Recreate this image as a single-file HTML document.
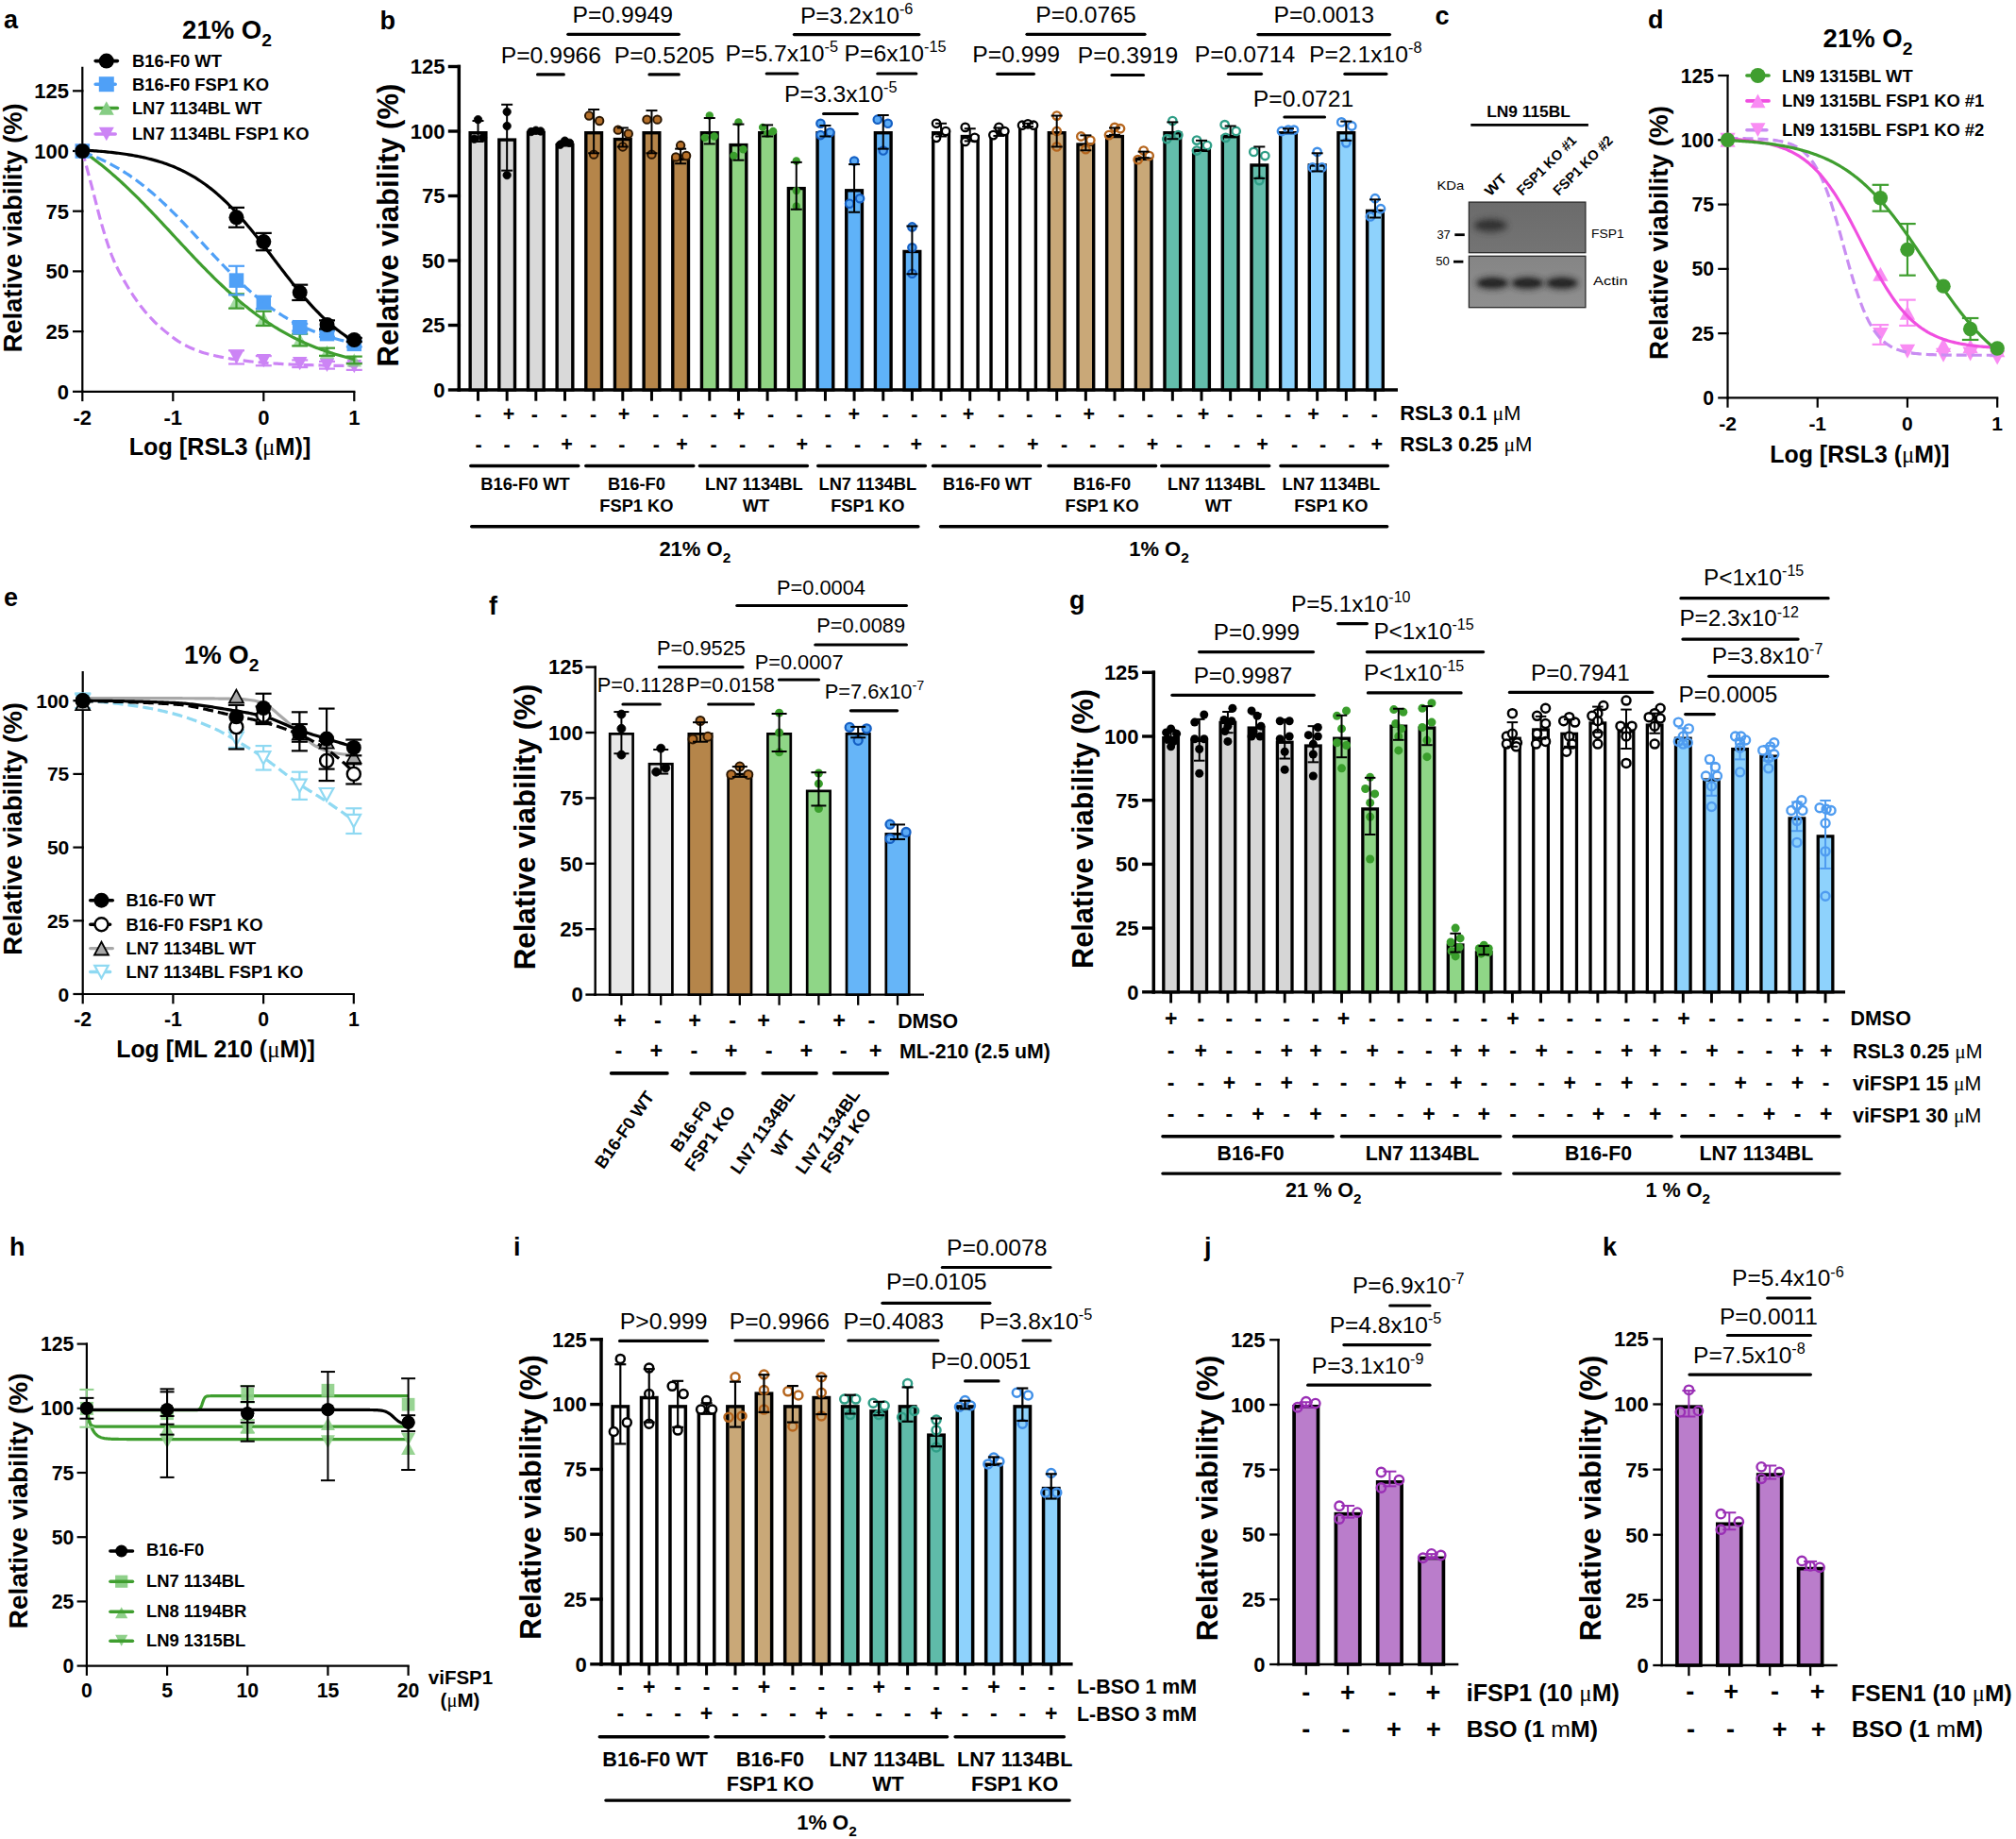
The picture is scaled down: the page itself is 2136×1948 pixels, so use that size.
<!DOCTYPE html>
<html lang="en"><head><meta charset="utf-8"><title>Figure</title>
<style>
html,body{margin:0;padding:0;background:#fff;}
body{width:2136px;height:1948px;overflow:hidden;}
svg{display:block;font-family:'Liberation Sans', Arial, Helvetica, sans-serif;}
</style></head><body>
<svg xmlns="http://www.w3.org/2000/svg" width="2136" height="1948" viewBox="0 0 2136 1948">
<defs>
<filter id="blur3" x="-30%" y="-60%" width="160%" height="220%"><feGaussianBlur stdDeviation="3.0"/></filter>
<filter id="blur2" x="-30%" y="-60%" width="160%" height="220%"><feGaussianBlur stdDeviation="1.8"/></filter>
</defs>
<rect x="0" y="0" width="2136" height="1948" fill="#ffffff"/>
<g id="panel_a">
<text x="4" y="30.3" font-size="27" font-weight="bold" text-anchor="start" fill="#000">a</text>
<text x="240.5" y="40.8" font-size="27.5" font-weight="bold" text-anchor="middle" fill="#000">21% O<tspan font-size="19.25" dy="8.53">2</tspan><tspan dy="-8.53"></tspan></text>
<line x1="87.3" y1="70.82" x2="87.3" y2="415.9" stroke="#000" stroke-width="2.2" stroke-linecap="butt"/>
<line x1="77" y1="414.8" x2="88.4" y2="414.8" stroke="#000" stroke-width="2.2" stroke-linecap="butt"/>
<text x="72.9" y="422.68" font-size="22" font-weight="bold" text-anchor="end" fill="#000">0</text>
<line x1="77" y1="351.1" x2="88.4" y2="351.1" stroke="#000" stroke-width="2.2" stroke-linecap="butt"/>
<text x="72.9" y="358.98" font-size="22" font-weight="bold" text-anchor="end" fill="#000">25</text>
<line x1="77" y1="287.4" x2="88.4" y2="287.4" stroke="#000" stroke-width="2.2" stroke-linecap="butt"/>
<text x="72.9" y="295.28" font-size="22" font-weight="bold" text-anchor="end" fill="#000">50</text>
<line x1="77" y1="223.7" x2="88.4" y2="223.7" stroke="#000" stroke-width="2.2" stroke-linecap="butt"/>
<text x="72.9" y="231.58" font-size="22" font-weight="bold" text-anchor="end" fill="#000">75</text>
<line x1="77" y1="160" x2="88.4" y2="160" stroke="#000" stroke-width="2.2" stroke-linecap="butt"/>
<text x="72.9" y="167.88" font-size="22" font-weight="bold" text-anchor="end" fill="#000">100</text>
<line x1="77" y1="96.3" x2="88.4" y2="96.3" stroke="#000" stroke-width="2.2" stroke-linecap="butt"/>
<text x="72.9" y="104.18" font-size="22" font-weight="bold" text-anchor="end" fill="#000">125</text>
<text x="23.1" y="241.3" font-size="27.3" font-weight="bold" text-anchor="middle" fill="#000" transform="rotate(-90 23.1 241.3)">Relative viability (%)</text>
<line x1="86.2" y1="414.8" x2="376.4" y2="414.8" stroke="#000" stroke-width="2.2" stroke-linecap="butt"/>
<line x1="87.3" y1="414.8" x2="87.3" y2="425.1" stroke="#000" stroke-width="2.2" stroke-linecap="butt"/>
<text x="87.3" y="449.5" font-size="22" font-weight="bold" text-anchor="middle" fill="#000">-2</text>
<line x1="183.3" y1="414.8" x2="183.3" y2="425.1" stroke="#000" stroke-width="2.2" stroke-linecap="butt"/>
<text x="183.3" y="449.5" font-size="22" font-weight="bold" text-anchor="middle" fill="#000">-1</text>
<line x1="279.3" y1="414.8" x2="279.3" y2="425.1" stroke="#000" stroke-width="2.2" stroke-linecap="butt"/>
<text x="279.3" y="449.5" font-size="22" font-weight="bold" text-anchor="middle" fill="#000">0</text>
<line x1="375.3" y1="414.8" x2="375.3" y2="425.1" stroke="#000" stroke-width="2.2" stroke-linecap="butt"/>
<text x="375.3" y="449.5" font-size="22" font-weight="bold" text-anchor="middle" fill="#000">1</text>
<text x="233" y="482" font-size="25.2" font-weight="bold" text-anchor="middle" fill="#000">Log [RSL3 (<tspan font-family='"Liberation Serif", serif' font-weight="normal">μ</tspan>M)]</text>
<polygon points="87.3,167.13 95.05,152.87 79.55,152.87" fill="#cc84f5" stroke="none" stroke-width="0" stroke-linejoin="miter"/>
<line x1="250.5" y1="371.23" x2="250.5" y2="385.5" stroke="#cc84f5" stroke-width="2.2" stroke-linecap="butt"/>
<line x1="242" y1="371.23" x2="259" y2="371.23" stroke="#cc84f5" stroke-width="2.2" stroke-linecap="butt"/>
<line x1="242" y1="385.5" x2="259" y2="385.5" stroke="#cc84f5" stroke-width="2.2" stroke-linecap="butt"/>
<polygon points="250.5,385.49 258.25,371.23 242.75,371.23" fill="#cc84f5" stroke="none" stroke-width="0" stroke-linejoin="miter"/>
<line x1="279.3" y1="377.09" x2="279.3" y2="387.28" stroke="#cc84f5" stroke-width="2.2" stroke-linecap="butt"/>
<line x1="270.8" y1="377.09" x2="287.8" y2="377.09" stroke="#cc84f5" stroke-width="2.2" stroke-linecap="butt"/>
<line x1="270.8" y1="387.28" x2="287.8" y2="387.28" stroke="#cc84f5" stroke-width="2.2" stroke-linecap="butt"/>
<polygon points="279.3,389.32 287.05,375.06 271.55,375.06" fill="#cc84f5" stroke="none" stroke-width="0" stroke-linejoin="miter"/>
<line x1="317.7" y1="381.42" x2="317.7" y2="389.07" stroke="#cc84f5" stroke-width="2.2" stroke-linecap="butt"/>
<line x1="309.2" y1="381.42" x2="326.2" y2="381.42" stroke="#cc84f5" stroke-width="2.2" stroke-linecap="butt"/>
<line x1="309.2" y1="389.07" x2="326.2" y2="389.07" stroke="#cc84f5" stroke-width="2.2" stroke-linecap="butt"/>
<polygon points="317.7,392.37 325.45,378.11 309.95,378.11" fill="#cc84f5" stroke="none" stroke-width="0" stroke-linejoin="miter"/>
<line x1="346.5" y1="382.95" x2="346.5" y2="390.59" stroke="#cc84f5" stroke-width="2.2" stroke-linecap="butt"/>
<line x1="338" y1="382.95" x2="355" y2="382.95" stroke="#cc84f5" stroke-width="2.2" stroke-linecap="butt"/>
<line x1="338" y1="390.59" x2="355" y2="390.59" stroke="#cc84f5" stroke-width="2.2" stroke-linecap="butt"/>
<polygon points="346.5,393.9 354.25,379.64 338.75,379.64" fill="#cc84f5" stroke="none" stroke-width="0" stroke-linejoin="miter"/>
<line x1="375.3" y1="384.22" x2="375.3" y2="391.87" stroke="#cc84f5" stroke-width="2.2" stroke-linecap="butt"/>
<line x1="366.8" y1="384.22" x2="383.8" y2="384.22" stroke="#cc84f5" stroke-width="2.2" stroke-linecap="butt"/>
<line x1="366.8" y1="391.87" x2="383.8" y2="391.87" stroke="#cc84f5" stroke-width="2.2" stroke-linecap="butt"/>
<polygon points="375.3,395.18 383.05,380.92 367.55,380.92" fill="#cc84f5" stroke="none" stroke-width="0" stroke-linejoin="miter"/>
<path d="M87.3 160 L89.11 166.82 L90.92 173.65 L92.73 180.48 L94.55 187.32 L96.36 194.17 L98.17 201.03 L99.98 208.05 L101.79 215.19 L103.6 222.3 L105.41 229.25 L107.22 235.9 L109.04 242.12 L110.85 248.09 L112.66 253.9 L114.47 259.48 L116.28 264.78 L118.09 269.72 L119.9 274.24 L121.72 278.42 L123.53 282.33 L125.34 286 L127.15 289.49 L128.96 292.82 L130.77 296.03 L132.58 299.16 L134.39 302.23 L136.21 305.23 L138.02 308.16 L139.83 311.01 L141.64 313.78 L143.45 316.47 L145.26 319.08 L147.07 321.59 L148.88 324.01 L150.7 326.34 L152.51 328.57 L154.32 330.71 L156.13 332.79 L157.94 334.81 L159.75 336.77 L161.56 338.67 L163.38 340.51 L165.19 342.29 L167 344.01 L168.81 345.69 L170.62 347.3 L172.43 348.87 L174.24 350.39 L176.05 351.87 L177.87 353.33 L179.68 354.76 L181.49 356.16 L183.3 357.52 L185.11 358.84 L186.92 360.11 L188.73 361.33 L190.55 362.49 L192.36 363.59 L194.17 364.62 L195.98 365.58 L197.79 366.48 L199.6 367.36 L201.41 368.2 L203.22 369.01 L205.04 369.79 L206.85 370.54 L208.66 371.25 L210.47 371.93 L212.28 372.56 L214.09 373.16 L215.9 373.73 L217.72 374.25 L219.53 374.74 L221.34 375.21 L223.15 375.67 L224.96 376.11 L226.77 376.53 L228.58 376.94 L230.39 377.34 L232.21 377.72 L234.02 378.09 L235.83 378.45 L237.64 378.79 L239.45 379.12 L241.26 379.44 L243.07 379.75 L244.88 380.05 L246.7 380.34 L248.51 380.62 L250.32 380.89 L252.13 381.15 L253.94 381.4 L255.75 381.65 L257.56 381.9 L259.38 382.14 L261.19 382.37 L263 382.59 L264.81 382.81 L266.62 383.02 L268.43 383.22 L270.24 383.41 L272.05 383.59 L273.87 383.76 L275.68 383.93 L277.49 384.08 L279.3 384.22 L281.11 384.36 L282.92 384.49 L284.73 384.62 L286.55 384.75 L288.36 384.87 L290.17 384.99 L291.98 385.11 L293.79 385.22 L295.6 385.33 L297.41 385.44 L299.22 385.54 L301.04 385.64 L302.85 385.73 L304.66 385.82 L306.47 385.9 L308.28 385.98 L310.09 386.06 L311.9 386.13 L313.72 386.19 L315.53 386.25 L317.34 386.31 L319.15 386.37 L320.96 386.43 L322.77 386.49 L324.58 386.54 L326.39 386.6 L328.21 386.66 L330.02 386.71 L331.83 386.76 L333.64 386.82 L335.45 386.87 L337.26 386.92 L339.07 386.97 L340.88 387.02 L342.7 387.07 L344.51 387.11 L346.32 387.16 L348.13 387.2 L349.94 387.24 L351.75 387.28 L353.56 387.31 L355.38 387.35 L357.19 387.38 L359 387.41 L360.81 387.43 L362.62 387.46 L364.43 387.48 L366.24 387.49 L368.05 387.51 L369.87 387.52 L371.68 387.53 L373.49 387.53 L375.3 387.54" fill="none" stroke="#cc84f5" stroke-width="3.2" stroke-linejoin="round" stroke-linecap="butt" stroke-dasharray="11 5"/>
<polygon points="250.5,311.87 258.25,326.13 242.75,326.13" fill="#86cd84" stroke="none" stroke-width="0" stroke-linejoin="miter" fill-opacity="0.75"/>
<line x1="250.5" y1="311.35" x2="250.5" y2="326.64" stroke="#3f9e2f" stroke-width="2.2" stroke-linecap="butt"/>
<line x1="242" y1="311.35" x2="259" y2="311.35" stroke="#3f9e2f" stroke-width="2.2" stroke-linecap="butt"/>
<line x1="242" y1="326.64" x2="259" y2="326.64" stroke="#3f9e2f" stroke-width="2.2" stroke-linecap="butt"/>
<polygon points="279.3,330.21 287.05,344.47 271.55,344.47" fill="#86cd84" stroke="none" stroke-width="0" stroke-linejoin="miter" fill-opacity="0.75"/>
<line x1="279.3" y1="329.7" x2="279.3" y2="344.98" stroke="#3f9e2f" stroke-width="2.2" stroke-linecap="butt"/>
<line x1="270.8" y1="329.7" x2="287.8" y2="329.7" stroke="#3f9e2f" stroke-width="2.2" stroke-linecap="butt"/>
<line x1="270.8" y1="344.98" x2="287.8" y2="344.98" stroke="#3f9e2f" stroke-width="2.2" stroke-linecap="butt"/>
<polygon points="317.7,352.89 325.45,367.15 309.95,367.15" fill="#86cd84" stroke="none" stroke-width="0" stroke-linejoin="miter" fill-opacity="0.75"/>
<line x1="317.7" y1="353.65" x2="317.7" y2="366.39" stroke="#3f9e2f" stroke-width="2.2" stroke-linecap="butt"/>
<line x1="309.2" y1="353.65" x2="326.2" y2="353.65" stroke="#3f9e2f" stroke-width="2.2" stroke-linecap="butt"/>
<line x1="309.2" y1="366.39" x2="326.2" y2="366.39" stroke="#3f9e2f" stroke-width="2.2" stroke-linecap="butt"/>
<polygon points="346.5,365.63 354.25,379.89 338.75,379.89" fill="#86cd84" stroke="none" stroke-width="0" stroke-linejoin="miter" fill-opacity="0.75"/>
<line x1="346.5" y1="368.68" x2="346.5" y2="376.83" stroke="#3f9e2f" stroke-width="2.2" stroke-linecap="butt"/>
<line x1="338" y1="368.68" x2="355" y2="368.68" stroke="#3f9e2f" stroke-width="2.2" stroke-linecap="butt"/>
<line x1="338" y1="376.83" x2="355" y2="376.83" stroke="#3f9e2f" stroke-width="2.2" stroke-linecap="butt"/>
<polygon points="375.3,374.29 383.05,388.55 367.55,388.55" fill="#86cd84" stroke="none" stroke-width="0" stroke-linejoin="miter" fill-opacity="0.75"/>
<line x1="375.3" y1="377.6" x2="375.3" y2="385.24" stroke="#3f9e2f" stroke-width="2.2" stroke-linecap="butt"/>
<line x1="366.8" y1="377.6" x2="383.8" y2="377.6" stroke="#3f9e2f" stroke-width="2.2" stroke-linecap="butt"/>
<line x1="366.8" y1="385.24" x2="383.8" y2="385.24" stroke="#3f9e2f" stroke-width="2.2" stroke-linecap="butt"/>
<path d="M87.3 159.92 L89.11 161.16 L90.92 162.41 L92.73 163.69 L94.55 164.98 L96.36 166.3 L98.17 167.63 L99.98 168.99 L101.79 170.37 L103.6 171.76 L105.41 173.17 L107.22 174.61 L109.04 176.06 L110.85 177.54 L112.66 179.03 L114.47 180.54 L116.28 182.07 L118.09 183.62 L119.9 185.19 L121.72 186.77 L123.53 188.38 L125.34 190 L127.15 191.64 L128.96 193.29 L130.77 194.97 L132.58 196.66 L134.39 198.36 L136.21 200.08 L138.02 201.82 L139.83 203.57 L141.64 205.34 L143.45 207.12 L145.26 208.92 L147.07 210.73 L148.88 212.55 L150.7 214.38 L152.51 216.23 L154.32 218.08 L156.13 219.95 L157.94 221.83 L159.75 223.71 L161.56 225.61 L163.38 227.51 L165.19 229.42 L167 231.34 L168.81 233.27 L170.62 235.2 L172.43 237.13 L174.24 239.07 L176.05 241.02 L177.87 242.96 L179.68 244.91 L181.49 246.86 L183.3 248.82 L185.11 250.77 L186.92 252.72 L188.73 254.67 L190.55 256.62 L192.36 258.57 L194.17 260.52 L195.98 262.46 L197.79 264.39 L199.6 266.33 L201.41 268.25 L203.22 270.17 L205.04 272.09 L206.85 273.99 L208.66 275.89 L210.47 277.78 L212.28 279.66 L214.09 281.52 L215.9 283.38 L217.72 285.23 L219.53 287.07 L221.34 288.89 L223.15 290.7 L224.96 292.5 L226.77 294.28 L228.58 296.05 L230.39 297.81 L232.21 299.55 L234.02 301.28 L235.83 302.99 L237.64 304.68 L239.45 306.36 L241.26 308.02 L243.07 309.66 L244.88 311.29 L246.7 312.89 L248.51 314.48 L250.32 316.06 L252.13 317.61 L253.94 319.14 L255.75 320.66 L257.56 322.16 L259.38 323.63 L261.19 325.09 L263 326.53 L264.81 327.95 L266.62 329.35 L268.43 330.73 L270.24 332.09 L272.05 333.43 L273.87 334.75 L275.68 336.05 L277.49 337.33 L279.3 338.59 L281.11 339.83 L282.92 341.05 L284.73 342.25 L286.55 343.43 L288.36 344.6 L290.17 345.74 L291.98 346.86 L293.79 347.96 L295.6 349.05 L297.41 350.11 L299.22 351.16 L301.04 352.19 L302.85 353.2 L304.66 354.19 L306.47 355.16 L308.28 356.12 L310.09 357.05 L311.9 357.97 L313.72 358.87 L315.53 359.75 L317.34 360.62 L319.15 361.47 L320.96 362.3 L322.77 363.12 L324.58 363.92 L326.39 364.7 L328.21 365.47 L330.02 366.22 L331.83 366.96 L333.64 367.68 L335.45 368.39 L337.26 369.08 L339.07 369.75 L340.88 370.42 L342.7 371.06 L344.51 371.7 L346.32 372.32 L348.13 372.93 L349.94 373.52 L351.75 374.1 L353.56 374.67 L355.38 375.23 L357.19 375.77 L359 376.3 L360.81 376.82 L362.62 377.33 L364.43 377.82 L366.24 378.31 L368.05 378.78 L369.87 379.25 L371.68 379.7 L373.49 380.14 L375.3 380.57" fill="none" stroke="#3f9e2f" stroke-width="3.2" stroke-linejoin="round" stroke-linecap="butt"/>
<polygon points="79.55,152.25 95.05,152.25 95.05,167.75 79.55,167.75" fill="#4fa0f7" stroke="none" stroke-width="0" stroke-linejoin="miter"/>
<line x1="250.5" y1="281.79" x2="250.5" y2="312.37" stroke="#4fa0f7" stroke-width="2.2" stroke-linecap="butt"/>
<line x1="242" y1="281.79" x2="259" y2="281.79" stroke="#4fa0f7" stroke-width="2.2" stroke-linecap="butt"/>
<line x1="242" y1="312.37" x2="259" y2="312.37" stroke="#4fa0f7" stroke-width="2.2" stroke-linecap="butt"/>
<polygon points="242.75,289.33 258.25,289.33 258.25,304.83 242.75,304.83" fill="#4fa0f7" stroke="none" stroke-width="0" stroke-linejoin="miter"/>
<line x1="279.3" y1="313.9" x2="279.3" y2="327.15" stroke="#4fa0f7" stroke-width="2.2" stroke-linecap="butt"/>
<line x1="270.8" y1="313.9" x2="287.8" y2="313.9" stroke="#4fa0f7" stroke-width="2.2" stroke-linecap="butt"/>
<line x1="270.8" y1="327.15" x2="287.8" y2="327.15" stroke="#4fa0f7" stroke-width="2.2" stroke-linecap="butt"/>
<polygon points="271.55,312.77 287.05,312.77 287.05,328.27 271.55,328.27" fill="#4fa0f7" stroke="none" stroke-width="0" stroke-linejoin="miter"/>
<line x1="317.7" y1="342.95" x2="317.7" y2="350.59" stroke="#4fa0f7" stroke-width="2.2" stroke-linecap="butt"/>
<line x1="309.2" y1="342.95" x2="326.2" y2="342.95" stroke="#4fa0f7" stroke-width="2.2" stroke-linecap="butt"/>
<line x1="309.2" y1="350.59" x2="326.2" y2="350.59" stroke="#4fa0f7" stroke-width="2.2" stroke-linecap="butt"/>
<polygon points="309.95,339.02 325.45,339.02 325.45,354.52 309.95,354.52" fill="#4fa0f7" stroke="none" stroke-width="0" stroke-linejoin="miter"/>
<line x1="346.5" y1="350.59" x2="346.5" y2="356.71" stroke="#4fa0f7" stroke-width="2.2" stroke-linecap="butt"/>
<line x1="338" y1="350.59" x2="355" y2="350.59" stroke="#4fa0f7" stroke-width="2.2" stroke-linecap="butt"/>
<line x1="338" y1="356.71" x2="355" y2="356.71" stroke="#4fa0f7" stroke-width="2.2" stroke-linecap="butt"/>
<polygon points="338.75,345.9 354.25,345.9 354.25,361.4 338.75,361.4" fill="#4fa0f7" stroke="none" stroke-width="0" stroke-linejoin="miter"/>
<line x1="375.3" y1="361.29" x2="375.3" y2="367.41" stroke="#4fa0f7" stroke-width="2.2" stroke-linecap="butt"/>
<line x1="366.8" y1="361.29" x2="383.8" y2="361.29" stroke="#4fa0f7" stroke-width="2.2" stroke-linecap="butt"/>
<line x1="366.8" y1="367.41" x2="383.8" y2="367.41" stroke="#4fa0f7" stroke-width="2.2" stroke-linecap="butt"/>
<polygon points="367.55,356.6 383.05,356.6 383.05,372.1 367.55,372.1" fill="#4fa0f7" stroke="none" stroke-width="0" stroke-linejoin="miter"/>
<path d="M87.3 160.85 L89.11 161.48 L90.92 162.14 L92.73 162.81 L94.55 163.5 L96.36 164.21 L98.17 164.94 L99.98 165.68 L101.79 166.45 L103.6 167.24 L105.41 168.04 L107.22 168.87 L109.04 169.72 L110.85 170.59 L112.66 171.48 L114.47 172.4 L116.28 173.33 L118.09 174.29 L119.9 175.28 L121.72 176.28 L123.53 177.31 L125.34 178.36 L127.15 179.44 L128.96 180.54 L130.77 181.67 L132.58 182.82 L134.39 183.99 L136.21 185.19 L138.02 186.41 L139.83 187.66 L141.64 188.94 L143.45 190.24 L145.26 191.56 L147.07 192.91 L148.88 194.28 L150.7 195.68 L152.51 197.11 L154.32 198.55 L156.13 200.03 L157.94 201.53 L159.75 203.05 L161.56 204.59 L163.38 206.16 L165.19 207.75 L167 209.37 L168.81 211 L170.62 212.66 L172.43 214.34 L174.24 216.04 L176.05 217.76 L177.87 219.5 L179.68 221.26 L181.49 223.04 L183.3 224.83 L185.11 226.64 L186.92 228.47 L188.73 230.32 L190.55 232.17 L192.36 234.04 L194.17 235.93 L195.98 237.82 L197.79 239.73 L199.6 241.64 L201.41 243.57 L203.22 245.5 L205.04 247.44 L206.85 249.38 L208.66 251.33 L210.47 253.28 L212.28 255.23 L214.09 257.19 L215.9 259.15 L217.72 261.1 L219.53 263.06 L221.34 265.01 L223.15 266.95 L224.96 268.89 L226.77 270.83 L228.58 272.76 L230.39 274.68 L232.21 276.59 L234.02 278.49 L235.83 280.38 L237.64 282.25 L239.45 284.12 L241.26 285.97 L243.07 287.8 L244.88 289.62 L246.7 291.42 L248.51 293.21 L250.32 294.98 L252.13 296.73 L253.94 298.46 L255.75 300.17 L257.56 301.86 L259.38 303.53 L261.19 305.17 L263 306.8 L264.81 308.4 L266.62 309.98 L268.43 311.54 L270.24 313.07 L272.05 314.58 L273.87 316.06 L275.68 317.52 L277.49 318.96 L279.3 320.37 L281.11 321.76 L282.92 323.12 L284.73 324.46 L286.55 325.77 L288.36 327.05 L290.17 328.31 L291.98 329.55 L293.79 330.76 L295.6 331.95 L297.41 333.11 L299.22 334.25 L301.04 335.36 L302.85 336.45 L304.66 337.51 L306.47 338.55 L308.28 339.57 L310.09 340.56 L311.9 341.53 L313.72 342.48 L315.53 343.41 L317.34 344.31 L319.15 345.19 L320.96 346.05 L322.77 346.89 L324.58 347.71 L326.39 348.5 L328.21 349.28 L330.02 350.04 L331.83 350.77 L333.64 351.49 L335.45 352.19 L337.26 352.87 L339.07 353.53 L340.88 354.18 L342.7 354.8 L344.51 355.41 L346.32 356.01 L348.13 356.58 L349.94 357.15 L351.75 357.69 L353.56 358.22 L355.38 358.74 L357.19 359.24 L359 359.72 L360.81 360.2 L362.62 360.66 L364.43 361.1 L366.24 361.54 L368.05 361.96 L369.87 362.36 L371.68 362.76 L373.49 363.15 L375.3 363.52" fill="none" stroke="#4fa0f7" stroke-width="3.2" stroke-linejoin="round" stroke-linecap="butt" stroke-dasharray="11 5"/>
<path d="M87.3 158.98 L89.11 159.08 L90.92 159.19 L92.73 159.3 L94.55 159.42 L96.36 159.54 L98.17 159.66 L99.98 159.79 L101.79 159.93 L103.6 160.07 L105.41 160.22 L107.22 160.37 L109.04 160.53 L110.85 160.69 L112.66 160.86 L114.47 161.04 L116.28 161.23 L118.09 161.42 L119.9 161.62 L121.72 161.83 L123.53 162.04 L125.34 162.27 L127.15 162.5 L128.96 162.75 L130.77 163 L132.58 163.26 L134.39 163.53 L136.21 163.82 L138.02 164.11 L139.83 164.41 L141.64 164.73 L143.45 165.06 L145.26 165.4 L147.07 165.76 L148.88 166.12 L150.7 166.5 L152.51 166.9 L154.32 167.31 L156.13 167.74 L157.94 168.18 L159.75 168.64 L161.56 169.11 L163.38 169.61 L165.19 170.12 L167 170.65 L168.81 171.2 L170.62 171.76 L172.43 172.35 L174.24 172.96 L176.05 173.59 L177.87 174.25 L179.68 174.92 L181.49 175.62 L183.3 176.35 L185.11 177.1 L186.92 177.87 L188.73 178.67 L190.55 179.5 L192.36 180.35 L194.17 181.23 L195.98 182.14 L197.79 183.08 L199.6 184.05 L201.41 185.05 L203.22 186.08 L205.04 187.14 L206.85 188.24 L208.66 189.37 L210.47 190.53 L212.28 191.72 L214.09 192.95 L215.9 194.22 L217.72 195.51 L219.53 196.85 L221.34 198.22 L223.15 199.63 L224.96 201.07 L226.77 202.55 L228.58 204.07 L230.39 205.62 L232.21 207.21 L234.02 208.84 L235.83 210.51 L237.64 212.21 L239.45 213.95 L241.26 215.72 L243.07 217.53 L244.88 219.38 L246.7 221.26 L248.51 223.18 L250.32 225.13 L252.13 227.11 L253.94 229.13 L255.75 231.18 L257.56 233.25 L259.38 235.36 L261.19 237.5 L263 239.66 L264.81 241.85 L266.62 244.06 L268.43 246.3 L270.24 248.56 L272.05 250.84 L273.87 253.14 L275.68 255.45 L277.49 257.78 L279.3 260.12 L281.11 262.47 L282.92 264.84 L284.73 267.21 L286.55 269.59 L288.36 271.97 L290.17 274.35 L291.98 276.73 L293.79 279.12 L295.6 281.49 L297.41 283.86 L299.22 286.23 L301.04 288.58 L302.85 290.93 L304.66 293.26 L306.47 295.57 L308.28 297.87 L310.09 300.15 L311.9 302.41 L313.72 304.65 L315.53 306.87 L317.34 309.06 L319.15 311.22 L320.96 313.36 L322.77 315.47 L324.58 317.55 L326.39 319.6 L328.21 321.62 L330.02 323.61 L331.83 325.56 L333.64 327.48 L335.45 329.36 L337.26 331.21 L339.07 333.03 L340.88 334.8 L342.7 336.55 L344.51 338.25 L346.32 339.92 L348.13 341.55 L349.94 343.14 L351.75 344.7 L353.56 346.22 L355.38 347.7 L357.19 349.15 L359 350.56 L360.81 351.93 L362.62 353.27 L364.43 354.57 L366.24 355.84 L368.05 357.07 L369.87 358.27 L371.68 359.43 L373.49 360.56 L375.3 361.66" fill="none" stroke="#000" stroke-width="3.2" stroke-linejoin="round" stroke-linecap="butt"/>
<line x1="250.5" y1="219.88" x2="250.5" y2="240.77" stroke="#000" stroke-width="2.2" stroke-linecap="butt"/>
<line x1="242" y1="219.88" x2="259" y2="219.88" stroke="#000" stroke-width="2.2" stroke-linecap="butt"/>
<line x1="242" y1="240.77" x2="259" y2="240.77" stroke="#000" stroke-width="2.2" stroke-linecap="butt"/>
<circle cx="250.5" cy="230.32" r="8" fill="#000" stroke="none" stroke-width="0"/>
<line x1="279.3" y1="246.89" x2="279.3" y2="265.23" stroke="#000" stroke-width="2.2" stroke-linecap="butt"/>
<line x1="270.8" y1="246.89" x2="287.8" y2="246.89" stroke="#000" stroke-width="2.2" stroke-linecap="butt"/>
<line x1="270.8" y1="265.23" x2="287.8" y2="265.23" stroke="#000" stroke-width="2.2" stroke-linecap="butt"/>
<circle cx="279.3" cy="256.06" r="8" fill="#000" stroke="none" stroke-width="0"/>
<line x1="317.7" y1="301.67" x2="317.7" y2="317.98" stroke="#000" stroke-width="2.2" stroke-linecap="butt"/>
<line x1="309.2" y1="301.67" x2="326.2" y2="301.67" stroke="#000" stroke-width="2.2" stroke-linecap="butt"/>
<line x1="309.2" y1="317.98" x2="326.2" y2="317.98" stroke="#000" stroke-width="2.2" stroke-linecap="butt"/>
<circle cx="317.7" cy="309.82" r="8" fill="#000" stroke="none" stroke-width="0"/>
<line x1="346.5" y1="339.38" x2="346.5" y2="348.55" stroke="#000" stroke-width="2.2" stroke-linecap="butt"/>
<line x1="338" y1="339.38" x2="355" y2="339.38" stroke="#000" stroke-width="2.2" stroke-linecap="butt"/>
<line x1="338" y1="348.55" x2="355" y2="348.55" stroke="#000" stroke-width="2.2" stroke-linecap="butt"/>
<circle cx="346.5" cy="343.97" r="8" fill="#000" stroke="none" stroke-width="0"/>
<line x1="375.3" y1="357.98" x2="375.3" y2="362.06" stroke="#000" stroke-width="2.2" stroke-linecap="butt"/>
<line x1="366.8" y1="357.98" x2="383.8" y2="357.98" stroke="#000" stroke-width="2.2" stroke-linecap="butt"/>
<line x1="366.8" y1="362.06" x2="383.8" y2="362.06" stroke="#000" stroke-width="2.2" stroke-linecap="butt"/>
<circle cx="375.3" cy="360.02" r="8" fill="#000" stroke="none" stroke-width="0"/>
<circle cx="87.3" cy="160" r="8" fill="#000" stroke="none" stroke-width="0"/>
<line x1="101.2" y1="64.6" x2="124.4" y2="64.6" stroke="#000" stroke-width="3.6" stroke-linecap="round"/>
<circle cx="112.8" cy="64.6" r="8" fill="#000" stroke="none" stroke-width="0"/>
<text x="139.9" y="71.3" font-size="18.4" font-weight="bold" text-anchor="start" fill="#000">B16-F0 WT</text>
<line x1="101.2" y1="89.2" x2="124.4" y2="89.2" stroke="#4fa0f7" stroke-width="3.6" stroke-linecap="round" stroke-dasharray="9 3"/>
<polygon points="104.8,81.2 120.8,81.2 120.8,97.2 104.8,97.2" fill="#4fa0f7" stroke="none" stroke-width="0" stroke-linejoin="miter"/>
<text x="139.9" y="95.6" font-size="18.4" font-weight="bold" text-anchor="start" fill="#000">B16-F0 FSP1 KO</text>
<line x1="101.2" y1="114.5" x2="124.4" y2="114.5" stroke="#3f9e2f" stroke-width="3.6" stroke-linecap="round"/>
<polygon points="112.8,107.14 120.8,121.86 104.8,121.86" fill="#86cd84" stroke="none" stroke-width="0" stroke-linejoin="miter"/>
<text x="139.9" y="120.7" font-size="18.4" font-weight="bold" text-anchor="start" fill="#000">LN7 1134BL WT</text>
<line x1="101.2" y1="142" x2="124.4" y2="142" stroke="#cc84f5" stroke-width="3.6" stroke-linecap="round" stroke-dasharray="9 3"/>
<polygon points="112.8,149.36 120.8,134.64 104.8,134.64" fill="#cc84f5" stroke="none" stroke-width="0" stroke-linejoin="miter"/>
<text x="139.9" y="148.3" font-size="18.4" font-weight="bold" text-anchor="start" fill="#000">LN7 1134BL FSP1 KO</text>
</g>
<g id="panel_b">
<text x="402.5" y="31.2" font-size="27" font-weight="bold" text-anchor="start" fill="#000">b</text>
<line x1="486.3" y1="68.8" x2="486.3" y2="414.75" stroke="#000" stroke-width="3.5" stroke-linecap="butt"/>
<line x1="474.8" y1="413" x2="488.05" y2="413" stroke="#000" stroke-width="3.4" stroke-linecap="butt"/>
<text x="471.5" y="420.88" font-size="22" font-weight="bold" text-anchor="end" fill="#000">0</text>
<line x1="474.8" y1="344.5" x2="488.05" y2="344.5" stroke="#000" stroke-width="3.4" stroke-linecap="butt"/>
<text x="471.5" y="352.38" font-size="22" font-weight="bold" text-anchor="end" fill="#000">25</text>
<line x1="474.8" y1="276" x2="488.05" y2="276" stroke="#000" stroke-width="3.4" stroke-linecap="butt"/>
<text x="471.5" y="283.88" font-size="22" font-weight="bold" text-anchor="end" fill="#000">50</text>
<line x1="474.8" y1="207.5" x2="488.05" y2="207.5" stroke="#000" stroke-width="3.4" stroke-linecap="butt"/>
<text x="471.5" y="215.38" font-size="22" font-weight="bold" text-anchor="end" fill="#000">75</text>
<line x1="474.8" y1="139" x2="488.05" y2="139" stroke="#000" stroke-width="3.4" stroke-linecap="butt"/>
<text x="471.5" y="146.88" font-size="22" font-weight="bold" text-anchor="end" fill="#000">100</text>
<line x1="474.8" y1="70.5" x2="488.05" y2="70.5" stroke="#000" stroke-width="3.4" stroke-linecap="butt"/>
<text x="471.5" y="78.38" font-size="22" font-weight="bold" text-anchor="end" fill="#000">125</text>
<text x="422.4" y="238.6" font-size="31" font-weight="bold" text-anchor="middle" fill="#000" transform="rotate(-90 422.4 238.6)">Relative viability (%)</text>
<line x1="484.55" y1="413" x2="1481" y2="413" stroke="#000" stroke-width="3.4" stroke-linecap="butt"/>
<line x1="506.5" y1="413" x2="506.5" y2="424.7" stroke="#000" stroke-width="3" stroke-linecap="butt"/>
<line x1="537.16" y1="413" x2="537.16" y2="424.7" stroke="#000" stroke-width="3" stroke-linecap="butt"/>
<line x1="567.82" y1="413" x2="567.82" y2="424.7" stroke="#000" stroke-width="3" stroke-linecap="butt"/>
<line x1="598.48" y1="413" x2="598.48" y2="424.7" stroke="#000" stroke-width="3" stroke-linecap="butt"/>
<line x1="629.14" y1="413" x2="629.14" y2="424.7" stroke="#000" stroke-width="3" stroke-linecap="butt"/>
<line x1="659.8" y1="413" x2="659.8" y2="424.7" stroke="#000" stroke-width="3" stroke-linecap="butt"/>
<line x1="690.46" y1="413" x2="690.46" y2="424.7" stroke="#000" stroke-width="3" stroke-linecap="butt"/>
<line x1="721.12" y1="413" x2="721.12" y2="424.7" stroke="#000" stroke-width="3" stroke-linecap="butt"/>
<line x1="751.78" y1="413" x2="751.78" y2="424.7" stroke="#000" stroke-width="3" stroke-linecap="butt"/>
<line x1="782.44" y1="413" x2="782.44" y2="424.7" stroke="#000" stroke-width="3" stroke-linecap="butt"/>
<line x1="813.1" y1="413" x2="813.1" y2="424.7" stroke="#000" stroke-width="3" stroke-linecap="butt"/>
<line x1="843.76" y1="413" x2="843.76" y2="424.7" stroke="#000" stroke-width="3" stroke-linecap="butt"/>
<line x1="874.42" y1="413" x2="874.42" y2="424.7" stroke="#000" stroke-width="3" stroke-linecap="butt"/>
<line x1="905.08" y1="413" x2="905.08" y2="424.7" stroke="#000" stroke-width="3" stroke-linecap="butt"/>
<line x1="935.74" y1="413" x2="935.74" y2="424.7" stroke="#000" stroke-width="3" stroke-linecap="butt"/>
<line x1="966.4" y1="413" x2="966.4" y2="424.7" stroke="#000" stroke-width="3" stroke-linecap="butt"/>
<line x1="997.06" y1="413" x2="997.06" y2="424.7" stroke="#000" stroke-width="3" stroke-linecap="butt"/>
<line x1="1027.72" y1="413" x2="1027.72" y2="424.7" stroke="#000" stroke-width="3" stroke-linecap="butt"/>
<line x1="1058.38" y1="413" x2="1058.38" y2="424.7" stroke="#000" stroke-width="3" stroke-linecap="butt"/>
<line x1="1089.04" y1="413" x2="1089.04" y2="424.7" stroke="#000" stroke-width="3" stroke-linecap="butt"/>
<line x1="1119.7" y1="413" x2="1119.7" y2="424.7" stroke="#000" stroke-width="3" stroke-linecap="butt"/>
<line x1="1150.36" y1="413" x2="1150.36" y2="424.7" stroke="#000" stroke-width="3" stroke-linecap="butt"/>
<line x1="1181.02" y1="413" x2="1181.02" y2="424.7" stroke="#000" stroke-width="3" stroke-linecap="butt"/>
<line x1="1211.68" y1="413" x2="1211.68" y2="424.7" stroke="#000" stroke-width="3" stroke-linecap="butt"/>
<line x1="1242.34" y1="413" x2="1242.34" y2="424.7" stroke="#000" stroke-width="3" stroke-linecap="butt"/>
<line x1="1273" y1="413" x2="1273" y2="424.7" stroke="#000" stroke-width="3" stroke-linecap="butt"/>
<line x1="1303.66" y1="413" x2="1303.66" y2="424.7" stroke="#000" stroke-width="3" stroke-linecap="butt"/>
<line x1="1334.32" y1="413" x2="1334.32" y2="424.7" stroke="#000" stroke-width="3" stroke-linecap="butt"/>
<line x1="1364.98" y1="413" x2="1364.98" y2="424.7" stroke="#000" stroke-width="3" stroke-linecap="butt"/>
<line x1="1395.64" y1="413" x2="1395.64" y2="424.7" stroke="#000" stroke-width="3" stroke-linecap="butt"/>
<line x1="1426.3" y1="413" x2="1426.3" y2="424.7" stroke="#000" stroke-width="3" stroke-linecap="butt"/>
<line x1="1456.96" y1="413" x2="1456.96" y2="424.7" stroke="#000" stroke-width="3" stroke-linecap="butt"/>
<rect x="498.15" y="140.7" width="16.7" height="272.3" fill="#d9d9d9" stroke="#000" stroke-width="3.4"/>
<rect x="528.81" y="148.1" width="16.7" height="264.9" fill="#d9d9d9" stroke="#000" stroke-width="3.4"/>
<rect x="559.47" y="140.7" width="16.7" height="272.3" fill="#d9d9d9" stroke="#000" stroke-width="3.4"/>
<rect x="590.13" y="153.58" width="16.7" height="259.42" fill="#d9d9d9" stroke="#000" stroke-width="3.4"/>
<rect x="620.79" y="140.7" width="16.7" height="272.3" fill="#b5854a" stroke="#000" stroke-width="3.4"/>
<rect x="651.45" y="147.55" width="16.7" height="265.45" fill="#b5854a" stroke="#000" stroke-width="3.4"/>
<rect x="682.11" y="140.7" width="16.7" height="272.3" fill="#b5854a" stroke="#000" stroke-width="3.4"/>
<rect x="712.77" y="168.37" width="16.7" height="244.63" fill="#b5854a" stroke="#000" stroke-width="3.4"/>
<rect x="743.43" y="140.7" width="16.7" height="272.3" fill="#8fd383" stroke="#000" stroke-width="3.4"/>
<rect x="774.09" y="153.58" width="16.7" height="259.42" fill="#8fd383" stroke="#000" stroke-width="3.4"/>
<rect x="804.75" y="140.7" width="16.7" height="272.3" fill="#8fd383" stroke="#000" stroke-width="3.4"/>
<rect x="835.41" y="199.61" width="16.7" height="213.39" fill="#8fd383" stroke="#000" stroke-width="3.4"/>
<rect x="866.07" y="140.7" width="16.7" height="272.3" fill="#5fb2f8" stroke="#000" stroke-width="3.4"/>
<rect x="896.73" y="201.8" width="16.7" height="211.2" fill="#5fb2f8" stroke="#000" stroke-width="3.4"/>
<rect x="927.39" y="140.7" width="16.7" height="272.3" fill="#5fb2f8" stroke="#000" stroke-width="3.4"/>
<rect x="958.05" y="266.47" width="16.7" height="146.53" fill="#5fb2f8" stroke="#000" stroke-width="3.4"/>
<rect x="988.71" y="140.7" width="16.7" height="272.3" fill="#ffffff" stroke="#000" stroke-width="3.4"/>
<rect x="1019.37" y="144.54" width="16.7" height="268.46" fill="#ffffff" stroke="#000" stroke-width="3.4"/>
<rect x="1050.03" y="141.52" width="16.7" height="271.48" fill="#ffffff" stroke="#000" stroke-width="3.4"/>
<rect x="1080.69" y="134.12" width="16.7" height="278.88" fill="#ffffff" stroke="#000" stroke-width="3.4"/>
<rect x="1111.35" y="140.7" width="16.7" height="272.3" fill="#c9a878" stroke="#000" stroke-width="3.4"/>
<rect x="1142.01" y="153.03" width="16.7" height="259.97" fill="#c9a878" stroke="#000" stroke-width="3.4"/>
<rect x="1172.67" y="144.54" width="16.7" height="268.46" fill="#c9a878" stroke="#000" stroke-width="3.4"/>
<rect x="1203.33" y="168.37" width="16.7" height="244.63" fill="#c9a878" stroke="#000" stroke-width="3.4"/>
<rect x="1233.99" y="140.7" width="16.7" height="272.3" fill="#63bdab" stroke="#000" stroke-width="3.4"/>
<rect x="1264.65" y="159.33" width="16.7" height="253.67" fill="#63bdab" stroke="#000" stroke-width="3.4"/>
<rect x="1295.31" y="144.54" width="16.7" height="268.46" fill="#63bdab" stroke="#000" stroke-width="3.4"/>
<rect x="1325.97" y="174.95" width="16.7" height="238.05" fill="#63bdab" stroke="#000" stroke-width="3.4"/>
<rect x="1356.63" y="140.7" width="16.7" height="272.3" fill="#8ed2fc" stroke="#000" stroke-width="3.4"/>
<rect x="1387.29" y="174.95" width="16.7" height="238.05" fill="#8ed2fc" stroke="#000" stroke-width="3.4"/>
<rect x="1417.95" y="140.7" width="16.7" height="272.3" fill="#8ed2fc" stroke="#000" stroke-width="3.4"/>
<rect x="1448.61" y="223.45" width="16.7" height="189.55" fill="#8ed2fc" stroke="#000" stroke-width="3.4"/>
<circle cx="506.5" cy="126.67" r="4.2" fill="#000" stroke="#000" stroke-width="0.8"/>
<circle cx="502.5" cy="147.22" r="4.2" fill="#000" stroke="#000" stroke-width="0.8"/>
<circle cx="511.5" cy="145.85" r="4.2" fill="#000" stroke="#000" stroke-width="0.8"/>
<line x1="506.5" y1="128.04" x2="506.5" y2="149.96" stroke="#000" stroke-width="2" stroke-linecap="butt"/>
<line x1="500.5" y1="128.04" x2="512.5" y2="128.04" stroke="#000" stroke-width="2" stroke-linecap="butt"/>
<line x1="500.5" y1="149.96" x2="512.5" y2="149.96" stroke="#000" stroke-width="2" stroke-linecap="butt"/>
<circle cx="537.16" cy="118.45" r="4.2" fill="#000" stroke="#000" stroke-width="0.8"/>
<circle cx="537.16" cy="133.52" r="4.2" fill="#000" stroke="#000" stroke-width="0.8"/>
<circle cx="537.16" cy="185.58" r="4.2" fill="#000" stroke="#000" stroke-width="0.8"/>
<line x1="537.16" y1="110.78" x2="537.16" y2="180.65" stroke="#000" stroke-width="2" stroke-linecap="butt"/>
<line x1="531.16" y1="110.78" x2="543.16" y2="110.78" stroke="#000" stroke-width="2" stroke-linecap="butt"/>
<line x1="531.16" y1="180.65" x2="543.16" y2="180.65" stroke="#000" stroke-width="2" stroke-linecap="butt"/>
<circle cx="562.82" cy="139.55" r="4.2" fill="#000" stroke="#000" stroke-width="0.8"/>
<circle cx="567.82" cy="138.18" r="4.2" fill="#000" stroke="#000" stroke-width="0.8"/>
<circle cx="572.82" cy="139" r="4.2" fill="#000" stroke="#000" stroke-width="0.8"/>
<line x1="567.82" y1="137.36" x2="567.82" y2="140.64" stroke="#000" stroke-width="2" stroke-linecap="butt"/>
<line x1="561.82" y1="137.36" x2="573.82" y2="137.36" stroke="#000" stroke-width="2" stroke-linecap="butt"/>
<line x1="561.82" y1="140.64" x2="573.82" y2="140.64" stroke="#000" stroke-width="2" stroke-linecap="butt"/>
<circle cx="593.48" cy="153.25" r="4.2" fill="#000" stroke="#000" stroke-width="0.8"/>
<circle cx="598.48" cy="149.14" r="4.2" fill="#000" stroke="#000" stroke-width="0.8"/>
<circle cx="603.48" cy="151.33" r="4.2" fill="#000" stroke="#000" stroke-width="0.8"/>
<line x1="598.48" y1="149.41" x2="598.48" y2="154.34" stroke="#000" stroke-width="2" stroke-linecap="butt"/>
<line x1="592.48" y1="149.41" x2="604.48" y2="149.41" stroke="#000" stroke-width="2" stroke-linecap="butt"/>
<line x1="592.48" y1="154.34" x2="604.48" y2="154.34" stroke="#000" stroke-width="2" stroke-linecap="butt"/>
<circle cx="624.14" cy="122.56" r="4.2" fill="#b5702a" stroke="#2b1703" stroke-width="2"/>
<circle cx="635.14" cy="128.04" r="4.2" fill="#b5702a" stroke="#2b1703" stroke-width="2"/>
<circle cx="629.14" cy="163.66" r="4.2" fill="#b5702a" stroke="#2b1703" stroke-width="2"/>
<line x1="629.14" y1="115.98" x2="629.14" y2="162.29" stroke="#000" stroke-width="2" stroke-linecap="butt"/>
<line x1="623.14" y1="115.98" x2="635.14" y2="115.98" stroke="#000" stroke-width="2" stroke-linecap="butt"/>
<line x1="623.14" y1="162.29" x2="635.14" y2="162.29" stroke="#000" stroke-width="2" stroke-linecap="butt"/>
<circle cx="654.8" cy="137.63" r="4.2" fill="#b5702a" stroke="#2b1703" stroke-width="2"/>
<circle cx="665.8" cy="141.74" r="4.2" fill="#b5702a" stroke="#2b1703" stroke-width="2"/>
<circle cx="659.8" cy="155.44" r="4.2" fill="#b5702a" stroke="#2b1703" stroke-width="2"/>
<line x1="659.8" y1="135.44" x2="659.8" y2="155.44" stroke="#000" stroke-width="2" stroke-linecap="butt"/>
<line x1="653.8" y1="135.44" x2="665.8" y2="135.44" stroke="#000" stroke-width="2" stroke-linecap="butt"/>
<line x1="653.8" y1="155.44" x2="665.8" y2="155.44" stroke="#000" stroke-width="2" stroke-linecap="butt"/>
<circle cx="685.46" cy="126.67" r="4.2" fill="#b5702a" stroke="#2b1703" stroke-width="2"/>
<circle cx="696.46" cy="126.67" r="4.2" fill="#b5702a" stroke="#2b1703" stroke-width="2"/>
<circle cx="690.46" cy="163.66" r="4.2" fill="#b5702a" stroke="#2b1703" stroke-width="2"/>
<line x1="690.46" y1="117.08" x2="690.46" y2="162.29" stroke="#000" stroke-width="2" stroke-linecap="butt"/>
<line x1="684.46" y1="117.08" x2="696.46" y2="117.08" stroke="#000" stroke-width="2" stroke-linecap="butt"/>
<line x1="684.46" y1="162.29" x2="696.46" y2="162.29" stroke="#000" stroke-width="2" stroke-linecap="butt"/>
<circle cx="721.12" cy="154.07" r="4.2" fill="#b5702a" stroke="#2b1703" stroke-width="2"/>
<circle cx="716.12" cy="166.4" r="4.2" fill="#b5702a" stroke="#2b1703" stroke-width="2"/>
<circle cx="727.12" cy="165.03" r="4.2" fill="#b5702a" stroke="#2b1703" stroke-width="2"/>
<line x1="721.12" y1="157.63" x2="721.12" y2="173.25" stroke="#000" stroke-width="2" stroke-linecap="butt"/>
<line x1="715.12" y1="157.63" x2="727.12" y2="157.63" stroke="#000" stroke-width="2" stroke-linecap="butt"/>
<line x1="715.12" y1="173.25" x2="727.12" y2="173.25" stroke="#000" stroke-width="2" stroke-linecap="butt"/>
<circle cx="751.78" cy="122.56" r="4.2" fill="#3a9e2c" stroke="none" stroke-width="0"/>
<circle cx="746.78" cy="145.85" r="4.2" fill="#3a9e2c" stroke="none" stroke-width="0"/>
<circle cx="756.78" cy="144.48" r="4.2" fill="#3a9e2c" stroke="none" stroke-width="0"/>
<line x1="751.78" y1="125.03" x2="751.78" y2="152.43" stroke="#000" stroke-width="2" stroke-linecap="butt"/>
<line x1="745.78" y1="125.03" x2="757.78" y2="125.03" stroke="#000" stroke-width="2" stroke-linecap="butt"/>
<line x1="745.78" y1="152.43" x2="757.78" y2="152.43" stroke="#000" stroke-width="2" stroke-linecap="butt"/>
<circle cx="782.44" cy="129.41" r="4.2" fill="#3a9e2c" stroke="none" stroke-width="0"/>
<circle cx="787.44" cy="158.18" r="4.2" fill="#3a9e2c" stroke="none" stroke-width="0"/>
<circle cx="777.44" cy="165.03" r="4.2" fill="#3a9e2c" stroke="none" stroke-width="0"/>
<line x1="782.44" y1="131.6" x2="782.44" y2="169.69" stroke="#000" stroke-width="2" stroke-linecap="butt"/>
<line x1="776.44" y1="131.6" x2="788.44" y2="131.6" stroke="#000" stroke-width="2" stroke-linecap="butt"/>
<line x1="776.44" y1="169.69" x2="788.44" y2="169.69" stroke="#000" stroke-width="2" stroke-linecap="butt"/>
<circle cx="808.1" cy="134.89" r="4.2" fill="#3a9e2c" stroke="none" stroke-width="0"/>
<circle cx="819.1" cy="139" r="4.2" fill="#3a9e2c" stroke="none" stroke-width="0"/>
<circle cx="813.1" cy="141.74" r="4.2" fill="#3a9e2c" stroke="none" stroke-width="0"/>
<line x1="813.1" y1="132.42" x2="813.1" y2="144.48" stroke="#000" stroke-width="2" stroke-linecap="butt"/>
<line x1="807.1" y1="132.42" x2="819.1" y2="132.42" stroke="#000" stroke-width="2" stroke-linecap="butt"/>
<line x1="807.1" y1="144.48" x2="819.1" y2="144.48" stroke="#000" stroke-width="2" stroke-linecap="butt"/>
<circle cx="843.76" cy="170.51" r="4.2" fill="#3a9e2c" stroke="none" stroke-width="0"/>
<circle cx="843.76" cy="202.02" r="4.2" fill="#3a9e2c" stroke="none" stroke-width="0"/>
<circle cx="843.76" cy="218.46" r="4.2" fill="#3a9e2c" stroke="none" stroke-width="0"/>
<line x1="843.76" y1="171.88" x2="843.76" y2="221.75" stroke="#000" stroke-width="2" stroke-linecap="butt"/>
<line x1="837.76" y1="171.88" x2="849.76" y2="171.88" stroke="#000" stroke-width="2" stroke-linecap="butt"/>
<line x1="837.76" y1="221.75" x2="849.76" y2="221.75" stroke="#000" stroke-width="2" stroke-linecap="butt"/>
<circle cx="869.42" cy="130.78" r="4.2" fill="#5aaaf6" stroke="#1560c4" stroke-width="2.2"/>
<circle cx="869.42" cy="143.11" r="4.2" fill="#5aaaf6" stroke="#1560c4" stroke-width="2.2"/>
<circle cx="879.42" cy="140.37" r="4.2" fill="#5aaaf6" stroke="#1560c4" stroke-width="2.2"/>
<line x1="874.42" y1="132.97" x2="874.42" y2="144.48" stroke="#000" stroke-width="2" stroke-linecap="butt"/>
<line x1="868.42" y1="132.97" x2="880.42" y2="132.97" stroke="#000" stroke-width="2" stroke-linecap="butt"/>
<line x1="868.42" y1="144.48" x2="880.42" y2="144.48" stroke="#000" stroke-width="2" stroke-linecap="butt"/>
<circle cx="905.08" cy="170.51" r="4.2" fill="#5aaaf6" stroke="#1560c4" stroke-width="2.2"/>
<circle cx="911.08" cy="210.24" r="4.2" fill="#5aaaf6" stroke="#1560c4" stroke-width="2.2"/>
<circle cx="900.08" cy="215.72" r="4.2" fill="#5aaaf6" stroke="#1560c4" stroke-width="2.2"/>
<line x1="905.08" y1="174.07" x2="905.08" y2="224.76" stroke="#000" stroke-width="2" stroke-linecap="butt"/>
<line x1="899.08" y1="174.07" x2="911.08" y2="174.07" stroke="#000" stroke-width="2" stroke-linecap="butt"/>
<line x1="899.08" y1="224.76" x2="911.08" y2="224.76" stroke="#000" stroke-width="2" stroke-linecap="butt"/>
<circle cx="929.74" cy="126.67" r="4.2" fill="#5aaaf6" stroke="#1560c4" stroke-width="2.2"/>
<circle cx="940.74" cy="130.78" r="4.2" fill="#5aaaf6" stroke="#1560c4" stroke-width="2.2"/>
<circle cx="935.74" cy="159.55" r="4.2" fill="#5aaaf6" stroke="#1560c4" stroke-width="2.2"/>
<line x1="935.74" y1="122.01" x2="935.74" y2="157.63" stroke="#000" stroke-width="2" stroke-linecap="butt"/>
<line x1="929.74" y1="122.01" x2="941.74" y2="122.01" stroke="#000" stroke-width="2" stroke-linecap="butt"/>
<line x1="929.74" y1="157.63" x2="941.74" y2="157.63" stroke="#000" stroke-width="2" stroke-linecap="butt"/>
<circle cx="966.4" cy="240.38" r="4.2" fill="#5aaaf6" stroke="#1560c4" stroke-width="2.2"/>
<circle cx="966.4" cy="262.3" r="4.2" fill="#5aaaf6" stroke="#1560c4" stroke-width="2.2"/>
<circle cx="966.4" cy="289.7" r="4.2" fill="#5aaaf6" stroke="#1560c4" stroke-width="2.2"/>
<line x1="966.4" y1="239.56" x2="966.4" y2="290.25" stroke="#000" stroke-width="2" stroke-linecap="butt"/>
<line x1="960.4" y1="239.56" x2="972.4" y2="239.56" stroke="#000" stroke-width="2" stroke-linecap="butt"/>
<line x1="960.4" y1="290.25" x2="972.4" y2="290.25" stroke="#000" stroke-width="2" stroke-linecap="butt"/>
<circle cx="992.06" cy="130.78" r="4.2" fill="#fff" stroke="#000" stroke-width="2.3"/>
<circle cx="1002.06" cy="139" r="4.2" fill="#fff" stroke="#000" stroke-width="2.3"/>
<circle cx="992.06" cy="145.85" r="4.2" fill="#fff" stroke="#000" stroke-width="2.3"/>
<line x1="997.06" y1="130.78" x2="997.06" y2="144.48" stroke="#000" stroke-width="2" stroke-linecap="butt"/>
<line x1="991.06" y1="130.78" x2="1003.06" y2="130.78" stroke="#000" stroke-width="2" stroke-linecap="butt"/>
<line x1="991.06" y1="144.48" x2="1003.06" y2="144.48" stroke="#000" stroke-width="2" stroke-linecap="butt"/>
<circle cx="1022.72" cy="134.89" r="4.2" fill="#fff" stroke="#000" stroke-width="2.3"/>
<circle cx="1032.72" cy="145.85" r="4.2" fill="#fff" stroke="#000" stroke-width="2.3"/>
<circle cx="1022.72" cy="149.96" r="4.2" fill="#fff" stroke="#000" stroke-width="2.3"/>
<line x1="1027.72" y1="136.26" x2="1027.72" y2="149.41" stroke="#000" stroke-width="2" stroke-linecap="butt"/>
<line x1="1021.72" y1="136.26" x2="1033.72" y2="136.26" stroke="#000" stroke-width="2" stroke-linecap="butt"/>
<line x1="1021.72" y1="149.41" x2="1033.72" y2="149.41" stroke="#000" stroke-width="2" stroke-linecap="butt"/>
<circle cx="1058.38" cy="134.89" r="4.2" fill="#fff" stroke="#000" stroke-width="2.3"/>
<circle cx="1064.38" cy="139" r="4.2" fill="#fff" stroke="#000" stroke-width="2.3"/>
<circle cx="1052.38" cy="143.11" r="4.2" fill="#fff" stroke="#000" stroke-width="2.3"/>
<line x1="1058.38" y1="135.44" x2="1058.38" y2="143.93" stroke="#000" stroke-width="2" stroke-linecap="butt"/>
<line x1="1052.38" y1="135.44" x2="1064.38" y2="135.44" stroke="#000" stroke-width="2" stroke-linecap="butt"/>
<line x1="1052.38" y1="143.93" x2="1064.38" y2="143.93" stroke="#000" stroke-width="2" stroke-linecap="butt"/>
<circle cx="1083.04" cy="132.7" r="4.2" fill="#fff" stroke="#000" stroke-width="2.3"/>
<circle cx="1089.04" cy="131.33" r="4.2" fill="#fff" stroke="#000" stroke-width="2.3"/>
<circle cx="1095.04" cy="132.7" r="4.2" fill="#fff" stroke="#000" stroke-width="2.3"/>
<line x1="1089.04" y1="130.78" x2="1089.04" y2="134.07" stroke="#000" stroke-width="2" stroke-linecap="butt"/>
<line x1="1083.04" y1="130.78" x2="1095.04" y2="130.78" stroke="#000" stroke-width="2" stroke-linecap="butt"/>
<line x1="1083.04" y1="134.07" x2="1095.04" y2="134.07" stroke="#000" stroke-width="2" stroke-linecap="butt"/>
<circle cx="1119.7" cy="122.56" r="4.2" fill="none" stroke="#b5651d" stroke-width="2.4"/>
<circle cx="1119.7" cy="139" r="4.2" fill="none" stroke="#b5651d" stroke-width="2.4"/>
<circle cx="1119.7" cy="155.44" r="4.2" fill="none" stroke="#b5651d" stroke-width="2.4"/>
<line x1="1119.7" y1="122.56" x2="1119.7" y2="155.44" stroke="#000" stroke-width="2" stroke-linecap="butt"/>
<line x1="1113.7" y1="122.56" x2="1125.7" y2="122.56" stroke="#000" stroke-width="2" stroke-linecap="butt"/>
<line x1="1113.7" y1="155.44" x2="1125.7" y2="155.44" stroke="#000" stroke-width="2" stroke-linecap="butt"/>
<circle cx="1145.36" cy="144.48" r="4.2" fill="none" stroke="#b5651d" stroke-width="2.4"/>
<circle cx="1155.36" cy="148.59" r="4.2" fill="none" stroke="#b5651d" stroke-width="2.4"/>
<circle cx="1150.36" cy="158.18" r="4.2" fill="none" stroke="#b5651d" stroke-width="2.4"/>
<line x1="1150.36" y1="143.38" x2="1150.36" y2="159.28" stroke="#000" stroke-width="2" stroke-linecap="butt"/>
<line x1="1144.36" y1="143.38" x2="1156.36" y2="143.38" stroke="#000" stroke-width="2" stroke-linecap="butt"/>
<line x1="1144.36" y1="159.28" x2="1156.36" y2="159.28" stroke="#000" stroke-width="2" stroke-linecap="butt"/>
<circle cx="1181.02" cy="134.89" r="4.2" fill="none" stroke="#b5651d" stroke-width="2.4"/>
<circle cx="1187.02" cy="136.26" r="4.2" fill="none" stroke="#b5651d" stroke-width="2.4"/>
<circle cx="1175.02" cy="143.11" r="4.2" fill="none" stroke="#b5651d" stroke-width="2.4"/>
<line x1="1181.02" y1="135.44" x2="1181.02" y2="142.84" stroke="#000" stroke-width="2" stroke-linecap="butt"/>
<line x1="1175.02" y1="135.44" x2="1187.02" y2="135.44" stroke="#000" stroke-width="2" stroke-linecap="butt"/>
<line x1="1175.02" y1="142.84" x2="1187.02" y2="142.84" stroke="#000" stroke-width="2" stroke-linecap="butt"/>
<circle cx="1211.68" cy="159.55" r="4.2" fill="none" stroke="#b5651d" stroke-width="2.4"/>
<circle cx="1217.68" cy="165.03" r="4.2" fill="none" stroke="#b5651d" stroke-width="2.4"/>
<circle cx="1205.68" cy="169.14" r="4.2" fill="none" stroke="#b5651d" stroke-width="2.4"/>
<line x1="1211.68" y1="160.65" x2="1211.68" y2="167.22" stroke="#000" stroke-width="2" stroke-linecap="butt"/>
<line x1="1205.68" y1="160.65" x2="1217.68" y2="160.65" stroke="#000" stroke-width="2" stroke-linecap="butt"/>
<line x1="1205.68" y1="167.22" x2="1217.68" y2="167.22" stroke="#000" stroke-width="2" stroke-linecap="butt"/>
<circle cx="1242.34" cy="128.04" r="4.2" fill="none" stroke="#2f9e87" stroke-width="2.4"/>
<circle cx="1248.34" cy="143.11" r="4.2" fill="none" stroke="#2f9e87" stroke-width="2.4"/>
<circle cx="1236.34" cy="147.22" r="4.2" fill="none" stroke="#2f9e87" stroke-width="2.4"/>
<line x1="1242.34" y1="129.41" x2="1242.34" y2="147.22" stroke="#000" stroke-width="2" stroke-linecap="butt"/>
<line x1="1236.34" y1="129.41" x2="1248.34" y2="129.41" stroke="#000" stroke-width="2" stroke-linecap="butt"/>
<line x1="1236.34" y1="147.22" x2="1248.34" y2="147.22" stroke="#000" stroke-width="2" stroke-linecap="butt"/>
<circle cx="1268" cy="148.59" r="4.2" fill="none" stroke="#2f9e87" stroke-width="2.4"/>
<circle cx="1279" cy="154.07" r="4.2" fill="none" stroke="#2f9e87" stroke-width="2.4"/>
<circle cx="1268" cy="159.55" r="4.2" fill="none" stroke="#2f9e87" stroke-width="2.4"/>
<line x1="1273" y1="148.86" x2="1273" y2="159.28" stroke="#000" stroke-width="2" stroke-linecap="butt"/>
<line x1="1267" y1="148.86" x2="1279" y2="148.86" stroke="#000" stroke-width="2" stroke-linecap="butt"/>
<line x1="1267" y1="159.28" x2="1279" y2="159.28" stroke="#000" stroke-width="2" stroke-linecap="butt"/>
<circle cx="1297.66" cy="132.15" r="4.2" fill="none" stroke="#2f9e87" stroke-width="2.4"/>
<circle cx="1309.66" cy="139" r="4.2" fill="none" stroke="#2f9e87" stroke-width="2.4"/>
<circle cx="1298.66" cy="145.85" r="4.2" fill="none" stroke="#2f9e87" stroke-width="2.4"/>
<line x1="1303.66" y1="133.52" x2="1303.66" y2="145.3" stroke="#000" stroke-width="2" stroke-linecap="butt"/>
<line x1="1297.66" y1="133.52" x2="1309.66" y2="133.52" stroke="#000" stroke-width="2" stroke-linecap="butt"/>
<line x1="1297.66" y1="145.3" x2="1309.66" y2="145.3" stroke="#000" stroke-width="2" stroke-linecap="butt"/>
<circle cx="1328.32" cy="160.92" r="4.2" fill="none" stroke="#2f9e87" stroke-width="2.4"/>
<circle cx="1340.32" cy="165.03" r="4.2" fill="none" stroke="#2f9e87" stroke-width="2.4"/>
<circle cx="1334.32" cy="191.06" r="4.2" fill="none" stroke="#2f9e87" stroke-width="2.4"/>
<line x1="1334.32" y1="155.44" x2="1334.32" y2="188.87" stroke="#000" stroke-width="2" stroke-linecap="butt"/>
<line x1="1328.32" y1="155.44" x2="1340.32" y2="155.44" stroke="#000" stroke-width="2" stroke-linecap="butt"/>
<line x1="1328.32" y1="188.87" x2="1340.32" y2="188.87" stroke="#000" stroke-width="2" stroke-linecap="butt"/>
<circle cx="1357.98" cy="139" r="4.2" fill="none" stroke="#3f8fe8" stroke-width="2.4"/>
<circle cx="1364.98" cy="137.63" r="4.2" fill="none" stroke="#3f8fe8" stroke-width="2.4"/>
<circle cx="1370.98" cy="137.63" r="4.2" fill="none" stroke="#3f8fe8" stroke-width="2.4"/>
<line x1="1364.98" y1="136.26" x2="1364.98" y2="140.64" stroke="#000" stroke-width="2" stroke-linecap="butt"/>
<line x1="1358.98" y1="136.26" x2="1370.98" y2="136.26" stroke="#000" stroke-width="2" stroke-linecap="butt"/>
<line x1="1358.98" y1="140.64" x2="1370.98" y2="140.64" stroke="#000" stroke-width="2" stroke-linecap="butt"/>
<circle cx="1395.64" cy="160.92" r="4.2" fill="none" stroke="#3f8fe8" stroke-width="2.4"/>
<circle cx="1390.64" cy="177.36" r="4.2" fill="none" stroke="#3f8fe8" stroke-width="2.4"/>
<circle cx="1400.64" cy="177.36" r="4.2" fill="none" stroke="#3f8fe8" stroke-width="2.4"/>
<line x1="1395.64" y1="162.29" x2="1395.64" y2="181.47" stroke="#000" stroke-width="2" stroke-linecap="butt"/>
<line x1="1389.64" y1="162.29" x2="1401.64" y2="162.29" stroke="#000" stroke-width="2" stroke-linecap="butt"/>
<line x1="1389.64" y1="181.47" x2="1401.64" y2="181.47" stroke="#000" stroke-width="2" stroke-linecap="butt"/>
<circle cx="1421.3" cy="129.41" r="4.2" fill="none" stroke="#3f8fe8" stroke-width="2.4"/>
<circle cx="1432.3" cy="133.52" r="4.2" fill="none" stroke="#3f8fe8" stroke-width="2.4"/>
<circle cx="1426.3" cy="151.33" r="4.2" fill="none" stroke="#3f8fe8" stroke-width="2.4"/>
<line x1="1426.3" y1="128.59" x2="1426.3" y2="148.86" stroke="#000" stroke-width="2" stroke-linecap="butt"/>
<line x1="1420.3" y1="128.59" x2="1432.3" y2="128.59" stroke="#000" stroke-width="2" stroke-linecap="butt"/>
<line x1="1420.3" y1="148.86" x2="1432.3" y2="148.86" stroke="#000" stroke-width="2" stroke-linecap="butt"/>
<circle cx="1456.96" cy="210.24" r="4.2" fill="none" stroke="#3f8fe8" stroke-width="2.4"/>
<circle cx="1462.96" cy="221.2" r="4.2" fill="none" stroke="#3f8fe8" stroke-width="2.4"/>
<circle cx="1451.96" cy="229.42" r="4.2" fill="none" stroke="#3f8fe8" stroke-width="2.4"/>
<line x1="1456.96" y1="211.34" x2="1456.96" y2="230.52" stroke="#000" stroke-width="2" stroke-linecap="butt"/>
<line x1="1450.96" y1="211.34" x2="1462.96" y2="211.34" stroke="#000" stroke-width="2" stroke-linecap="butt"/>
<line x1="1450.96" y1="230.52" x2="1462.96" y2="230.52" stroke="#000" stroke-width="2" stroke-linecap="butt"/>
<text x="659.8" y="24.1" font-size="24.7" font-weight="normal" text-anchor="middle" fill="#000">P=0.9949</text>
<line x1="601.8" y1="36.3" x2="719.3" y2="36.3" stroke="#000" stroke-width="3.2" stroke-linecap="round"/>
<text x="583.9" y="66.7" font-size="24.7" font-weight="normal" text-anchor="middle" fill="#000">P=0.9966</text>
<line x1="569.6" y1="78.9" x2="597.3" y2="78.9" stroke="#000" stroke-width="3.2" stroke-linecap="round"/>
<text x="703.9" y="66.7" font-size="24.7" font-weight="normal" text-anchor="middle" fill="#000">P=0.5205</text>
<line x1="688" y1="78.9" x2="719.3" y2="78.9" stroke="#000" stroke-width="3.2" stroke-linecap="round"/>
<text x="768.5" y="64.9" font-size="24.7" font-weight="normal" text-anchor="start" fill="#000">P=5.7x10<tspan font-size="16.3" dy="-9.88">-5</tspan></text>
<line x1="812.2" y1="78" x2="844.9" y2="78" stroke="#000" stroke-width="3.2" stroke-linecap="round"/>
<text x="894.6" y="64.9" font-size="24.7" font-weight="normal" text-anchor="start" fill="#000">P=6x10<tspan font-size="16.3" dy="-9.88">-15</tspan></text>
<line x1="929.8" y1="78" x2="970.8" y2="78" stroke="#000" stroke-width="3.2" stroke-linecap="round"/>
<text x="847.9" y="24.8" font-size="24.7" font-weight="normal" text-anchor="start" fill="#000">P=3.2x10<tspan font-size="16.3" dy="-9.88">-6</tspan></text>
<line x1="841.4" y1="36.6" x2="973.8" y2="36.6" stroke="#000" stroke-width="3.2" stroke-linecap="round"/>
<text x="831" y="108.3" font-size="24.7" font-weight="normal" text-anchor="start" fill="#000">P=3.3x10<tspan font-size="16.3" dy="-9.88">-5</tspan></text>
<line x1="872.6" y1="120.5" x2="908.3" y2="120.5" stroke="#000" stroke-width="3.2" stroke-linecap="round"/>
<text x="1150.5" y="23.6" font-size="24.7" font-weight="normal" text-anchor="middle" fill="#000">P=0.0765</text>
<line x1="1088" y1="36.3" x2="1213" y2="36.3" stroke="#000" stroke-width="3.2" stroke-linecap="round"/>
<text x="1076.7" y="65.8" font-size="24.7" font-weight="normal" text-anchor="middle" fill="#000">P=0.999</text>
<line x1="1056.7" y1="78.3" x2="1095.4" y2="78.3" stroke="#000" stroke-width="3.2" stroke-linecap="round"/>
<text x="1195" y="66.8" font-size="24.7" font-weight="normal" text-anchor="middle" fill="#000">P=0.3919</text>
<line x1="1178" y1="79.5" x2="1211.5" y2="79.5" stroke="#000" stroke-width="3.2" stroke-linecap="round"/>
<text x="1319" y="65.8" font-size="24.7" font-weight="normal" text-anchor="middle" fill="#000">P=0.0714</text>
<line x1="1301.4" y1="78.3" x2="1336.5" y2="78.3" stroke="#000" stroke-width="3.2" stroke-linecap="round"/>
<text x="1387" y="65.8" font-size="24.7" font-weight="normal" text-anchor="start" fill="#000">P=2.1x10<tspan font-size="16.3" dy="-9.88">-8</tspan></text>
<line x1="1424.9" y1="78.3" x2="1468.9" y2="78.3" stroke="#000" stroke-width="3.2" stroke-linecap="round"/>
<text x="1402.7" y="23.6" font-size="24.7" font-weight="normal" text-anchor="middle" fill="#000">P=0.0013</text>
<line x1="1332.9" y1="36.6" x2="1472.5" y2="36.6" stroke="#000" stroke-width="3.2" stroke-linecap="round"/>
<text x="1381" y="112.5" font-size="24.7" font-weight="normal" text-anchor="middle" fill="#000">P=0.0721</text>
<line x1="1360.9" y1="124" x2="1403.5" y2="124" stroke="#000" stroke-width="3.2" stroke-linecap="round"/>
<text x="506.5" y="446.2" font-size="21.5" font-weight="bold" text-anchor="middle" fill="#000">-</text>
<text x="538.96" y="446.2" font-size="21.5" font-weight="bold" text-anchor="middle" fill="#000">+</text>
<text x="566.32" y="446.2" font-size="21.5" font-weight="bold" text-anchor="middle" fill="#000">-</text>
<text x="597.48" y="446.2" font-size="21.5" font-weight="bold" text-anchor="middle" fill="#000">-</text>
<text x="628.54" y="446.2" font-size="21.5" font-weight="bold" text-anchor="middle" fill="#000">-</text>
<text x="661" y="446.2" font-size="21.5" font-weight="bold" text-anchor="middle" fill="#000">+</text>
<text x="694.96" y="446.2" font-size="21.5" font-weight="bold" text-anchor="middle" fill="#000">-</text>
<text x="726.12" y="446.2" font-size="21.5" font-weight="bold" text-anchor="middle" fill="#000">-</text>
<text x="755.98" y="446.2" font-size="21.5" font-weight="bold" text-anchor="middle" fill="#000">-</text>
<text x="783.04" y="446.2" font-size="21.5" font-weight="bold" text-anchor="middle" fill="#000">+</text>
<text x="816.7" y="446.2" font-size="21.5" font-weight="bold" text-anchor="middle" fill="#000">-</text>
<text x="847.06" y="446.2" font-size="21.5" font-weight="bold" text-anchor="middle" fill="#000">-</text>
<text x="877.12" y="446.2" font-size="21.5" font-weight="bold" text-anchor="middle" fill="#000">-</text>
<text x="904.78" y="446.2" font-size="21.5" font-weight="bold" text-anchor="middle" fill="#000">+</text>
<text x="938.14" y="446.2" font-size="21.5" font-weight="bold" text-anchor="middle" fill="#000">-</text>
<text x="968.8" y="446.2" font-size="21.5" font-weight="bold" text-anchor="middle" fill="#000">-</text>
<text x="999.86" y="446.2" font-size="21.5" font-weight="bold" text-anchor="middle" fill="#000">-</text>
<text x="1026.02" y="446.2" font-size="21.5" font-weight="bold" text-anchor="middle" fill="#000">+</text>
<text x="1060.78" y="446.2" font-size="21.5" font-weight="bold" text-anchor="middle" fill="#000">-</text>
<text x="1090.74" y="446.2" font-size="21.5" font-weight="bold" text-anchor="middle" fill="#000">-</text>
<text x="1121.4" y="446.2" font-size="21.5" font-weight="bold" text-anchor="middle" fill="#000">-</text>
<text x="1153.86" y="446.2" font-size="21.5" font-weight="bold" text-anchor="middle" fill="#000">+</text>
<text x="1188.02" y="446.2" font-size="21.5" font-weight="bold" text-anchor="middle" fill="#000">-</text>
<text x="1218.68" y="446.2" font-size="21.5" font-weight="bold" text-anchor="middle" fill="#000">-</text>
<text x="1249.94" y="446.2" font-size="21.5" font-weight="bold" text-anchor="middle" fill="#000">-</text>
<text x="1275" y="446.2" font-size="21.5" font-weight="bold" text-anchor="middle" fill="#000">+</text>
<text x="1303.66" y="446.2" font-size="21.5" font-weight="bold" text-anchor="middle" fill="#000">-</text>
<text x="1334.32" y="446.2" font-size="21.5" font-weight="bold" text-anchor="middle" fill="#000">-</text>
<text x="1364.68" y="446.2" font-size="21.5" font-weight="bold" text-anchor="middle" fill="#000">-</text>
<text x="1391.44" y="446.2" font-size="21.5" font-weight="bold" text-anchor="middle" fill="#000">+</text>
<text x="1425.3" y="446.2" font-size="21.5" font-weight="bold" text-anchor="middle" fill="#000">-</text>
<text x="1456.26" y="446.2" font-size="21.5" font-weight="bold" text-anchor="middle" fill="#000">-</text>
<text x="507.1" y="478.2" font-size="21.5" font-weight="bold" text-anchor="middle" fill="#000">-</text>
<text x="537.16" y="478.2" font-size="21.5" font-weight="bold" text-anchor="middle" fill="#000">-</text>
<text x="567.82" y="478.2" font-size="21.5" font-weight="bold" text-anchor="middle" fill="#000">-</text>
<text x="600.48" y="478.2" font-size="21.5" font-weight="bold" text-anchor="middle" fill="#000">+</text>
<text x="628.54" y="478.2" font-size="21.5" font-weight="bold" text-anchor="middle" fill="#000">-</text>
<text x="658.8" y="478.2" font-size="21.5" font-weight="bold" text-anchor="middle" fill="#000">-</text>
<text x="695.26" y="478.2" font-size="21.5" font-weight="bold" text-anchor="middle" fill="#000">-</text>
<text x="722.62" y="478.2" font-size="21.5" font-weight="bold" text-anchor="middle" fill="#000">+</text>
<text x="755.98" y="478.2" font-size="21.5" font-weight="bold" text-anchor="middle" fill="#000">-</text>
<text x="786.64" y="478.2" font-size="21.5" font-weight="bold" text-anchor="middle" fill="#000">-</text>
<text x="817.3" y="478.2" font-size="21.5" font-weight="bold" text-anchor="middle" fill="#000">-</text>
<text x="849.76" y="478.2" font-size="21.5" font-weight="bold" text-anchor="middle" fill="#000">+</text>
<text x="877.72" y="478.2" font-size="21.5" font-weight="bold" text-anchor="middle" fill="#000">-</text>
<text x="908.68" y="478.2" font-size="21.5" font-weight="bold" text-anchor="middle" fill="#000">-</text>
<text x="938.74" y="478.2" font-size="21.5" font-weight="bold" text-anchor="middle" fill="#000">-</text>
<text x="970.9" y="478.2" font-size="21.5" font-weight="bold" text-anchor="middle" fill="#000">+</text>
<text x="999.86" y="478.2" font-size="21.5" font-weight="bold" text-anchor="middle" fill="#000">-</text>
<text x="1030.52" y="478.2" font-size="21.5" font-weight="bold" text-anchor="middle" fill="#000">-</text>
<text x="1060.78" y="478.2" font-size="21.5" font-weight="bold" text-anchor="middle" fill="#000">-</text>
<text x="1094.24" y="478.2" font-size="21.5" font-weight="bold" text-anchor="middle" fill="#000">+</text>
<text x="1127.7" y="478.2" font-size="21.5" font-weight="bold" text-anchor="middle" fill="#000">-</text>
<text x="1157.96" y="478.2" font-size="21.5" font-weight="bold" text-anchor="middle" fill="#000">-</text>
<text x="1188.02" y="478.2" font-size="21.5" font-weight="bold" text-anchor="middle" fill="#000">-</text>
<text x="1221.08" y="478.2" font-size="21.5" font-weight="bold" text-anchor="middle" fill="#000">+</text>
<text x="1249.34" y="478.2" font-size="21.5" font-weight="bold" text-anchor="middle" fill="#000">-</text>
<text x="1279.3" y="478.2" font-size="21.5" font-weight="bold" text-anchor="middle" fill="#000">-</text>
<text x="1310.66" y="478.2" font-size="21.5" font-weight="bold" text-anchor="middle" fill="#000">-</text>
<text x="1337.42" y="478.2" font-size="21.5" font-weight="bold" text-anchor="middle" fill="#000">+</text>
<text x="1371.58" y="478.2" font-size="21.5" font-weight="bold" text-anchor="middle" fill="#000">-</text>
<text x="1401.54" y="478.2" font-size="21.5" font-weight="bold" text-anchor="middle" fill="#000">-</text>
<text x="1432.2" y="478.2" font-size="21.5" font-weight="bold" text-anchor="middle" fill="#000">-</text>
<text x="1458.66" y="478.2" font-size="21.5" font-weight="bold" text-anchor="middle" fill="#000">+</text>
<text x="1483.3" y="445" font-size="21.8" font-weight="bold" text-anchor="start" fill="#000">RSL3 0.1 <tspan font-family='"Liberation Serif", serif' font-weight="normal">μ</tspan><tspan font-weight="normal">M</tspan></text>
<text x="1483.3" y="478" font-size="21.8" font-weight="bold" text-anchor="start" fill="#000">RSL3 0.25 <tspan font-family='"Liberation Serif", serif' font-weight="normal">μ</tspan><tspan font-weight="normal">M</tspan></text>
<line x1="498.8" y1="493.5" x2="612.8" y2="493.5" stroke="#000" stroke-width="3.4" stroke-linecap="round"/>
<line x1="620.8" y1="493.5" x2="734.8" y2="493.5" stroke="#000" stroke-width="3.4" stroke-linecap="round"/>
<line x1="741.4" y1="493.5" x2="855.4" y2="493.5" stroke="#000" stroke-width="3.4" stroke-linecap="round"/>
<line x1="866.7" y1="493.5" x2="980.4" y2="493.5" stroke="#000" stroke-width="3.4" stroke-linecap="round"/>
<line x1="988.5" y1="493.5" x2="1102.4" y2="493.5" stroke="#000" stroke-width="3.4" stroke-linecap="round"/>
<line x1="1111" y1="493.5" x2="1224.6" y2="493.5" stroke="#000" stroke-width="3.4" stroke-linecap="round"/>
<line x1="1230.8" y1="493.5" x2="1344.7" y2="493.5" stroke="#000" stroke-width="3.4" stroke-linecap="round"/>
<line x1="1356.9" y1="493.5" x2="1470.4" y2="493.5" stroke="#000" stroke-width="3.4" stroke-linecap="round"/>
<text x="556.5" y="519" font-size="18.3" font-weight="bold" text-anchor="middle" fill="#000">B16-F0 WT</text>
<text x="674.4" y="519" font-size="18.3" font-weight="bold" text-anchor="middle" fill="#000">B16-F0</text>
<text x="674.4" y="542.3" font-size="18.3" font-weight="bold" text-anchor="middle" fill="#000">FSP1 KO</text>
<text x="798.8" y="519" font-size="18.3" font-weight="bold" text-anchor="middle" fill="#000">LN7 1134BL</text>
<text x="801" y="542.3" font-size="18.3" font-weight="bold" text-anchor="middle" fill="#000">WT</text>
<text x="919.3" y="519" font-size="18.3" font-weight="bold" text-anchor="middle" fill="#000">LN7 1134BL</text>
<text x="919.3" y="542.3" font-size="18.3" font-weight="bold" text-anchor="middle" fill="#000">FSP1 KO</text>
<text x="1046" y="519" font-size="18.3" font-weight="bold" text-anchor="middle" fill="#000">B16-F0 WT</text>
<text x="1167.6" y="519" font-size="18.3" font-weight="bold" text-anchor="middle" fill="#000">B16-F0</text>
<text x="1167.6" y="542.3" font-size="18.3" font-weight="bold" text-anchor="middle" fill="#000">FSP1 KO</text>
<text x="1288.8" y="519" font-size="18.3" font-weight="bold" text-anchor="middle" fill="#000">LN7 1134BL</text>
<text x="1291" y="542.3" font-size="18.3" font-weight="bold" text-anchor="middle" fill="#000">WT</text>
<text x="1410.3" y="519" font-size="18.3" font-weight="bold" text-anchor="middle" fill="#000">LN7 1134BL</text>
<text x="1410.3" y="542.3" font-size="18.3" font-weight="bold" text-anchor="middle" fill="#000">FSP1 KO</text>
<line x1="499.7" y1="557.8" x2="972.9" y2="557.8" stroke="#000" stroke-width="3.4" stroke-linecap="round"/>
<line x1="996.5" y1="557.8" x2="1469.7" y2="557.8" stroke="#000" stroke-width="3.4" stroke-linecap="round"/>
<text x="736.3" y="589" font-size="22" font-weight="bold" text-anchor="middle" fill="#000">21% O<tspan font-size="15.4" dy="6.82">2</tspan><tspan dy="-6.82"></tspan></text>
<text x="1228" y="589" font-size="22" font-weight="bold" text-anchor="middle" fill="#000">1% O<tspan font-size="15.4" dy="6.82">2</tspan><tspan dy="-6.82"></tspan></text>
</g>
<g id="panel_c">
<text x="1520.5" y="26.4" font-size="27" font-weight="bold" text-anchor="start" fill="#000">c</text>
<text x="1575.2" y="124.1" font-size="16.2" font-weight="bold" text-anchor="start" fill="#000" textLength="88.7" lengthAdjust="spacingAndGlyphs">LN9 115BL</text>
<line x1="1558.3" y1="132.4" x2="1682.9" y2="132.4" stroke="#000" stroke-width="2.8" stroke-linecap="butt"/>
<text x="1522.4" y="201.1" font-size="12.6" font-weight="normal" text-anchor="start" fill="#000" textLength="28.7" lengthAdjust="spacingAndGlyphs">KDa</text>
<text x="1579" y="208.5" font-size="14.8" font-weight="bold" text-anchor="start" fill="#000" transform="rotate(-45 1579 208.5)" textLength="26" lengthAdjust="spacingAndGlyphs">WT</text>
<text x="1613" y="208" font-size="14.8" font-weight="bold" text-anchor="start" fill="#000" transform="rotate(-45 1613 208)" textLength="82.5" lengthAdjust="spacingAndGlyphs">FSP1 KO #1</text>
<text x="1651.5" y="208" font-size="14.8" font-weight="bold" text-anchor="start" fill="#000" transform="rotate(-45 1651.5 208)" textLength="82.5" lengthAdjust="spacingAndGlyphs">FSP1 KO #2</text>
<g>
<linearGradient id="bg1" x1="0" y1="0" x2="0" y2="1"><stop offset="0" stop-color="#6b6b6b"/><stop offset="1" stop-color="#747474"/></linearGradient>
<linearGradient id="bg2" x1="0" y1="0" x2="0" y2="1"><stop offset="0" stop-color="#858585"/><stop offset="1" stop-color="#8f8f8f"/></linearGradient>
<rect x="1556.4" y="214.1" width="123.5" height="53.6" fill="url(#bg1)" stroke="#2a2a2a" stroke-width="1.3"/>
<clipPath id="cb1"><rect x="1557" y="214.7" width="122.3" height="52.4"/></clipPath>
<g clip-path="url(#cb1)">
<ellipse cx="1579.2" cy="238.8" rx="18" ry="7.5" fill="#383838" opacity="0.9" filter="url(#blur3)"/>
<ellipse cx="1579.2" cy="238.4" rx="12" ry="3.2" fill="#333" opacity="0.8" filter="url(#blur2)"/>
</g>
<rect x="1556.4" y="271.3" width="123.5" height="54.4" fill="url(#bg2)" stroke="#2a2a2a" stroke-width="1.3"/>
<clipPath id="cb2"><rect x="1557" y="271.9" width="122.3" height="53.2"/></clipPath>
<g clip-path="url(#cb2)">
<ellipse cx="1581.3" cy="299.9" rx="17.5" ry="6.6" fill="#2a2a2a" opacity="0.95" filter="url(#blur3)"/>
<ellipse cx="1581.3" cy="299.7" rx="13" ry="3.2" fill="#262626" opacity="0.9" filter="url(#blur2)"/>
<ellipse cx="1618.4" cy="299.9" rx="17.5" ry="6.6" fill="#2a2a2a" opacity="0.95" filter="url(#blur3)"/>
<ellipse cx="1618.4" cy="299.7" rx="13" ry="3.2" fill="#262626" opacity="0.9" filter="url(#blur2)"/>
<ellipse cx="1654.9" cy="299.9" rx="17.5" ry="6.6" fill="#2a2a2a" opacity="0.95" filter="url(#blur3)"/>
<ellipse cx="1654.9" cy="299.7" rx="13" ry="3.2" fill="#262626" opacity="0.9" filter="url(#blur2)"/>
</g>
</g>
<text x="1522.4" y="252.7" font-size="12.6" font-weight="normal" text-anchor="start" fill="#000" textLength="14.4" lengthAdjust="spacingAndGlyphs">37</text>
<line x1="1541.3" y1="248.7" x2="1551.8" y2="248.7" stroke="#000" stroke-width="2.8" stroke-linecap="butt"/>
<text x="1521.2" y="281.4" font-size="12.6" font-weight="normal" text-anchor="start" fill="#000" textLength="14.6" lengthAdjust="spacingAndGlyphs">50</text>
<line x1="1540" y1="277.2" x2="1550.4" y2="277.2" stroke="#000" stroke-width="2.8" stroke-linecap="butt"/>
<text x="1686.1" y="252" font-size="13.4" font-weight="normal" text-anchor="start" fill="#000" textLength="34.6" lengthAdjust="spacingAndGlyphs">FSP1</text>
<text x="1688.1" y="301.6" font-size="13.4" font-weight="normal" text-anchor="start" fill="#000" textLength="36.5" lengthAdjust="spacingAndGlyphs">Actin</text>
</g>
<g id="panel_d">
<text x="1746" y="30.3" font-size="27" font-weight="bold" text-anchor="start" fill="#000">d</text>
<text x="1979" y="49.5" font-size="27.5" font-weight="bold" text-anchor="middle" fill="#000">21% O<tspan font-size="19.25" dy="8.53">2</tspan><tspan dy="-8.53"></tspan></text>
<line x1="1830.5" y1="78.92" x2="1830.5" y2="422.5" stroke="#000" stroke-width="2.2" stroke-linecap="butt"/>
<line x1="1820.2" y1="421.4" x2="1831.6" y2="421.4" stroke="#000" stroke-width="2.2" stroke-linecap="butt"/>
<text x="1816.1" y="428.99" font-size="21.2" font-weight="bold" text-anchor="end" fill="#000">0</text>
<line x1="1820.2" y1="353.12" x2="1831.6" y2="353.12" stroke="#000" stroke-width="2.2" stroke-linecap="butt"/>
<text x="1816.1" y="360.71" font-size="21.2" font-weight="bold" text-anchor="end" fill="#000">25</text>
<line x1="1820.2" y1="284.85" x2="1831.6" y2="284.85" stroke="#000" stroke-width="2.2" stroke-linecap="butt"/>
<text x="1816.1" y="292.44" font-size="21.2" font-weight="bold" text-anchor="end" fill="#000">50</text>
<line x1="1820.2" y1="216.57" x2="1831.6" y2="216.57" stroke="#000" stroke-width="2.2" stroke-linecap="butt"/>
<text x="1816.1" y="224.16" font-size="21.2" font-weight="bold" text-anchor="end" fill="#000">75</text>
<line x1="1820.2" y1="148.3" x2="1831.6" y2="148.3" stroke="#000" stroke-width="2.2" stroke-linecap="butt"/>
<text x="1816.1" y="155.89" font-size="21.2" font-weight="bold" text-anchor="end" fill="#000">100</text>
<line x1="1820.2" y1="80.02" x2="1831.6" y2="80.02" stroke="#000" stroke-width="2.2" stroke-linecap="butt"/>
<text x="1816.1" y="87.61" font-size="21.2" font-weight="bold" text-anchor="end" fill="#000">125</text>
<text x="1767" y="246.5" font-size="27.8" font-weight="bold" text-anchor="middle" fill="#000" transform="rotate(-90 1767 246.5)">Relative viability (%)</text>
<line x1="1829.4" y1="421.4" x2="2117.29" y2="421.4" stroke="#000" stroke-width="2.2" stroke-linecap="butt"/>
<line x1="1830.5" y1="421.4" x2="1830.5" y2="431.7" stroke="#000" stroke-width="2.2" stroke-linecap="butt"/>
<text x="1830.5" y="455.6" font-size="21" font-weight="bold" text-anchor="middle" fill="#000">-2</text>
<line x1="1925.73" y1="421.4" x2="1925.73" y2="431.7" stroke="#000" stroke-width="2.2" stroke-linecap="butt"/>
<text x="1925.73" y="455.6" font-size="21" font-weight="bold" text-anchor="middle" fill="#000">-1</text>
<line x1="2020.96" y1="421.4" x2="2020.96" y2="431.7" stroke="#000" stroke-width="2.2" stroke-linecap="butt"/>
<text x="2020.96" y="455.6" font-size="21" font-weight="bold" text-anchor="middle" fill="#000">0</text>
<line x1="2116.19" y1="421.4" x2="2116.19" y2="431.7" stroke="#000" stroke-width="2.2" stroke-linecap="butt"/>
<text x="2116.19" y="455.6" font-size="21" font-weight="bold" text-anchor="middle" fill="#000">1</text>
<text x="1970.5" y="489.7" font-size="24.9" font-weight="bold" text-anchor="middle" fill="#000">Log [RSL3 (<tspan font-family='"Liberation Serif", serif' font-weight="normal">μ</tspan>M)]</text>
<polygon points="1830.5,155.8 1838.65,140.8 1822.35,140.8" fill="#f98cf3" stroke="none" stroke-width="0" stroke-linejoin="miter"/>
<polygon points="1830.5,140.8 1838.65,155.8 1822.35,155.8" fill="#f98cf3" stroke="none" stroke-width="0" stroke-linejoin="miter"/>
<line x1="1992.39" y1="344.11" x2="1992.39" y2="364.87" stroke="#f98cf3" stroke-width="2.2" stroke-linecap="butt"/>
<line x1="1983.64" y1="344.11" x2="2001.14" y2="344.11" stroke="#f98cf3" stroke-width="2.2" stroke-linecap="butt"/>
<line x1="1983.64" y1="364.87" x2="2001.14" y2="364.87" stroke="#f98cf3" stroke-width="2.2" stroke-linecap="butt"/>
<polygon points="1992.39,361.99 2000.54,346.99 1984.24,346.99" fill="#f98cf3" stroke="none" stroke-width="0" stroke-linejoin="miter"/>
<polygon points="2020.96,379.74 2029.11,364.74 2012.81,364.74" fill="#f98cf3" stroke="none" stroke-width="0" stroke-linejoin="miter"/>
<polygon points="2059.05,383.84 2067.2,368.84 2050.9,368.84" fill="#f98cf3" stroke="none" stroke-width="0" stroke-linejoin="miter"/>
<polygon points="2087.62,382.47 2095.77,367.47 2079.47,367.47" fill="#f98cf3" stroke="none" stroke-width="0" stroke-linejoin="miter"/>
<polygon points="2116.19,386.57 2124.34,371.57 2108.04,371.57" fill="#f98cf3" stroke="none" stroke-width="0" stroke-linejoin="miter"/>
<polygon points="1992.39,282.81 2000.54,297.81 1984.24,297.81" fill="#f98cf3" stroke="none" stroke-width="0" stroke-linejoin="miter"/>
<line x1="2020.96" y1="317.62" x2="2020.96" y2="344.93" stroke="#f98cf3" stroke-width="2.2" stroke-linecap="butt"/>
<line x1="2012.21" y1="317.62" x2="2029.71" y2="317.62" stroke="#f98cf3" stroke-width="2.2" stroke-linecap="butt"/>
<line x1="2012.21" y1="344.93" x2="2029.71" y2="344.93" stroke="#f98cf3" stroke-width="2.2" stroke-linecap="butt"/>
<polygon points="2020.96,323.78 2029.11,338.77 2012.81,338.77" fill="#f98cf3" stroke="none" stroke-width="0" stroke-linejoin="miter"/>
<polygon points="2059.05,357.92 2067.2,372.91 2050.9,372.91" fill="#f98cf3" stroke="none" stroke-width="0" stroke-linejoin="miter"/>
<polygon points="2087.62,359.28 2095.77,374.28 2079.47,374.28" fill="#f98cf3" stroke="none" stroke-width="0" stroke-linejoin="miter"/>
<polygon points="2116.19,363.38 2124.34,378.37 2108.04,378.37" fill="#f98cf3" stroke="none" stroke-width="0" stroke-linejoin="miter"/>
<path d="M1830.5 146.52 L1832.3 146.53 L1834.09 146.54 L1835.89 146.56 L1837.69 146.57 L1839.48 146.59 L1841.28 146.61 L1843.08 146.63 L1844.87 146.66 L1846.67 146.68 L1848.47 146.71 L1850.26 146.75 L1852.06 146.79 L1853.86 146.83 L1855.66 146.88 L1857.45 146.93 L1859.25 147 L1861.05 147.06 L1862.84 147.14 L1864.64 147.23 L1866.44 147.32 L1868.23 147.43 L1870.03 147.55 L1871.83 147.69 L1873.62 147.84 L1875.42 148.01 L1877.22 148.2 L1879.01 148.42 L1880.81 148.65 L1882.61 148.92 L1884.4 149.22 L1886.2 149.55 L1888 149.93 L1889.79 150.34 L1891.59 150.81 L1893.39 151.33 L1895.18 151.91 L1896.98 152.55 L1898.78 153.27 L1900.57 154.08 L1902.37 154.97 L1904.17 155.96 L1905.97 157.06 L1907.76 158.28 L1909.56 159.64 L1911.36 161.13 L1913.15 162.79 L1914.95 164.61 L1916.75 166.62 L1918.54 168.83 L1920.34 171.25 L1922.14 173.9 L1923.93 176.79 L1925.73 179.93 L1927.53 183.34 L1929.32 187.02 L1931.12 190.99 L1932.92 195.24 L1934.71 199.78 L1936.51 204.61 L1938.31 209.72 L1940.1 215.09 L1941.9 220.72 L1943.7 226.58 L1945.49 232.65 L1947.29 238.9 L1949.09 245.28 L1950.89 251.77 L1952.68 258.32 L1954.48 264.89 L1956.28 271.43 L1958.07 277.91 L1959.87 284.29 L1961.67 290.52 L1963.46 296.57 L1965.26 302.42 L1967.06 308.03 L1968.85 313.39 L1970.65 318.47 L1972.45 323.28 L1974.24 327.8 L1976.04 332.03 L1977.84 335.97 L1979.63 339.63 L1981.43 343.02 L1983.23 346.14 L1985.02 349.01 L1986.82 351.64 L1988.62 354.04 L1990.41 356.23 L1992.21 358.23 L1994.01 360.04 L1995.8 361.68 L1997.6 363.17 L1999.4 364.51 L2001.2 365.73 L2002.99 366.82 L2004.79 367.8 L2006.59 368.69 L2008.38 369.48 L2010.18 370.2 L2011.98 370.84 L2013.77 371.41 L2015.57 371.93 L2017.37 372.39 L2019.16 372.8 L2020.96 373.17 L2022.76 373.5 L2024.55 373.8 L2026.35 374.06 L2028.15 374.3 L2029.94 374.51 L2031.74 374.7 L2033.54 374.87 L2035.33 375.02 L2037.13 375.15 L2038.93 375.27 L2040.72 375.38 L2042.52 375.48 L2044.32 375.56 L2046.12 375.64 L2047.91 375.71 L2049.71 375.77 L2051.51 375.82 L2053.3 375.87 L2055.1 375.91 L2056.9 375.95 L2058.69 375.99 L2060.49 376.02 L2062.29 376.04 L2064.08 376.07 L2065.88 376.09 L2067.68 376.11 L2069.47 376.13 L2071.27 376.14 L2073.07 376.16 L2074.86 376.17 L2076.66 376.18 L2078.46 376.19 L2080.25 376.2 L2082.05 376.2 L2083.85 376.21 L2085.64 376.22 L2087.44 376.22 L2089.24 376.23 L2091.03 376.23 L2092.83 376.24 L2094.63 376.24 L2096.43 376.24 L2098.22 376.25 L2100.02 376.25 L2101.82 376.25 L2103.61 376.25 L2105.41 376.25 L2107.21 376.26 L2109 376.26 L2110.8 376.26 L2112.6 376.26 L2114.39 376.26 L2116.19 376.26" fill="none" stroke="#c98df2" stroke-width="3.2" stroke-linejoin="round" stroke-linecap="butt" stroke-dasharray="11 5"/>
<path d="M1830.5 147.13 L1832.3 147.22 L1834.09 147.33 L1835.89 147.44 L1837.69 147.55 L1839.48 147.68 L1841.28 147.81 L1843.08 147.95 L1844.87 148.1 L1846.67 148.27 L1848.47 148.44 L1850.26 148.62 L1852.06 148.81 L1853.86 149.01 L1855.66 149.23 L1857.45 149.46 L1859.25 149.71 L1861.05 149.97 L1862.84 150.25 L1864.64 150.54 L1866.44 150.85 L1868.23 151.19 L1870.03 151.54 L1871.83 151.92 L1873.62 152.31 L1875.42 152.73 L1877.22 153.18 L1879.01 153.66 L1880.81 154.16 L1882.61 154.69 L1884.4 155.26 L1886.2 155.86 L1888 156.49 L1889.79 157.16 L1891.59 157.87 L1893.39 158.62 L1895.18 159.42 L1896.98 160.26 L1898.78 161.15 L1900.57 162.08 L1902.37 163.07 L1904.17 164.11 L1905.97 165.21 L1907.76 166.37 L1909.56 167.58 L1911.36 168.86 L1913.15 170.21 L1914.95 171.63 L1916.75 173.11 L1918.54 174.67 L1920.34 176.3 L1922.14 178.01 L1923.93 179.79 L1925.73 181.66 L1927.53 183.61 L1929.32 185.64 L1931.12 187.75 L1932.92 189.95 L1934.71 192.23 L1936.51 194.6 L1938.31 197.06 L1940.1 199.6 L1941.9 202.22 L1943.7 204.93 L1945.49 207.72 L1947.29 210.59 L1949.09 213.54 L1950.89 216.56 L1952.68 219.65 L1954.48 222.8 L1956.28 226.02 L1958.07 229.3 L1959.87 232.63 L1961.67 236.01 L1963.46 239.43 L1965.26 242.88 L1967.06 246.37 L1968.85 249.87 L1970.65 253.39 L1972.45 256.92 L1974.24 260.45 L1976.04 263.98 L1977.84 267.49 L1979.63 270.98 L1981.43 274.45 L1983.23 277.88 L1985.02 281.28 L1986.82 284.63 L1988.62 287.93 L1990.41 291.17 L1992.21 294.36 L1994.01 297.48 L1995.8 300.53 L1997.6 303.5 L1999.4 306.4 L2001.2 309.23 L2002.99 311.97 L2004.79 314.63 L2006.59 317.21 L2008.38 319.7 L2010.18 322.1 L2011.98 324.42 L2013.77 326.66 L2015.57 328.81 L2017.37 330.87 L2019.16 332.85 L2020.96 334.75 L2022.76 336.57 L2024.55 338.31 L2026.35 339.98 L2028.15 341.56 L2029.94 343.08 L2031.74 344.52 L2033.54 345.9 L2035.33 347.2 L2037.13 348.45 L2038.93 349.63 L2040.72 350.75 L2042.52 351.82 L2044.32 352.83 L2046.12 353.79 L2047.91 354.69 L2049.71 355.55 L2051.51 356.36 L2053.3 357.13 L2055.1 357.86 L2056.9 358.55 L2058.69 359.2 L2060.49 359.81 L2062.29 360.39 L2064.08 360.94 L2065.88 361.45 L2067.68 361.94 L2069.47 362.4 L2071.27 362.83 L2073.07 363.24 L2074.86 363.62 L2076.66 363.98 L2078.46 364.32 L2080.25 364.65 L2082.05 364.95 L2083.85 365.23 L2085.64 365.5 L2087.44 365.75 L2089.24 365.99 L2091.03 366.21 L2092.83 366.42 L2094.63 366.62 L2096.43 366.81 L2098.22 366.98 L2100.02 367.15 L2101.82 367.3 L2103.61 367.45 L2105.41 367.58 L2107.21 367.71 L2109 367.83 L2110.8 367.94 L2112.6 368.05 L2114.39 368.15 L2116.19 368.25" fill="none" stroke="#f04fe0" stroke-width="3.2" stroke-linejoin="round" stroke-linecap="butt"/>
<line x1="1992.39" y1="195.82" x2="1992.39" y2="223.68" stroke="#3f9e2f" stroke-width="2.2" stroke-linecap="butt"/>
<line x1="1983.64" y1="195.82" x2="2001.14" y2="195.82" stroke="#3f9e2f" stroke-width="2.2" stroke-linecap="butt"/>
<line x1="1983.64" y1="223.68" x2="2001.14" y2="223.68" stroke="#3f9e2f" stroke-width="2.2" stroke-linecap="butt"/>
<circle cx="1992.39" cy="209.75" r="7.7" fill="#3f9e2f" stroke="none" stroke-width="0"/>
<line x1="2020.96" y1="237.06" x2="2020.96" y2="291.68" stroke="#3f9e2f" stroke-width="2.2" stroke-linecap="butt"/>
<line x1="2012.21" y1="237.06" x2="2029.71" y2="237.06" stroke="#3f9e2f" stroke-width="2.2" stroke-linecap="butt"/>
<line x1="2012.21" y1="291.68" x2="2029.71" y2="291.68" stroke="#3f9e2f" stroke-width="2.2" stroke-linecap="butt"/>
<circle cx="2020.96" cy="264.37" r="7.7" fill="#3f9e2f" stroke="none" stroke-width="0"/>
<circle cx="2059.05" cy="303.15" r="7.7" fill="#3f9e2f" stroke="none" stroke-width="0"/>
<line x1="2087.62" y1="337.01" x2="2087.62" y2="359.95" stroke="#3f9e2f" stroke-width="2.2" stroke-linecap="butt"/>
<line x1="2078.87" y1="337.01" x2="2096.37" y2="337.01" stroke="#3f9e2f" stroke-width="2.2" stroke-linecap="butt"/>
<line x1="2078.87" y1="359.95" x2="2096.37" y2="359.95" stroke="#3f9e2f" stroke-width="2.2" stroke-linecap="butt"/>
<circle cx="2087.62" cy="348.48" r="7.7" fill="#3f9e2f" stroke="none" stroke-width="0"/>
<circle cx="2116.19" cy="368.96" r="7.7" fill="#3f9e2f" stroke="none" stroke-width="0"/>
<circle cx="1830.5" cy="148.3" r="7.7" fill="#3f9e2f" stroke="none" stroke-width="0"/>
<path d="M1830.5 148.58 L1832.3 148.67 L1834.09 148.77 L1835.89 148.87 L1837.69 148.97 L1839.48 149.08 L1841.28 149.19 L1843.08 149.31 L1844.87 149.43 L1846.67 149.56 L1848.47 149.69 L1850.26 149.83 L1852.06 149.97 L1853.86 150.12 L1855.66 150.27 L1857.45 150.43 L1859.25 150.6 L1861.05 150.77 L1862.84 150.95 L1864.64 151.14 L1866.44 151.34 L1868.23 151.54 L1870.03 151.75 L1871.83 151.97 L1873.62 152.2 L1875.42 152.43 L1877.22 152.68 L1879.01 152.94 L1880.81 153.2 L1882.61 153.48 L1884.4 153.77 L1886.2 154.07 L1888 154.38 L1889.79 154.7 L1891.59 155.04 L1893.39 155.38 L1895.18 155.75 L1896.98 156.12 L1898.78 156.51 L1900.57 156.92 L1902.37 157.34 L1904.17 157.77 L1905.97 158.22 L1907.76 158.69 L1909.56 159.18 L1911.36 159.69 L1913.15 160.21 L1914.95 160.75 L1916.75 161.32 L1918.54 161.9 L1920.34 162.51 L1922.14 163.14 L1923.93 163.79 L1925.73 164.46 L1927.53 165.16 L1929.32 165.88 L1931.12 166.63 L1932.92 167.4 L1934.71 168.21 L1936.51 169.03 L1938.31 169.89 L1940.1 170.78 L1941.9 171.7 L1943.7 172.64 L1945.49 173.62 L1947.29 174.63 L1949.09 175.67 L1950.89 176.75 L1952.68 177.86 L1954.48 179.01 L1956.28 180.19 L1958.07 181.41 L1959.87 182.66 L1961.67 183.96 L1963.46 185.29 L1965.26 186.66 L1967.06 188.07 L1968.85 189.52 L1970.65 191.01 L1972.45 192.54 L1974.24 194.11 L1976.04 195.72 L1977.84 197.38 L1979.63 199.07 L1981.43 200.81 L1983.23 202.59 L1985.02 204.42 L1986.82 206.28 L1988.62 208.19 L1990.41 210.14 L1992.21 212.13 L1994.01 214.17 L1995.8 216.24 L1997.6 218.36 L1999.4 220.51 L2001.2 222.71 L2002.99 224.94 L2004.79 227.21 L2006.59 229.51 L2008.38 231.86 L2010.18 234.23 L2011.98 236.64 L2013.77 239.08 L2015.57 241.56 L2017.37 244.06 L2019.16 246.58 L2020.96 249.14 L2022.76 251.71 L2024.55 254.31 L2026.35 256.93 L2028.15 259.57 L2029.94 262.23 L2031.74 264.9 L2033.54 267.58 L2035.33 270.27 L2037.13 272.97 L2038.93 275.67 L2040.72 278.38 L2042.52 281.08 L2044.32 283.79 L2046.12 286.5 L2047.91 289.2 L2049.71 291.89 L2051.51 294.57 L2053.3 297.24 L2055.1 299.89 L2056.9 302.53 L2058.69 305.15 L2060.49 307.75 L2062.29 310.33 L2064.08 312.88 L2065.88 315.41 L2067.68 317.91 L2069.47 320.38 L2071.27 322.83 L2073.07 325.24 L2074.86 327.61 L2076.66 329.96 L2078.46 332.26 L2080.25 334.54 L2082.05 336.77 L2083.85 338.96 L2085.64 341.12 L2087.44 343.24 L2089.24 345.31 L2091.03 347.35 L2092.83 349.34 L2094.63 351.29 L2096.43 353.2 L2098.22 355.07 L2100.02 356.89 L2101.82 358.67 L2103.61 360.41 L2105.41 362.11 L2107.21 363.77 L2109 365.38 L2110.8 366.95 L2112.6 368.49 L2114.39 369.98 L2116.19 371.43" fill="none" stroke="#3f9e2f" stroke-width="3.2" stroke-linejoin="round" stroke-linecap="butt"/>
<line x1="1850.9" y1="80" x2="1874.1" y2="80" stroke="#3f9e2f" stroke-width="3.6" stroke-linecap="round"/>
<circle cx="1862.5" cy="80" r="8" fill="#3f9e2f" stroke="none" stroke-width="0"/>
<text x="1888" y="86.59" font-size="18.4" font-weight="bold" text-anchor="start" fill="#000">LN9 1315BL WT</text>
<line x1="1850.9" y1="106.9" x2="1874.1" y2="106.9" stroke="#f04fe0" stroke-width="3.6" stroke-linecap="round"/>
<polygon points="1862.5,99.54 1870.5,114.26 1854.5,114.26" fill="#f98cf3" stroke="none" stroke-width="0" stroke-linejoin="miter"/>
<text x="1888" y="113.49" font-size="18.4" font-weight="bold" text-anchor="start" fill="#000">LN9 1315BL FSP1 KO #1</text>
<line x1="1850.9" y1="137.7" x2="1874.1" y2="137.7" stroke="#c98df2" stroke-width="3.6" stroke-linecap="round" stroke-dasharray="9 3"/>
<polygon points="1862.5,145.06 1870.5,130.34 1854.5,130.34" fill="#f98cf3" stroke="none" stroke-width="0" stroke-linejoin="miter"/>
<text x="1888" y="144.29" font-size="18.4" font-weight="bold" text-anchor="start" fill="#000">LN9 1315BL FSP1 KO #2</text>
</g>
<g id="panel_e">
<text x="4" y="642" font-size="27" font-weight="bold" text-anchor="start" fill="#000">e</text>
<text x="234.7" y="702.6" font-size="27.5" font-weight="bold" text-anchor="middle" fill="#000">1% O<tspan font-size="19.25" dy="8.53">2</tspan><tspan dy="-8.53"></tspan></text>
<line x1="87.7" y1="711.12" x2="87.7" y2="1054.1" stroke="#000" stroke-width="2.2" stroke-linecap="butt"/>
<line x1="77.4" y1="1053" x2="88.8" y2="1053" stroke="#000" stroke-width="2.2" stroke-linecap="butt"/>
<text x="73.3" y="1060.52" font-size="21" font-weight="bold" text-anchor="end" fill="#000">0</text>
<line x1="77.4" y1="975.3" x2="88.8" y2="975.3" stroke="#000" stroke-width="2.2" stroke-linecap="butt"/>
<text x="73.3" y="982.82" font-size="21" font-weight="bold" text-anchor="end" fill="#000">25</text>
<line x1="77.4" y1="897.6" x2="88.8" y2="897.6" stroke="#000" stroke-width="2.2" stroke-linecap="butt"/>
<text x="73.3" y="905.12" font-size="21" font-weight="bold" text-anchor="end" fill="#000">50</text>
<line x1="77.4" y1="819.9" x2="88.8" y2="819.9" stroke="#000" stroke-width="2.2" stroke-linecap="butt"/>
<text x="73.3" y="827.42" font-size="21" font-weight="bold" text-anchor="end" fill="#000">75</text>
<line x1="77.4" y1="742.2" x2="88.8" y2="742.2" stroke="#000" stroke-width="2.2" stroke-linecap="butt"/>
<text x="73.3" y="749.72" font-size="21" font-weight="bold" text-anchor="end" fill="#000">100</text>
<text x="23.5" y="877.8" font-size="27.7" font-weight="bold" text-anchor="middle" fill="#000" transform="rotate(-90 23.5 877.8)">Relative viability (%)</text>
<line x1="86.6" y1="1053" x2="375.9" y2="1053" stroke="#000" stroke-width="2.2" stroke-linecap="butt"/>
<line x1="87.7" y1="1053" x2="87.7" y2="1063.3" stroke="#000" stroke-width="2.2" stroke-linecap="butt"/>
<text x="87.7" y="1086.6" font-size="21.2" font-weight="bold" text-anchor="middle" fill="#000">-2</text>
<line x1="183.4" y1="1053" x2="183.4" y2="1063.3" stroke="#000" stroke-width="2.2" stroke-linecap="butt"/>
<text x="183.4" y="1086.6" font-size="21.2" font-weight="bold" text-anchor="middle" fill="#000">-1</text>
<line x1="279.1" y1="1053" x2="279.1" y2="1063.3" stroke="#000" stroke-width="2.2" stroke-linecap="butt"/>
<text x="279.1" y="1086.6" font-size="21.2" font-weight="bold" text-anchor="middle" fill="#000">0</text>
<line x1="374.8" y1="1053" x2="374.8" y2="1063.3" stroke="#000" stroke-width="2.2" stroke-linecap="butt"/>
<text x="374.8" y="1086.6" font-size="21.2" font-weight="bold" text-anchor="middle" fill="#000">1</text>
<text x="228.5" y="1120" font-size="24.9" font-weight="bold" text-anchor="middle" fill="#000">Log [ML 210 (<tspan font-family='"Liberation Serif", serif' font-weight="normal">μ</tspan>M)]</text>
<path d="M87.7 739.71 L89.51 739.71 L91.31 739.71 L93.12 739.71 L94.92 739.71 L96.73 739.71 L98.53 739.71 L100.34 739.71 L102.15 739.71 L103.95 739.71 L105.76 739.71 L107.56 739.71 L109.37 739.71 L111.17 739.71 L112.98 739.71 L114.78 739.71 L116.59 739.71 L118.4 739.71 L120.2 739.71 L122.01 739.71 L123.81 739.71 L125.62 739.71 L127.42 739.71 L129.23 739.71 L131.04 739.71 L132.84 739.71 L134.65 739.71 L136.45 739.71 L138.26 739.71 L140.06 739.71 L141.87 739.71 L143.68 739.71 L145.48 739.71 L147.29 739.71 L149.09 739.71 L150.9 739.71 L152.7 739.71 L154.51 739.71 L156.32 739.71 L158.12 739.71 L159.93 739.71 L161.73 739.71 L163.54 739.71 L165.34 739.71 L167.15 739.71 L168.95 739.71 L170.76 739.71 L172.57 739.71 L174.37 739.71 L176.18 739.71 L177.98 739.71 L179.79 739.71 L181.59 739.71 L183.4 739.71 L185.21 739.71 L187.01 739.72 L188.82 739.72 L190.62 739.72 L192.43 739.72 L194.23 739.73 L196.04 739.73 L197.85 739.74 L199.65 739.75 L201.46 739.75 L203.26 739.76 L205.07 739.77 L206.87 739.78 L208.68 739.79 L210.48 739.81 L212.29 739.82 L214.1 739.83 L215.9 739.85 L217.71 739.86 L219.51 739.88 L221.32 739.9 L223.12 739.92 L224.93 739.94 L226.74 739.96 L228.54 739.98 L230.35 740 L232.15 740.03 L233.96 740.05 L235.76 740.08 L237.57 740.11 L239.38 740.14 L241.18 740.17 L242.99 740.2 L244.79 740.23 L246.6 740.26 L248.4 740.3 L250.21 740.33 L252.02 740.38 L253.82 740.46 L255.63 740.57 L257.43 740.7 L259.24 740.86 L261.04 741.05 L262.85 741.25 L264.65 741.48 L266.46 741.73 L268.27 742 L270.07 742.29 L271.88 742.69 L273.68 743.2 L275.49 743.83 L277.29 744.54 L279.1 745.33 L280.91 746.17 L282.71 747.06 L284.52 748.07 L286.32 749.29 L288.13 750.69 L289.93 752.2 L291.74 753.8 L293.55 755.42 L295.35 757.03 L297.16 758.57 L298.96 760.06 L300.77 761.57 L302.57 763.09 L304.38 764.62 L306.18 766.16 L307.99 767.7 L309.8 769.25 L311.6 770.81 L313.41 772.36 L315.21 773.91 L317.02 775.46 L318.82 777.04 L320.63 778.72 L322.44 780.45 L324.24 782.19 L326.05 783.9 L327.85 785.53 L329.66 787.04 L331.46 788.4 L333.27 789.54 L335.08 790.51 L336.88 791.45 L338.69 792.35 L340.49 793.2 L342.3 794 L344.1 794.75 L345.91 795.43 L347.72 796.04 L349.52 796.58 L351.33 797.04 L353.13 797.42 L354.94 797.72 L356.74 798 L358.55 798.28 L360.35 798.54 L362.16 798.78 L363.97 799.01 L365.77 799.2 L367.58 799.37 L369.38 799.51 L371.19 799.61 L372.99 799.68 L374.8 799.7" fill="none" stroke="#a8a8a8" stroke-width="3.2" stroke-linejoin="round" stroke-linecap="butt"/>
<path d="M87.7 742.2 L89.51 742.28 L91.31 742.37 L93.12 742.47 L94.92 742.58 L96.73 742.69 L98.53 742.82 L100.34 742.95 L102.15 743.09 L103.95 743.24 L105.76 743.39 L107.56 743.55 L109.37 743.72 L111.17 743.89 L112.98 744.07 L114.78 744.26 L116.59 744.45 L118.4 744.65 L120.2 744.85 L122.01 745.05 L123.81 745.26 L125.62 745.48 L127.42 745.7 L129.23 745.92 L131.04 746.15 L132.84 746.38 L134.65 746.61 L136.45 746.84 L138.26 747.08 L140.06 747.32 L141.87 747.56 L143.68 747.81 L145.48 748.07 L147.29 748.35 L149.09 748.63 L150.9 748.93 L152.7 749.23 L154.51 749.55 L156.32 749.87 L158.12 750.21 L159.93 750.55 L161.73 750.91 L163.54 751.28 L165.34 751.65 L167.15 752.03 L168.95 752.43 L170.76 752.83 L172.57 753.24 L174.37 753.66 L176.18 754.08 L177.98 754.52 L179.79 754.96 L181.59 755.42 L183.4 755.88 L185.21 756.35 L187.01 756.84 L188.82 757.35 L190.62 757.88 L192.43 758.42 L194.23 758.98 L196.04 759.56 L197.85 760.16 L199.65 760.77 L201.46 761.39 L203.26 762.04 L205.07 762.69 L206.87 763.36 L208.68 764.04 L210.48 764.74 L212.29 765.45 L214.1 766.17 L215.9 766.91 L217.71 767.65 L219.51 768.41 L221.32 769.17 L223.12 769.95 L224.93 770.74 L226.74 771.54 L228.54 772.36 L230.35 773.23 L232.15 774.14 L233.96 775.08 L235.76 776.05 L237.57 777.04 L239.38 778.06 L241.18 779.09 L242.99 780.14 L244.79 781.19 L246.6 782.25 L248.4 783.31 L250.21 784.36 L252.02 785.42 L253.82 786.49 L255.63 787.56 L257.43 788.65 L259.24 789.74 L261.04 790.85 L262.85 791.96 L264.65 793.09 L266.46 794.23 L268.27 795.37 L270.07 796.53 L271.88 797.7 L273.68 798.88 L275.49 800.08 L277.29 801.28 L279.1 802.5 L280.91 803.73 L282.71 805 L284.52 806.28 L286.32 807.6 L288.13 808.93 L289.93 810.27 L291.74 811.64 L293.55 813.01 L295.35 814.39 L297.16 815.77 L298.96 817.16 L300.77 818.55 L302.57 819.93 L304.38 821.31 L306.18 822.68 L307.99 824.03 L309.8 825.37 L311.6 826.7 L313.41 828 L315.21 829.28 L317.02 830.53 L318.82 831.76 L320.63 832.96 L322.44 834.14 L324.24 835.3 L326.05 836.45 L327.85 837.59 L329.66 838.72 L331.46 839.84 L333.27 840.96 L335.08 842.09 L336.88 843.21 L338.69 844.34 L340.49 845.48 L342.3 846.64 L344.1 847.81 L345.91 849 L347.72 850.2 L349.52 851.41 L351.33 852.62 L353.13 853.85 L354.94 855.07 L356.74 856.31 L358.55 857.55 L360.35 858.8 L362.16 860.05 L363.97 861.31 L365.77 862.58 L367.58 863.85 L369.38 865.13 L371.19 866.42 L372.99 867.71 L374.8 869.01" fill="none" stroke="#8fd9f2" stroke-width="3.2" stroke-linejoin="round" stroke-linecap="butt" stroke-dasharray="11 5"/>
<path d="M87.7 742.82 L89.51 742.82 L91.31 742.83 L93.12 742.83 L94.92 742.84 L96.73 742.85 L98.53 742.87 L100.34 742.89 L102.15 742.91 L103.95 742.93 L105.76 742.95 L107.56 742.98 L109.37 743.01 L111.17 743.04 L112.98 743.07 L114.78 743.11 L116.59 743.15 L118.4 743.19 L120.2 743.23 L122.01 743.28 L123.81 743.32 L125.62 743.37 L127.42 743.43 L129.23 743.48 L131.04 743.53 L132.84 743.59 L134.65 743.65 L136.45 743.71 L138.26 743.78 L140.06 743.84 L141.87 743.91 L143.68 743.98 L145.48 744.05 L147.29 744.13 L149.09 744.2 L150.9 744.28 L152.7 744.36 L154.51 744.44 L156.32 744.52 L158.12 744.6 L159.93 744.69 L161.73 744.77 L163.54 744.86 L165.34 744.95 L167.15 745.04 L168.95 745.14 L170.76 745.23 L172.57 745.33 L174.37 745.42 L176.18 745.52 L177.98 745.62 L179.79 745.72 L181.59 745.83 L183.4 745.93 L185.21 746.05 L187.01 746.19 L188.82 746.35 L190.62 746.53 L192.43 746.74 L194.23 746.96 L196.04 747.21 L197.85 747.47 L199.65 747.75 L201.46 748.04 L203.26 748.35 L205.07 748.67 L206.87 749.01 L208.68 749.36 L210.48 749.72 L212.29 750.09 L214.1 750.47 L215.9 750.86 L217.71 751.25 L219.51 751.66 L221.32 752.07 L223.12 752.48 L224.93 752.9 L226.74 753.32 L228.54 753.74 L230.35 754.17 L232.15 754.59 L233.96 755.01 L235.76 755.43 L237.57 755.85 L239.38 756.27 L241.18 756.68 L242.99 757.09 L244.79 757.48 L246.6 757.88 L248.4 758.26 L250.21 758.64 L252.02 759 L253.82 759.37 L255.63 759.73 L257.43 760.09 L259.24 760.45 L261.04 760.81 L262.85 761.17 L264.65 761.55 L266.46 761.92 L268.27 762.31 L270.07 762.71 L271.88 763.11 L273.68 763.53 L275.49 763.97 L277.29 764.42 L279.1 764.89 L280.91 765.37 L282.71 765.87 L284.52 766.39 L286.32 766.92 L288.13 767.46 L289.93 768.02 L291.74 768.6 L293.55 769.19 L295.35 769.79 L297.16 770.41 L298.96 771.04 L300.77 771.68 L302.57 772.34 L304.38 773.01 L306.18 773.7 L307.99 774.4 L309.8 775.11 L311.6 775.84 L313.41 776.58 L315.21 777.33 L317.02 778.1 L318.82 778.88 L320.63 779.69 L322.44 780.52 L324.24 781.37 L326.05 782.25 L327.85 783.16 L329.66 784.09 L331.46 785.05 L333.27 786.03 L335.08 787.04 L336.88 788.08 L338.69 789.14 L340.49 790.23 L342.3 791.35 L344.1 792.5 L345.91 793.67 L347.72 794.88 L349.52 796.14 L351.33 797.45 L353.13 798.8 L354.94 800.2 L356.74 801.63 L358.55 803.11 L360.35 804.63 L362.16 806.19 L363.97 807.78 L365.77 809.41 L367.58 811.07 L369.38 812.77 L371.19 814.49 L372.99 816.25 L374.8 818.04" fill="none" stroke="#000" stroke-width="3.2" stroke-linejoin="round" stroke-linecap="butt" stroke-dasharray="11 5"/>
<path d="M87.7 742.2 L89.51 742.2 L91.31 742.2 L93.12 742.21 L94.92 742.21 L96.73 742.22 L98.53 742.23 L100.34 742.25 L102.15 742.26 L103.95 742.27 L105.76 742.29 L107.56 742.31 L109.37 742.33 L111.17 742.35 L112.98 742.38 L114.78 742.4 L116.59 742.43 L118.4 742.46 L120.2 742.49 L122.01 742.52 L123.81 742.55 L125.62 742.59 L127.42 742.62 L129.23 742.66 L131.04 742.7 L132.84 742.74 L134.65 742.78 L136.45 742.83 L138.26 742.87 L140.06 742.92 L141.87 742.96 L143.68 743.01 L145.48 743.06 L147.29 743.11 L149.09 743.17 L150.9 743.22 L152.7 743.28 L154.51 743.33 L156.32 743.39 L158.12 743.45 L159.93 743.51 L161.73 743.57 L163.54 743.63 L165.34 743.69 L167.15 743.76 L168.95 743.82 L170.76 743.89 L172.57 743.95 L174.37 744.02 L176.18 744.09 L177.98 744.16 L179.79 744.23 L181.59 744.3 L183.4 744.38 L185.21 744.46 L187.01 744.55 L188.82 744.66 L190.62 744.78 L192.43 744.91 L194.23 745.06 L196.04 745.21 L197.85 745.38 L199.65 745.56 L201.46 745.75 L203.26 745.95 L205.07 746.16 L206.87 746.38 L208.68 746.6 L210.48 746.84 L212.29 747.08 L214.1 747.33 L215.9 747.58 L217.71 747.84 L219.51 748.11 L221.32 748.38 L223.12 748.66 L224.93 748.94 L226.74 749.22 L228.54 749.51 L230.35 749.8 L232.15 750.09 L233.96 750.39 L235.76 750.68 L237.57 750.98 L239.38 751.28 L241.18 751.58 L242.99 751.87 L244.79 752.17 L246.6 752.47 L248.4 752.76 L250.21 753.05 L252.02 753.34 L253.82 753.63 L255.63 753.93 L257.43 754.23 L259.24 754.54 L261.04 754.86 L262.85 755.18 L264.65 755.52 L266.46 755.86 L268.27 756.22 L270.07 756.59 L271.88 756.97 L273.68 757.37 L275.49 757.79 L277.29 758.22 L279.1 758.67 L280.91 759.16 L282.71 759.7 L284.52 760.28 L286.32 760.9 L288.13 761.56 L289.93 762.24 L291.74 762.96 L293.55 763.7 L295.35 764.46 L297.16 765.23 L298.96 766.01 L300.77 766.8 L302.57 767.59 L304.38 768.38 L306.18 769.16 L307.99 769.93 L309.8 770.69 L311.6 771.42 L313.41 772.13 L315.21 772.82 L317.02 773.47 L318.82 774.09 L320.63 774.7 L322.44 775.3 L324.24 775.89 L326.05 776.47 L327.85 777.04 L329.66 777.61 L331.46 778.17 L333.27 778.72 L335.08 779.28 L336.88 779.82 L338.69 780.37 L340.49 780.92 L342.3 781.46 L344.1 782 L345.91 782.55 L347.72 783.1 L349.52 783.64 L351.33 784.18 L353.13 784.72 L354.94 785.25 L356.74 785.79 L358.55 786.32 L360.35 786.85 L362.16 787.38 L363.97 787.9 L365.77 788.42 L367.58 788.94 L369.38 789.46 L371.19 789.97 L372.99 790.49 L374.8 791" fill="none" stroke="#000" stroke-width="3.2" stroke-linejoin="round" stroke-linecap="butt"/>
<line x1="87.7" y1="734.43" x2="87.7" y2="749.97" stroke="#8fd9f2" stroke-width="2.2" stroke-linecap="butt"/>
<line x1="79.2" y1="734.43" x2="96.2" y2="734.43" stroke="#8fd9f2" stroke-width="2.2" stroke-linecap="butt"/>
<line x1="79.2" y1="749.97" x2="96.2" y2="749.97" stroke="#8fd9f2" stroke-width="2.2" stroke-linecap="butt"/>
<polygon points="87.7,748.87 94.95,735.53 80.45,735.53" fill="#fff" stroke="#8fd9f2" stroke-width="2.2" stroke-linejoin="miter"/>
<line x1="250.39" y1="773.28" x2="250.39" y2="791.93" stroke="#8fd9f2" stroke-width="2.2" stroke-linecap="butt"/>
<line x1="241.89" y1="773.28" x2="258.89" y2="773.28" stroke="#8fd9f2" stroke-width="2.2" stroke-linecap="butt"/>
<line x1="241.89" y1="791.93" x2="258.89" y2="791.93" stroke="#8fd9f2" stroke-width="2.2" stroke-linecap="butt"/>
<polygon points="250.39,789.27 257.64,775.93 243.14,775.93" fill="#fff" stroke="#8fd9f2" stroke-width="2.2" stroke-linejoin="miter"/>
<line x1="279.1" y1="790.06" x2="279.1" y2="815.55" stroke="#8fd9f2" stroke-width="2.2" stroke-linecap="butt"/>
<line x1="270.6" y1="790.06" x2="287.6" y2="790.06" stroke="#8fd9f2" stroke-width="2.2" stroke-linecap="butt"/>
<line x1="270.6" y1="815.55" x2="287.6" y2="815.55" stroke="#8fd9f2" stroke-width="2.2" stroke-linecap="butt"/>
<polygon points="279.1,809.48 286.35,796.14 271.85,796.14" fill="#fff" stroke="#8fd9f2" stroke-width="2.2" stroke-linejoin="miter"/>
<line x1="317.38" y1="817.72" x2="317.38" y2="846.94" stroke="#8fd9f2" stroke-width="2.2" stroke-linecap="butt"/>
<line x1="308.88" y1="817.72" x2="325.88" y2="817.72" stroke="#8fd9f2" stroke-width="2.2" stroke-linecap="butt"/>
<line x1="308.88" y1="846.94" x2="325.88" y2="846.94" stroke="#8fd9f2" stroke-width="2.2" stroke-linecap="butt"/>
<polygon points="317.38,839 324.63,825.66 310.13,825.66" fill="#fff" stroke="#8fd9f2" stroke-width="2.2" stroke-linejoin="miter"/>
<polygon points="346.09,848.33 353.34,834.99 338.84,834.99" fill="#fff" stroke="#8fd9f2" stroke-width="2.2" stroke-linejoin="miter"/>
<line x1="374.8" y1="856.26" x2="374.8" y2="882.99" stroke="#8fd9f2" stroke-width="2.2" stroke-linecap="butt"/>
<line x1="366.3" y1="856.26" x2="383.3" y2="856.26" stroke="#8fd9f2" stroke-width="2.2" stroke-linecap="butt"/>
<line x1="366.3" y1="882.99" x2="383.3" y2="882.99" stroke="#8fd9f2" stroke-width="2.2" stroke-linecap="butt"/>
<polygon points="374.8,876.3 382.05,862.96 367.55,862.96" fill="#fff" stroke="#8fd9f2" stroke-width="2.2" stroke-linejoin="miter"/>
<polygon points="87.7,738.41 95.2,752.21 80.2,752.21" fill="#a8a8a8" stroke="#000" stroke-width="1.8" stroke-linejoin="miter"/>
<polygon points="250.39,730.64 257.89,744.44 242.89,744.44" fill="#a8a8a8" stroke="#000" stroke-width="1.8" stroke-linejoin="miter"/>
<polygon points="279.1,744.62 286.6,758.42 271.6,758.42" fill="#a8a8a8" stroke="#000" stroke-width="1.8" stroke-linejoin="miter"/>
<polygon points="317.38,769.49 324.88,783.29 309.88,783.29" fill="#a8a8a8" stroke="#000" stroke-width="1.8" stroke-linejoin="miter"/>
<polygon points="346.09,778.81 353.59,792.61 338.59,792.61" fill="#a8a8a8" stroke="#000" stroke-width="1.8" stroke-linejoin="miter"/>
<polygon points="374.8,794.35 382.3,808.15 367.3,808.15" fill="#a8a8a8" stroke="#000" stroke-width="1.8" stroke-linejoin="miter"/>
<circle cx="87.7" cy="742.2" r="7" fill="#fff" stroke="#000" stroke-width="2.4"/>
<line x1="250.39" y1="746.86" x2="250.39" y2="793.48" stroke="#000" stroke-width="2.2" stroke-linecap="butt"/>
<line x1="241.89" y1="746.86" x2="258.89" y2="746.86" stroke="#000" stroke-width="2.2" stroke-linecap="butt"/>
<line x1="241.89" y1="793.48" x2="258.89" y2="793.48" stroke="#000" stroke-width="2.2" stroke-linecap="butt"/>
<circle cx="250.39" cy="770.17" r="7" fill="#fff" stroke="#000" stroke-width="2.4"/>
<line x1="279.1" y1="748.42" x2="279.1" y2="767.06" stroke="#000" stroke-width="2.2" stroke-linecap="butt"/>
<line x1="270.6" y1="748.42" x2="287.6" y2="748.42" stroke="#000" stroke-width="2.2" stroke-linecap="butt"/>
<line x1="270.6" y1="767.06" x2="287.6" y2="767.06" stroke="#000" stroke-width="2.2" stroke-linecap="butt"/>
<circle cx="279.1" cy="757.74" r="7" fill="#fff" stroke="#000" stroke-width="2.4"/>
<line x1="317.38" y1="767.06" x2="317.38" y2="785.71" stroke="#000" stroke-width="2.2" stroke-linecap="butt"/>
<line x1="308.88" y1="767.06" x2="325.88" y2="767.06" stroke="#000" stroke-width="2.2" stroke-linecap="butt"/>
<line x1="308.88" y1="785.71" x2="325.88" y2="785.71" stroke="#000" stroke-width="2.2" stroke-linecap="butt"/>
<circle cx="317.38" cy="776.39" r="7" fill="#fff" stroke="#000" stroke-width="2.4"/>
<line x1="346.09" y1="784.78" x2="346.09" y2="827.05" stroke="#000" stroke-width="2.2" stroke-linecap="butt"/>
<line x1="337.59" y1="784.78" x2="354.59" y2="784.78" stroke="#000" stroke-width="2.2" stroke-linecap="butt"/>
<line x1="337.59" y1="827.05" x2="354.59" y2="827.05" stroke="#000" stroke-width="2.2" stroke-linecap="butt"/>
<circle cx="346.09" cy="805.91" r="7" fill="#fff" stroke="#000" stroke-width="2.4"/>
<line x1="374.8" y1="809.33" x2="374.8" y2="830.47" stroke="#000" stroke-width="2.2" stroke-linecap="butt"/>
<line x1="366.3" y1="809.33" x2="383.3" y2="809.33" stroke="#000" stroke-width="2.2" stroke-linecap="butt"/>
<line x1="366.3" y1="830.47" x2="383.3" y2="830.47" stroke="#000" stroke-width="2.2" stroke-linecap="butt"/>
<circle cx="374.8" cy="819.9" r="7" fill="#fff" stroke="#000" stroke-width="2.4"/>
<circle cx="87.7" cy="742.2" r="8" fill="#000" stroke="none" stroke-width="0"/>
<circle cx="250.39" cy="759.29" r="8" fill="#000" stroke="none" stroke-width="0"/>
<line x1="279.1" y1="734.74" x2="279.1" y2="765.2" stroke="#000" stroke-width="2.2" stroke-linecap="butt"/>
<line x1="270.6" y1="734.74" x2="287.6" y2="734.74" stroke="#000" stroke-width="2.2" stroke-linecap="butt"/>
<line x1="270.6" y1="765.2" x2="287.6" y2="765.2" stroke="#000" stroke-width="2.2" stroke-linecap="butt"/>
<circle cx="279.1" cy="749.97" r="8" fill="#000" stroke="none" stroke-width="0"/>
<line x1="317.38" y1="754.32" x2="317.38" y2="795.35" stroke="#000" stroke-width="2.2" stroke-linecap="butt"/>
<line x1="308.88" y1="754.32" x2="325.88" y2="754.32" stroke="#000" stroke-width="2.2" stroke-linecap="butt"/>
<line x1="308.88" y1="795.35" x2="325.88" y2="795.35" stroke="#000" stroke-width="2.2" stroke-linecap="butt"/>
<circle cx="317.38" cy="774.83" r="8" fill="#000" stroke="none" stroke-width="0"/>
<line x1="346.09" y1="750.59" x2="346.09" y2="814.62" stroke="#000" stroke-width="2.2" stroke-linecap="butt"/>
<line x1="337.59" y1="750.59" x2="354.59" y2="750.59" stroke="#000" stroke-width="2.2" stroke-linecap="butt"/>
<line x1="337.59" y1="814.62" x2="354.59" y2="814.62" stroke="#000" stroke-width="2.2" stroke-linecap="butt"/>
<circle cx="346.09" cy="782.6" r="8" fill="#000" stroke="none" stroke-width="0"/>
<line x1="374.8" y1="783.54" x2="374.8" y2="800.32" stroke="#000" stroke-width="2.2" stroke-linecap="butt"/>
<line x1="366.3" y1="783.54" x2="383.3" y2="783.54" stroke="#000" stroke-width="2.2" stroke-linecap="butt"/>
<line x1="366.3" y1="800.32" x2="383.3" y2="800.32" stroke="#000" stroke-width="2.2" stroke-linecap="butt"/>
<circle cx="374.8" cy="791.93" r="8" fill="#000" stroke="none" stroke-width="0"/>
<line x1="95.7" y1="953.7" x2="119.3" y2="953.7" stroke="#000" stroke-width="3.6" stroke-linecap="round"/>
<circle cx="107.5" cy="953.7" r="8" fill="#000" stroke="none" stroke-width="0"/>
<text x="133.5" y="960.29" font-size="18.4" font-weight="bold" text-anchor="start" fill="#000">B16-F0 WT</text>
<line x1="95.7" y1="979.2" x2="119.3" y2="979.2" stroke="#000" stroke-width="3.4" stroke-linecap="round" stroke-dasharray="9 3"/>
<circle cx="107.5" cy="979.2" r="7" fill="#fff" stroke="#000" stroke-width="2.4"/>
<text x="133.5" y="985.79" font-size="18.4" font-weight="bold" text-anchor="start" fill="#000">B16-F0 FSP1 KO</text>
<line x1="95.7" y1="1004.6" x2="119.3" y2="1004.6" stroke="#a8a8a8" stroke-width="3.4" stroke-linecap="round"/>
<polygon points="107.5,997.7 115,1011.5 100,1011.5" fill="#a8a8a8" stroke="#000" stroke-width="1.8" stroke-linejoin="miter"/>
<text x="133.5" y="1011.19" font-size="18.4" font-weight="bold" text-anchor="start" fill="#000">LN7 1134BL WT</text>
<line x1="95.7" y1="1029.5" x2="119.3" y2="1029.5" stroke="#8fd9f2" stroke-width="3.4" stroke-linecap="round" stroke-dasharray="9 3"/>
<polygon points="107.5,1036.17 114.75,1022.83 100.25,1022.83" fill="#fff" stroke="#8fd9f2" stroke-width="2.2" stroke-linejoin="miter"/>
<text x="133.5" y="1036.09" font-size="18.4" font-weight="bold" text-anchor="start" fill="#000">LN7 1134BL FSP1 KO</text>
</g>
<g id="panel_f">
<text x="518" y="650.5" font-size="27" font-weight="bold" text-anchor="start" fill="#000">f</text>
<line x1="630.7" y1="705.4" x2="630.7" y2="1054.8" stroke="#000" stroke-width="2.4" stroke-linecap="butt"/>
<line x1="620.4" y1="1053.6" x2="631.9" y2="1053.6" stroke="#000" stroke-width="2.4" stroke-linecap="butt"/>
<text x="617.8" y="1061.48" font-size="22" font-weight="bold" text-anchor="end" fill="#000">0</text>
<line x1="620.4" y1="984.2" x2="631.9" y2="984.2" stroke="#000" stroke-width="2.4" stroke-linecap="butt"/>
<text x="617.8" y="992.08" font-size="22" font-weight="bold" text-anchor="end" fill="#000">25</text>
<line x1="620.4" y1="914.8" x2="631.9" y2="914.8" stroke="#000" stroke-width="2.4" stroke-linecap="butt"/>
<text x="617.8" y="922.68" font-size="22" font-weight="bold" text-anchor="end" fill="#000">50</text>
<line x1="620.4" y1="845.4" x2="631.9" y2="845.4" stroke="#000" stroke-width="2.4" stroke-linecap="butt"/>
<text x="617.8" y="853.28" font-size="22" font-weight="bold" text-anchor="end" fill="#000">75</text>
<line x1="620.4" y1="776" x2="631.9" y2="776" stroke="#000" stroke-width="2.4" stroke-linecap="butt"/>
<text x="617.8" y="783.88" font-size="22" font-weight="bold" text-anchor="end" fill="#000">100</text>
<line x1="620.4" y1="706.6" x2="631.9" y2="706.6" stroke="#000" stroke-width="2.4" stroke-linecap="butt"/>
<text x="617.8" y="714.48" font-size="22" font-weight="bold" text-anchor="end" fill="#000">125</text>
<text x="567" y="876" font-size="31.3" font-weight="bold" text-anchor="middle" fill="#000" transform="rotate(-90 567 876)">Relative viability (%)</text>
<line x1="628.95" y1="1053.6" x2="979" y2="1053.6" stroke="#000" stroke-width="2.3" stroke-linecap="butt"/>
<line x1="658.4" y1="1053.6" x2="658.4" y2="1064.75" stroke="#000" stroke-width="2.3" stroke-linecap="butt"/>
<line x1="700.2" y1="1053.6" x2="700.2" y2="1064.75" stroke="#000" stroke-width="2.3" stroke-linecap="butt"/>
<line x1="742" y1="1053.6" x2="742" y2="1064.75" stroke="#000" stroke-width="2.3" stroke-linecap="butt"/>
<line x1="783.8" y1="1053.6" x2="783.8" y2="1064.75" stroke="#000" stroke-width="2.3" stroke-linecap="butt"/>
<line x1="825.6" y1="1053.6" x2="825.6" y2="1064.75" stroke="#000" stroke-width="2.3" stroke-linecap="butt"/>
<line x1="867.4" y1="1053.6" x2="867.4" y2="1064.75" stroke="#000" stroke-width="2.3" stroke-linecap="butt"/>
<line x1="909.2" y1="1053.6" x2="909.2" y2="1064.75" stroke="#000" stroke-width="2.3" stroke-linecap="butt"/>
<line x1="951" y1="1053.6" x2="951" y2="1064.75" stroke="#000" stroke-width="2.3" stroke-linecap="butt"/>
<rect x="646.2" y="777.35" width="24.4" height="276.25" fill="#e9e9e9" stroke="#000" stroke-width="2.7"/>
<rect x="688" y="809.27" width="24.4" height="244.33" fill="#e9e9e9" stroke="#000" stroke-width="2.7"/>
<rect x="729.8" y="777.35" width="24.4" height="276.25" fill="#b5854a" stroke="#000" stroke-width="2.7"/>
<rect x="771.6" y="820.1" width="24.4" height="233.5" fill="#b5854a" stroke="#000" stroke-width="2.7"/>
<rect x="813.4" y="777.35" width="24.4" height="276.25" fill="#8fd687" stroke="#000" stroke-width="2.7"/>
<rect x="855.2" y="837.87" width="24.4" height="215.73" fill="#8fd687" stroke="#000" stroke-width="2.7"/>
<rect x="897" y="777.35" width="24.4" height="276.25" fill="#66b5f8" stroke="#000" stroke-width="2.7"/>
<rect x="938.8" y="883.39" width="24.4" height="170.21" fill="#66b5f8" stroke="#000" stroke-width="2.7"/>
<circle cx="658.4" cy="756.57" r="4.5" fill="#000" stroke="#000" stroke-width="0.8"/>
<circle cx="658.4" cy="771.84" r="4.5" fill="#000" stroke="#000" stroke-width="0.8"/>
<circle cx="658.4" cy="799.6" r="4.5" fill="#000" stroke="#000" stroke-width="0.8"/>
<line x1="658.4" y1="754.07" x2="658.4" y2="798.21" stroke="#000" stroke-width="2" stroke-linecap="butt"/>
<line x1="650.4" y1="754.07" x2="666.4" y2="754.07" stroke="#000" stroke-width="2" stroke-linecap="butt"/>
<line x1="650.4" y1="798.21" x2="666.4" y2="798.21" stroke="#000" stroke-width="2" stroke-linecap="butt"/>
<circle cx="700.2" cy="792.66" r="4.5" fill="#000" stroke="#000" stroke-width="0.8"/>
<circle cx="705.2" cy="813.48" r="4.5" fill="#000" stroke="#000" stroke-width="0.8"/>
<circle cx="695.2" cy="817.64" r="4.5" fill="#000" stroke="#000" stroke-width="0.8"/>
<line x1="700.2" y1="794.04" x2="700.2" y2="819.58" stroke="#000" stroke-width="2" stroke-linecap="butt"/>
<line x1="692.2" y1="794.04" x2="708.2" y2="794.04" stroke="#000" stroke-width="2" stroke-linecap="butt"/>
<line x1="692.2" y1="819.58" x2="708.2" y2="819.58" stroke="#000" stroke-width="2" stroke-linecap="butt"/>
<circle cx="742" cy="763.51" r="4.5" fill="#b5702a" stroke="#2b1703" stroke-width="2"/>
<circle cx="750" cy="780.16" r="4.5" fill="#b5702a" stroke="#2b1703" stroke-width="2"/>
<circle cx="734" cy="782.94" r="4.5" fill="#b5702a" stroke="#2b1703" stroke-width="2"/>
<line x1="742" y1="765.17" x2="742" y2="785.72" stroke="#000" stroke-width="2" stroke-linecap="butt"/>
<line x1="734" y1="765.17" x2="750" y2="765.17" stroke="#000" stroke-width="2" stroke-linecap="butt"/>
<line x1="734" y1="785.72" x2="750" y2="785.72" stroke="#000" stroke-width="2" stroke-linecap="butt"/>
<circle cx="783.8" cy="812.09" r="4.5" fill="#b5702a" stroke="#2b1703" stroke-width="2"/>
<circle cx="774.8" cy="820.42" r="4.5" fill="#b5702a" stroke="#2b1703" stroke-width="2"/>
<circle cx="792.8" cy="820.42" r="4.5" fill="#b5702a" stroke="#2b1703" stroke-width="2"/>
<line x1="783.8" y1="812.09" x2="783.8" y2="822.91" stroke="#000" stroke-width="2" stroke-linecap="butt"/>
<line x1="775.8" y1="812.09" x2="791.8" y2="812.09" stroke="#000" stroke-width="2" stroke-linecap="butt"/>
<line x1="775.8" y1="822.91" x2="791.8" y2="822.91" stroke="#000" stroke-width="2" stroke-linecap="butt"/>
<circle cx="825.6" cy="755.18" r="4.5" fill="#3a9e2c" stroke="none" stroke-width="0"/>
<circle cx="825.6" cy="776" r="4.5" fill="#3a9e2c" stroke="none" stroke-width="0"/>
<circle cx="825.6" cy="796.82" r="4.5" fill="#3a9e2c" stroke="none" stroke-width="0"/>
<line x1="825.6" y1="756.01" x2="825.6" y2="795.99" stroke="#000" stroke-width="2" stroke-linecap="butt"/>
<line x1="817.6" y1="756.01" x2="833.6" y2="756.01" stroke="#000" stroke-width="2" stroke-linecap="butt"/>
<line x1="817.6" y1="795.99" x2="833.6" y2="795.99" stroke="#000" stroke-width="2" stroke-linecap="butt"/>
<circle cx="867.4" cy="819.03" r="4.5" fill="#3a9e2c" stroke="none" stroke-width="0"/>
<circle cx="867.4" cy="830.13" r="4.5" fill="#3a9e2c" stroke="none" stroke-width="0"/>
<circle cx="867.4" cy="856.5" r="4.5" fill="#3a9e2c" stroke="none" stroke-width="0"/>
<line x1="867.4" y1="818.2" x2="867.4" y2="853.45" stroke="#000" stroke-width="2" stroke-linecap="butt"/>
<line x1="859.4" y1="818.2" x2="875.4" y2="818.2" stroke="#000" stroke-width="2" stroke-linecap="butt"/>
<line x1="859.4" y1="853.45" x2="875.4" y2="853.45" stroke="#000" stroke-width="2" stroke-linecap="butt"/>
<circle cx="900.2" cy="770.45" r="4.5" fill="#5aaaf6" stroke="#1560c4" stroke-width="2.3"/>
<circle cx="918.2" cy="771.84" r="4.5" fill="#5aaaf6" stroke="#1560c4" stroke-width="2.3"/>
<circle cx="909.2" cy="784.33" r="4.5" fill="#5aaaf6" stroke="#1560c4" stroke-width="2.3"/>
<line x1="909.2" y1="769.89" x2="909.2" y2="781.27" stroke="#000" stroke-width="2" stroke-linecap="butt"/>
<line x1="901.2" y1="769.89" x2="917.2" y2="769.89" stroke="#000" stroke-width="2" stroke-linecap="butt"/>
<line x1="901.2" y1="781.27" x2="917.2" y2="781.27" stroke="#000" stroke-width="2" stroke-linecap="butt"/>
<circle cx="943" cy="873.16" r="4.5" fill="#5aaaf6" stroke="#1560c4" stroke-width="2.3"/>
<circle cx="960" cy="881.49" r="4.5" fill="#5aaaf6" stroke="#1560c4" stroke-width="2.3"/>
<circle cx="943" cy="888.43" r="4.5" fill="#5aaaf6" stroke="#1560c4" stroke-width="2.3"/>
<line x1="951" y1="873.44" x2="951" y2="888.98" stroke="#000" stroke-width="2" stroke-linecap="butt"/>
<line x1="943" y1="873.44" x2="959" y2="873.44" stroke="#000" stroke-width="2" stroke-linecap="butt"/>
<line x1="943" y1="888.98" x2="959" y2="888.98" stroke="#000" stroke-width="2" stroke-linecap="butt"/>
<text x="870" y="630.4" font-size="21.8" font-weight="normal" text-anchor="middle" fill="#000">P=0.0004</text>
<line x1="780.8" y1="641.5" x2="960.4" y2="641.5" stroke="#000" stroke-width="3.2" stroke-linecap="round"/>
<text x="912.1" y="670.4" font-size="21.8" font-weight="normal" text-anchor="middle" fill="#000">P=0.0089</text>
<line x1="863.8" y1="683" x2="960.4" y2="683" stroke="#000" stroke-width="3.2" stroke-linecap="round"/>
<text x="743" y="693.5" font-size="21.8" font-weight="normal" text-anchor="middle" fill="#000">P=0.9525</text>
<line x1="698.4" y1="706.7" x2="787" y2="706.7" stroke="#000" stroke-width="3.2" stroke-linecap="round"/>
<text x="846.6" y="708.8" font-size="21.8" font-weight="normal" text-anchor="middle" fill="#000">P=0.0007</text>
<line x1="825.4" y1="720" x2="867.5" y2="720" stroke="#000" stroke-width="3.2" stroke-linecap="round"/>
<text x="679" y="733.4" font-size="21.8" font-weight="normal" text-anchor="middle" fill="#000">P=0.1128</text>
<line x1="660" y1="746" x2="699.3" y2="746" stroke="#000" stroke-width="3.2" stroke-linecap="round"/>
<text x="774" y="733.4" font-size="21.8" font-weight="normal" text-anchor="middle" fill="#000">P=0.0158</text>
<line x1="750.7" y1="746" x2="798.3" y2="746" stroke="#000" stroke-width="3.2" stroke-linecap="round"/>
<text x="873.7" y="739.6" font-size="21.8" font-weight="normal" text-anchor="start" fill="#000">P=7.6x10<tspan font-size="14.39" dy="-8.72">-7</tspan></text>
<line x1="901.4" y1="752.8" x2="950.6" y2="752.8" stroke="#000" stroke-width="3.2" stroke-linecap="round"/>
<text x="656.9" y="1088.5" font-size="23.5" font-weight="bold" text-anchor="middle" fill="#000">+</text>
<text x="696.8" y="1088.5" font-size="23.5" font-weight="bold" text-anchor="middle" fill="#000">-</text>
<text x="736.2" y="1088.5" font-size="23.5" font-weight="bold" text-anchor="middle" fill="#000">+</text>
<text x="776.2" y="1088.5" font-size="23.5" font-weight="bold" text-anchor="middle" fill="#000">-</text>
<text x="809" y="1088.5" font-size="23.5" font-weight="bold" text-anchor="middle" fill="#000">+</text>
<text x="849.7" y="1088.5" font-size="23.5" font-weight="bold" text-anchor="middle" fill="#000">-</text>
<text x="889" y="1088.5" font-size="23.5" font-weight="bold" text-anchor="middle" fill="#000">+</text>
<text x="923.5" y="1088.5" font-size="23.5" font-weight="bold" text-anchor="middle" fill="#000">-</text>
<text x="655.3" y="1120.5" font-size="23.5" font-weight="bold" text-anchor="middle" fill="#000">-</text>
<text x="695.3" y="1120.5" font-size="23.5" font-weight="bold" text-anchor="middle" fill="#000">+</text>
<text x="735.3" y="1120.5" font-size="23.5" font-weight="bold" text-anchor="middle" fill="#000">-</text>
<text x="774.6" y="1120.5" font-size="23.5" font-weight="bold" text-anchor="middle" fill="#000">+</text>
<text x="814.6" y="1120.5" font-size="23.5" font-weight="bold" text-anchor="middle" fill="#000">-</text>
<text x="854.3" y="1120.5" font-size="23.5" font-weight="bold" text-anchor="middle" fill="#000">+</text>
<text x="893.7" y="1120.5" font-size="23.5" font-weight="bold" text-anchor="middle" fill="#000">-</text>
<text x="927.5" y="1120.5" font-size="23.5" font-weight="bold" text-anchor="middle" fill="#000">+</text>
<text x="951.2" y="1088.5" font-size="21.3" font-weight="bold" text-anchor="start" fill="#000">DMSO</text>
<text x="953" y="1121" font-size="21.3" font-weight="bold" text-anchor="start" fill="#000">ML-210 (2.5 uM)</text>
<line x1="647.6" y1="1136.9" x2="707" y2="1136.9" stroke="#000" stroke-width="3.6" stroke-linecap="round"/>
<line x1="732.2" y1="1136.9" x2="789.1" y2="1136.9" stroke="#000" stroke-width="3.6" stroke-linecap="round"/>
<line x1="808.2" y1="1136.9" x2="865.1" y2="1136.9" stroke="#000" stroke-width="3.6" stroke-linecap="round"/>
<line x1="883.5" y1="1136.9" x2="940.4" y2="1136.9" stroke="#000" stroke-width="3.6" stroke-linecap="round"/>
<text x="694" y="1161.5" font-size="18.4" font-weight="bold" text-anchor="end" fill="#000" transform="rotate(-55 694 1161.5)">B16-F0 WT</text>
<text x="755" y="1171.5" font-size="18.4" font-weight="bold" text-anchor="end" fill="#000" transform="rotate(-55 755 1171.5)">B16-F0</text>
<text x="780" y="1177.5" font-size="18.4" font-weight="bold" text-anchor="end" fill="#000" transform="rotate(-55 780 1177.5)">FSP1 KO</text>
<text x="843" y="1159.5" font-size="18.4" font-weight="bold" text-anchor="end" fill="#000" transform="rotate(-55 843 1159.5)">LN7 1134BL</text>
<text x="843" y="1203" font-size="18.4" font-weight="bold" text-anchor="end" fill="#000" transform="rotate(-55 843 1203)">WT</text>
<text x="912" y="1159.5" font-size="18.4" font-weight="bold" text-anchor="end" fill="#000" transform="rotate(-55 912 1159.5)">LN7 1134BL</text>
<text x="924" y="1179.5" font-size="18.4" font-weight="bold" text-anchor="end" fill="#000" transform="rotate(-55 924 1179.5)">FSP1 KO</text>
</g>
<g id="panel_g">
<text x="1133" y="645" font-size="27" font-weight="bold" text-anchor="start" fill="#000">g</text>
<line x1="1222.3" y1="710.6" x2="1222.3" y2="1052.55" stroke="#000" stroke-width="3.5" stroke-linecap="butt"/>
<line x1="1210.1" y1="1050.8" x2="1224.05" y2="1050.8" stroke="#000" stroke-width="3.4" stroke-linecap="butt"/>
<text x="1206.6" y="1058.68" font-size="22" font-weight="bold" text-anchor="end" fill="#000">0</text>
<line x1="1210.1" y1="983.1" x2="1224.05" y2="983.1" stroke="#000" stroke-width="3.4" stroke-linecap="butt"/>
<text x="1206.6" y="990.98" font-size="22" font-weight="bold" text-anchor="end" fill="#000">25</text>
<line x1="1210.1" y1="915.4" x2="1224.05" y2="915.4" stroke="#000" stroke-width="3.4" stroke-linecap="butt"/>
<text x="1206.6" y="923.28" font-size="22" font-weight="bold" text-anchor="end" fill="#000">50</text>
<line x1="1210.1" y1="847.7" x2="1224.05" y2="847.7" stroke="#000" stroke-width="3.4" stroke-linecap="butt"/>
<text x="1206.6" y="855.58" font-size="22" font-weight="bold" text-anchor="end" fill="#000">75</text>
<line x1="1210.1" y1="780" x2="1224.05" y2="780" stroke="#000" stroke-width="3.4" stroke-linecap="butt"/>
<text x="1206.6" y="787.88" font-size="22" font-weight="bold" text-anchor="end" fill="#000">100</text>
<line x1="1210.1" y1="712.3" x2="1224.05" y2="712.3" stroke="#000" stroke-width="3.4" stroke-linecap="butt"/>
<text x="1206.6" y="720.18" font-size="22" font-weight="bold" text-anchor="end" fill="#000">125</text>
<text x="1158" y="878" font-size="30.6" font-weight="bold" text-anchor="middle" fill="#000" transform="rotate(-90 1158 878)">Relative viability (%)</text>
<line x1="1220.55" y1="1050.8" x2="1955" y2="1050.8" stroke="#000" stroke-width="3.3" stroke-linecap="butt"/>
<line x1="1240.6" y1="1050.8" x2="1240.6" y2="1062.45" stroke="#000" stroke-width="2.9" stroke-linecap="butt"/>
<line x1="1270.75" y1="1050.8" x2="1270.75" y2="1062.45" stroke="#000" stroke-width="2.9" stroke-linecap="butt"/>
<line x1="1300.9" y1="1050.8" x2="1300.9" y2="1062.45" stroke="#000" stroke-width="2.9" stroke-linecap="butt"/>
<line x1="1331.05" y1="1050.8" x2="1331.05" y2="1062.45" stroke="#000" stroke-width="2.9" stroke-linecap="butt"/>
<line x1="1361.2" y1="1050.8" x2="1361.2" y2="1062.45" stroke="#000" stroke-width="2.9" stroke-linecap="butt"/>
<line x1="1391.35" y1="1050.8" x2="1391.35" y2="1062.45" stroke="#000" stroke-width="2.9" stroke-linecap="butt"/>
<line x1="1421.5" y1="1050.8" x2="1421.5" y2="1062.45" stroke="#000" stroke-width="2.9" stroke-linecap="butt"/>
<line x1="1451.65" y1="1050.8" x2="1451.65" y2="1062.45" stroke="#000" stroke-width="2.9" stroke-linecap="butt"/>
<line x1="1481.8" y1="1050.8" x2="1481.8" y2="1062.45" stroke="#000" stroke-width="2.9" stroke-linecap="butt"/>
<line x1="1511.95" y1="1050.8" x2="1511.95" y2="1062.45" stroke="#000" stroke-width="2.9" stroke-linecap="butt"/>
<line x1="1542.1" y1="1050.8" x2="1542.1" y2="1062.45" stroke="#000" stroke-width="2.9" stroke-linecap="butt"/>
<line x1="1572.25" y1="1050.8" x2="1572.25" y2="1062.45" stroke="#000" stroke-width="2.9" stroke-linecap="butt"/>
<line x1="1602.4" y1="1050.8" x2="1602.4" y2="1062.45" stroke="#000" stroke-width="2.9" stroke-linecap="butt"/>
<line x1="1632.55" y1="1050.8" x2="1632.55" y2="1062.45" stroke="#000" stroke-width="2.9" stroke-linecap="butt"/>
<line x1="1662.7" y1="1050.8" x2="1662.7" y2="1062.45" stroke="#000" stroke-width="2.9" stroke-linecap="butt"/>
<line x1="1692.85" y1="1050.8" x2="1692.85" y2="1062.45" stroke="#000" stroke-width="2.9" stroke-linecap="butt"/>
<line x1="1723" y1="1050.8" x2="1723" y2="1062.45" stroke="#000" stroke-width="2.9" stroke-linecap="butt"/>
<line x1="1753.15" y1="1050.8" x2="1753.15" y2="1062.45" stroke="#000" stroke-width="2.9" stroke-linecap="butt"/>
<line x1="1783.3" y1="1050.8" x2="1783.3" y2="1062.45" stroke="#000" stroke-width="2.9" stroke-linecap="butt"/>
<line x1="1813.45" y1="1050.8" x2="1813.45" y2="1062.45" stroke="#000" stroke-width="2.9" stroke-linecap="butt"/>
<line x1="1843.6" y1="1050.8" x2="1843.6" y2="1062.45" stroke="#000" stroke-width="2.9" stroke-linecap="butt"/>
<line x1="1873.75" y1="1050.8" x2="1873.75" y2="1062.45" stroke="#000" stroke-width="2.9" stroke-linecap="butt"/>
<line x1="1903.9" y1="1050.8" x2="1903.9" y2="1062.45" stroke="#000" stroke-width="2.9" stroke-linecap="butt"/>
<line x1="1934.05" y1="1050.8" x2="1934.05" y2="1062.45" stroke="#000" stroke-width="2.9" stroke-linecap="butt"/>
<rect x="1232.8" y="781.65" width="15.6" height="269.15" fill="#d6d6d6" stroke="#000" stroke-width="3.3"/>
<rect x="1262.95" y="784.36" width="15.6" height="266.44" fill="#d6d6d6" stroke="#000" stroke-width="3.3"/>
<rect x="1293.1" y="765.4" width="15.6" height="285.4" fill="#d6d6d6" stroke="#000" stroke-width="3.3"/>
<rect x="1323.25" y="771.09" width="15.6" height="279.71" fill="#d6d6d6" stroke="#000" stroke-width="3.3"/>
<rect x="1353.4" y="786.25" width="15.6" height="264.55" fill="#d6d6d6" stroke="#000" stroke-width="3.3"/>
<rect x="1383.55" y="790.04" width="15.6" height="260.76" fill="#d6d6d6" stroke="#000" stroke-width="3.3"/>
<rect x="1413.7" y="782.19" width="15.6" height="268.61" fill="#8fd687" stroke="#000" stroke-width="3.3"/>
<rect x="1443.85" y="856.93" width="15.6" height="193.87" fill="#8fd687" stroke="#000" stroke-width="3.3"/>
<rect x="1474" y="769.19" width="15.6" height="281.61" fill="#8fd687" stroke="#000" stroke-width="3.3"/>
<rect x="1504.15" y="771.09" width="15.6" height="279.71" fill="#8fd687" stroke="#000" stroke-width="3.3"/>
<rect x="1534.3" y="1001" width="15.6" height="49.8" fill="#8fd687" stroke="#000" stroke-width="3.3"/>
<rect x="1564.45" y="1008.85" width="15.6" height="41.95" fill="#8fd687" stroke="#000" stroke-width="3.3"/>
<rect x="1594.6" y="782.19" width="15.6" height="268.61" fill="#fff" stroke="#000" stroke-width="3.3"/>
<rect x="1624.75" y="772.98" width="15.6" height="277.82" fill="#fff" stroke="#000" stroke-width="3.3"/>
<rect x="1654.9" y="777.32" width="15.6" height="273.48" fill="#fff" stroke="#000" stroke-width="3.3"/>
<rect x="1685.05" y="765.94" width="15.6" height="284.86" fill="#fff" stroke="#000" stroke-width="3.3"/>
<rect x="1715.2" y="774.61" width="15.6" height="276.19" fill="#fff" stroke="#000" stroke-width="3.3"/>
<rect x="1745.35" y="768.11" width="15.6" height="282.69" fill="#fff" stroke="#000" stroke-width="3.3"/>
<rect x="1775.5" y="782.19" width="15.6" height="268.61" fill="#8ed2fc" stroke="#000" stroke-width="3.3"/>
<rect x="1805.65" y="826.06" width="15.6" height="224.74" fill="#8ed2fc" stroke="#000" stroke-width="3.3"/>
<rect x="1835.8" y="793.57" width="15.6" height="257.23" fill="#8ed2fc" stroke="#000" stroke-width="3.3"/>
<rect x="1865.95" y="801.15" width="15.6" height="249.65" fill="#8ed2fc" stroke="#000" stroke-width="3.3"/>
<rect x="1896.1" y="866.95" width="15.6" height="183.85" fill="#8ed2fc" stroke="#000" stroke-width="3.3"/>
<rect x="1926.25" y="885.91" width="15.6" height="164.89" fill="#8ed2fc" stroke="#000" stroke-width="3.3"/>
<circle cx="1235.6" cy="775.94" r="4.5" fill="#000" stroke="none" stroke-width="0"/>
<circle cx="1240.6" cy="771.88" r="4.5" fill="#000" stroke="none" stroke-width="0"/>
<circle cx="1246.6" cy="777.29" r="4.5" fill="#000" stroke="none" stroke-width="0"/>
<circle cx="1236.6" cy="782.71" r="4.5" fill="#000" stroke="none" stroke-width="0"/>
<circle cx="1243.6" cy="785.42" r="4.5" fill="#000" stroke="none" stroke-width="0"/>
<circle cx="1240.6" cy="790.83" r="4.5" fill="#000" stroke="none" stroke-width="0"/>
<line x1="1240.6" y1="773.23" x2="1240.6" y2="786.77" stroke="#000" stroke-width="2" stroke-linecap="butt"/>
<line x1="1234.85" y1="773.23" x2="1246.35" y2="773.23" stroke="#000" stroke-width="2" stroke-linecap="butt"/>
<line x1="1234.85" y1="786.77" x2="1246.35" y2="786.77" stroke="#000" stroke-width="2" stroke-linecap="butt"/>
<circle cx="1275.75" cy="756.98" r="4.5" fill="#000" stroke="none" stroke-width="0"/>
<circle cx="1265.75" cy="765.11" r="4.5" fill="#000" stroke="none" stroke-width="0"/>
<circle cx="1265.75" cy="782.71" r="4.5" fill="#000" stroke="none" stroke-width="0"/>
<circle cx="1275.75" cy="782.71" r="4.5" fill="#000" stroke="none" stroke-width="0"/>
<circle cx="1270.75" cy="793.54" r="4.5" fill="#000" stroke="none" stroke-width="0"/>
<circle cx="1270.75" cy="819.27" r="4.5" fill="#000" stroke="none" stroke-width="0"/>
<line x1="1270.75" y1="761.86" x2="1270.75" y2="805.73" stroke="#000" stroke-width="2" stroke-linecap="butt"/>
<line x1="1265" y1="761.86" x2="1276.5" y2="761.86" stroke="#000" stroke-width="2" stroke-linecap="butt"/>
<line x1="1265" y1="805.73" x2="1276.5" y2="805.73" stroke="#000" stroke-width="2" stroke-linecap="butt"/>
<circle cx="1305.9" cy="750.21" r="4.5" fill="#000" stroke="none" stroke-width="0"/>
<circle cx="1296.9" cy="762.4" r="4.5" fill="#000" stroke="none" stroke-width="0"/>
<circle cx="1304.9" cy="763.75" r="4.5" fill="#000" stroke="none" stroke-width="0"/>
<circle cx="1300.9" cy="769.17" r="4.5" fill="#000" stroke="none" stroke-width="0"/>
<circle cx="1297.9" cy="774.58" r="4.5" fill="#000" stroke="none" stroke-width="0"/>
<circle cx="1300.9" cy="785.42" r="4.5" fill="#000" stroke="none" stroke-width="0"/>
<line x1="1300.9" y1="754" x2="1300.9" y2="776.21" stroke="#000" stroke-width="2" stroke-linecap="butt"/>
<line x1="1295.15" y1="754" x2="1306.65" y2="754" stroke="#000" stroke-width="2" stroke-linecap="butt"/>
<line x1="1295.15" y1="776.21" x2="1306.65" y2="776.21" stroke="#000" stroke-width="2" stroke-linecap="butt"/>
<circle cx="1326.05" cy="752.92" r="4.5" fill="#000" stroke="none" stroke-width="0"/>
<circle cx="1332.05" cy="758.34" r="4.5" fill="#000" stroke="none" stroke-width="0"/>
<circle cx="1336.05" cy="769.17" r="4.5" fill="#000" stroke="none" stroke-width="0"/>
<circle cx="1328.05" cy="774.58" r="4.5" fill="#000" stroke="none" stroke-width="0"/>
<circle cx="1326.05" cy="780" r="4.5" fill="#000" stroke="none" stroke-width="0"/>
<circle cx="1335.05" cy="780" r="4.5" fill="#000" stroke="none" stroke-width="0"/>
<line x1="1331.05" y1="756.44" x2="1331.05" y2="780" stroke="#000" stroke-width="2" stroke-linecap="butt"/>
<line x1="1325.3" y1="756.44" x2="1336.8" y2="756.44" stroke="#000" stroke-width="2" stroke-linecap="butt"/>
<line x1="1325.3" y1="780" x2="1336.8" y2="780" stroke="#000" stroke-width="2" stroke-linecap="butt"/>
<circle cx="1356.2" cy="763.75" r="4.5" fill="#000" stroke="none" stroke-width="0"/>
<circle cx="1366.2" cy="763.75" r="4.5" fill="#000" stroke="none" stroke-width="0"/>
<circle cx="1366.2" cy="780" r="4.5" fill="#000" stroke="none" stroke-width="0"/>
<circle cx="1356.2" cy="782.71" r="4.5" fill="#000" stroke="none" stroke-width="0"/>
<circle cx="1361.2" cy="796.25" r="4.5" fill="#000" stroke="none" stroke-width="0"/>
<circle cx="1361.2" cy="815.2" r="4.5" fill="#000" stroke="none" stroke-width="0"/>
<line x1="1361.2" y1="762.13" x2="1361.2" y2="803.56" stroke="#000" stroke-width="2" stroke-linecap="butt"/>
<line x1="1355.45" y1="762.13" x2="1366.95" y2="762.13" stroke="#000" stroke-width="2" stroke-linecap="butt"/>
<line x1="1355.45" y1="803.56" x2="1366.95" y2="803.56" stroke="#000" stroke-width="2" stroke-linecap="butt"/>
<circle cx="1396.35" cy="770.52" r="4.5" fill="#000" stroke="none" stroke-width="0"/>
<circle cx="1386.35" cy="778.65" r="4.5" fill="#000" stroke="none" stroke-width="0"/>
<circle cx="1396.35" cy="780" r="4.5" fill="#000" stroke="none" stroke-width="0"/>
<circle cx="1391.35" cy="788.12" r="4.5" fill="#000" stroke="none" stroke-width="0"/>
<circle cx="1391.35" cy="798.96" r="4.5" fill="#000" stroke="none" stroke-width="0"/>
<circle cx="1391.35" cy="821.97" r="4.5" fill="#000" stroke="none" stroke-width="0"/>
<line x1="1391.35" y1="769.17" x2="1391.35" y2="807.35" stroke="#000" stroke-width="2" stroke-linecap="butt"/>
<line x1="1385.6" y1="769.17" x2="1397.1" y2="769.17" stroke="#000" stroke-width="2" stroke-linecap="butt"/>
<line x1="1385.6" y1="807.35" x2="1397.1" y2="807.35" stroke="#000" stroke-width="2" stroke-linecap="butt"/>
<circle cx="1426.5" cy="752.92" r="4.5" fill="#3a9e2c" stroke="none" stroke-width="0"/>
<circle cx="1416.5" cy="758.34" r="4.5" fill="#3a9e2c" stroke="none" stroke-width="0"/>
<circle cx="1421.5" cy="771.88" r="4.5" fill="#3a9e2c" stroke="none" stroke-width="0"/>
<circle cx="1416.5" cy="786.77" r="4.5" fill="#3a9e2c" stroke="none" stroke-width="0"/>
<circle cx="1426.5" cy="789.48" r="4.5" fill="#3a9e2c" stroke="none" stroke-width="0"/>
<circle cx="1421.5" cy="813.85" r="4.5" fill="#3a9e2c" stroke="none" stroke-width="0"/>
<line x1="1421.5" y1="757.79" x2="1421.5" y2="802.21" stroke="#000" stroke-width="2" stroke-linecap="butt"/>
<line x1="1415.75" y1="757.79" x2="1427.25" y2="757.79" stroke="#000" stroke-width="2" stroke-linecap="butt"/>
<line x1="1415.75" y1="802.21" x2="1427.25" y2="802.21" stroke="#000" stroke-width="2" stroke-linecap="butt"/>
<circle cx="1451.65" cy="823.33" r="4.5" fill="#3a9e2c" stroke="none" stroke-width="0"/>
<circle cx="1446.65" cy="835.51" r="4.5" fill="#3a9e2c" stroke="none" stroke-width="0"/>
<circle cx="1456.65" cy="840.93" r="4.5" fill="#3a9e2c" stroke="none" stroke-width="0"/>
<circle cx="1451.65" cy="850.41" r="4.5" fill="#3a9e2c" stroke="none" stroke-width="0"/>
<circle cx="1451.65" cy="865.3" r="4.5" fill="#3a9e2c" stroke="none" stroke-width="0"/>
<circle cx="1451.65" cy="909.98" r="4.5" fill="#3a9e2c" stroke="none" stroke-width="0"/>
<line x1="1451.65" y1="823.87" x2="1451.65" y2="883.99" stroke="#000" stroke-width="2" stroke-linecap="butt"/>
<line x1="1445.9" y1="823.87" x2="1457.4" y2="823.87" stroke="#000" stroke-width="2" stroke-linecap="butt"/>
<line x1="1445.9" y1="883.99" x2="1457.4" y2="883.99" stroke="#000" stroke-width="2" stroke-linecap="butt"/>
<circle cx="1476.8" cy="751.57" r="4.5" fill="#3a9e2c" stroke="none" stroke-width="0"/>
<circle cx="1486.8" cy="754.27" r="4.5" fill="#3a9e2c" stroke="none" stroke-width="0"/>
<circle cx="1478.8" cy="766.46" r="4.5" fill="#3a9e2c" stroke="none" stroke-width="0"/>
<circle cx="1484.8" cy="771.88" r="4.5" fill="#3a9e2c" stroke="none" stroke-width="0"/>
<circle cx="1481.8" cy="780" r="4.5" fill="#3a9e2c" stroke="none" stroke-width="0"/>
<circle cx="1481.8" cy="794.89" r="4.5" fill="#3a9e2c" stroke="none" stroke-width="0"/>
<line x1="1481.8" y1="750.75" x2="1481.8" y2="783.79" stroke="#000" stroke-width="2" stroke-linecap="butt"/>
<line x1="1476.05" y1="750.75" x2="1487.55" y2="750.75" stroke="#000" stroke-width="2" stroke-linecap="butt"/>
<line x1="1476.05" y1="783.79" x2="1487.55" y2="783.79" stroke="#000" stroke-width="2" stroke-linecap="butt"/>
<circle cx="1516.95" cy="744.8" r="4.5" fill="#3a9e2c" stroke="none" stroke-width="0"/>
<circle cx="1506.95" cy="750.21" r="4.5" fill="#3a9e2c" stroke="none" stroke-width="0"/>
<circle cx="1516.95" cy="765.11" r="4.5" fill="#3a9e2c" stroke="none" stroke-width="0"/>
<circle cx="1506.95" cy="770.52" r="4.5" fill="#3a9e2c" stroke="none" stroke-width="0"/>
<circle cx="1511.95" cy="784.06" r="4.5" fill="#3a9e2c" stroke="none" stroke-width="0"/>
<circle cx="1511.95" cy="801.66" r="4.5" fill="#3a9e2c" stroke="none" stroke-width="0"/>
<line x1="1511.95" y1="748.05" x2="1511.95" y2="789.21" stroke="#000" stroke-width="2" stroke-linecap="butt"/>
<line x1="1506.2" y1="748.05" x2="1517.7" y2="748.05" stroke="#000" stroke-width="2" stroke-linecap="butt"/>
<line x1="1506.2" y1="789.21" x2="1517.7" y2="789.21" stroke="#000" stroke-width="2" stroke-linecap="butt"/>
<circle cx="1542.1" cy="983.1" r="4.5" fill="#3a9e2c" stroke="none" stroke-width="0"/>
<circle cx="1547.1" cy="993.93" r="4.5" fill="#3a9e2c" stroke="none" stroke-width="0"/>
<circle cx="1537.1" cy="997.99" r="4.5" fill="#3a9e2c" stroke="none" stroke-width="0"/>
<circle cx="1546.1" cy="1003.41" r="4.5" fill="#3a9e2c" stroke="none" stroke-width="0"/>
<circle cx="1538.1" cy="1007.47" r="4.5" fill="#3a9e2c" stroke="none" stroke-width="0"/>
<circle cx="1542.1" cy="1012.89" r="4.5" fill="#3a9e2c" stroke="none" stroke-width="0"/>
<line x1="1542.1" y1="988.79" x2="1542.1" y2="1008.56" stroke="#000" stroke-width="2" stroke-linecap="butt"/>
<line x1="1536.35" y1="988.79" x2="1547.85" y2="988.79" stroke="#000" stroke-width="2" stroke-linecap="butt"/>
<line x1="1536.35" y1="1008.56" x2="1547.85" y2="1008.56" stroke="#000" stroke-width="2" stroke-linecap="butt"/>
<circle cx="1572.25" cy="1001.24" r="4.5" fill="#3a9e2c" stroke="none" stroke-width="0"/>
<circle cx="1567.25" cy="1004.76" r="4.5" fill="#3a9e2c" stroke="none" stroke-width="0"/>
<circle cx="1577.25" cy="1004.76" r="4.5" fill="#3a9e2c" stroke="none" stroke-width="0"/>
<circle cx="1574.25" cy="1007.47" r="4.5" fill="#3a9e2c" stroke="none" stroke-width="0"/>
<circle cx="1569.25" cy="1010.18" r="4.5" fill="#3a9e2c" stroke="none" stroke-width="0"/>
<circle cx="1577.25" cy="1008.83" r="4.5" fill="#3a9e2c" stroke="none" stroke-width="0"/>
<line x1="1572.25" y1="1002.06" x2="1572.25" y2="1011.26" stroke="#000" stroke-width="2" stroke-linecap="butt"/>
<line x1="1566.5" y1="1002.06" x2="1578" y2="1002.06" stroke="#000" stroke-width="2" stroke-linecap="butt"/>
<line x1="1566.5" y1="1011.26" x2="1578" y2="1011.26" stroke="#000" stroke-width="2" stroke-linecap="butt"/>
<circle cx="1602.4" cy="755.63" r="4.5" fill="#fff" stroke="#000" stroke-width="2.5"/>
<circle cx="1596.4" cy="780" r="4.5" fill="#fff" stroke="#000" stroke-width="2.5"/>
<circle cx="1607.4" cy="786.77" r="4.5" fill="#fff" stroke="#000" stroke-width="2.5"/>
<circle cx="1596.4" cy="788.12" r="4.5" fill="#fff" stroke="#000" stroke-width="2.5"/>
<circle cx="1606.4" cy="790.83" r="4.5" fill="#fff" stroke="#000" stroke-width="2.5"/>
<circle cx="1602.4" cy="777.29" r="4.5" fill="#fff" stroke="#000" stroke-width="2.5"/>
<line x1="1602.4" y1="765.11" x2="1602.4" y2="790.83" stroke="#000" stroke-width="2" stroke-linecap="butt"/>
<line x1="1596.65" y1="765.11" x2="1608.15" y2="765.11" stroke="#000" stroke-width="2" stroke-linecap="butt"/>
<line x1="1596.65" y1="790.83" x2="1608.15" y2="790.83" stroke="#000" stroke-width="2" stroke-linecap="butt"/>
<circle cx="1637.55" cy="750.21" r="4.5" fill="#fff" stroke="#000" stroke-width="2.5"/>
<circle cx="1628.55" cy="758.34" r="4.5" fill="#fff" stroke="#000" stroke-width="2.5"/>
<circle cx="1637.55" cy="766.46" r="4.5" fill="#fff" stroke="#000" stroke-width="2.5"/>
<circle cx="1628.55" cy="777.29" r="4.5" fill="#fff" stroke="#000" stroke-width="2.5"/>
<circle cx="1637.55" cy="785.42" r="4.5" fill="#fff" stroke="#000" stroke-width="2.5"/>
<circle cx="1627.55" cy="788.12" r="4.5" fill="#fff" stroke="#000" stroke-width="2.5"/>
<line x1="1632.55" y1="758.88" x2="1632.55" y2="782.71" stroke="#000" stroke-width="2" stroke-linecap="butt"/>
<line x1="1626.8" y1="758.88" x2="1638.3" y2="758.88" stroke="#000" stroke-width="2" stroke-linecap="butt"/>
<line x1="1626.8" y1="782.71" x2="1638.3" y2="782.71" stroke="#000" stroke-width="2" stroke-linecap="butt"/>
<circle cx="1662.7" cy="759.69" r="4.5" fill="#fff" stroke="#000" stroke-width="2.5"/>
<circle cx="1656.7" cy="763.75" r="4.5" fill="#fff" stroke="#000" stroke-width="2.5"/>
<circle cx="1668.7" cy="765.11" r="4.5" fill="#fff" stroke="#000" stroke-width="2.5"/>
<circle cx="1662.7" cy="780" r="4.5" fill="#fff" stroke="#000" stroke-width="2.5"/>
<circle cx="1665.7" cy="788.12" r="4.5" fill="#fff" stroke="#000" stroke-width="2.5"/>
<circle cx="1659.7" cy="796.25" r="4.5" fill="#fff" stroke="#000" stroke-width="2.5"/>
<line x1="1662.7" y1="762.13" x2="1662.7" y2="790.83" stroke="#000" stroke-width="2" stroke-linecap="butt"/>
<line x1="1656.95" y1="762.13" x2="1668.45" y2="762.13" stroke="#000" stroke-width="2" stroke-linecap="butt"/>
<line x1="1656.95" y1="790.83" x2="1668.45" y2="790.83" stroke="#000" stroke-width="2" stroke-linecap="butt"/>
<circle cx="1698.85" cy="747.5" r="4.5" fill="#fff" stroke="#000" stroke-width="2.5"/>
<circle cx="1692.85" cy="755.63" r="4.5" fill="#fff" stroke="#000" stroke-width="2.5"/>
<circle cx="1686.85" cy="758.34" r="4.5" fill="#fff" stroke="#000" stroke-width="2.5"/>
<circle cx="1692.85" cy="763.75" r="4.5" fill="#fff" stroke="#000" stroke-width="2.5"/>
<circle cx="1692.85" cy="777.29" r="4.5" fill="#fff" stroke="#000" stroke-width="2.5"/>
<circle cx="1692.85" cy="788.12" r="4.5" fill="#fff" stroke="#000" stroke-width="2.5"/>
<line x1="1692.85" y1="748.59" x2="1692.85" y2="775.67" stroke="#000" stroke-width="2" stroke-linecap="butt"/>
<line x1="1687.1" y1="748.59" x2="1698.6" y2="748.59" stroke="#000" stroke-width="2" stroke-linecap="butt"/>
<line x1="1687.1" y1="775.67" x2="1698.6" y2="775.67" stroke="#000" stroke-width="2" stroke-linecap="butt"/>
<circle cx="1723" cy="742.09" r="4.5" fill="#fff" stroke="#000" stroke-width="2.5"/>
<circle cx="1717" cy="769.17" r="4.5" fill="#fff" stroke="#000" stroke-width="2.5"/>
<circle cx="1729" cy="769.17" r="4.5" fill="#fff" stroke="#000" stroke-width="2.5"/>
<circle cx="1723" cy="774.58" r="4.5" fill="#fff" stroke="#000" stroke-width="2.5"/>
<circle cx="1723" cy="780" r="4.5" fill="#fff" stroke="#000" stroke-width="2.5"/>
<circle cx="1723" cy="808.43" r="4.5" fill="#fff" stroke="#000" stroke-width="2.5"/>
<line x1="1723" y1="751.57" x2="1723" y2="793" stroke="#000" stroke-width="2" stroke-linecap="butt"/>
<line x1="1717.25" y1="751.57" x2="1728.75" y2="751.57" stroke="#000" stroke-width="2" stroke-linecap="butt"/>
<line x1="1717.25" y1="793" x2="1728.75" y2="793" stroke="#000" stroke-width="2" stroke-linecap="butt"/>
<circle cx="1759.15" cy="750.21" r="4.5" fill="#fff" stroke="#000" stroke-width="2.5"/>
<circle cx="1753.15" cy="755.63" r="4.5" fill="#fff" stroke="#000" stroke-width="2.5"/>
<circle cx="1747.15" cy="759.69" r="4.5" fill="#fff" stroke="#000" stroke-width="2.5"/>
<circle cx="1759.15" cy="761.04" r="4.5" fill="#fff" stroke="#000" stroke-width="2.5"/>
<circle cx="1753.15" cy="769.17" r="4.5" fill="#fff" stroke="#000" stroke-width="2.5"/>
<circle cx="1753.15" cy="788.12" r="4.5" fill="#fff" stroke="#000" stroke-width="2.5"/>
<line x1="1753.15" y1="755.63" x2="1753.15" y2="776.75" stroke="#000" stroke-width="2" stroke-linecap="butt"/>
<line x1="1747.4" y1="755.63" x2="1758.9" y2="755.63" stroke="#000" stroke-width="2" stroke-linecap="butt"/>
<line x1="1747.4" y1="776.75" x2="1758.9" y2="776.75" stroke="#000" stroke-width="2" stroke-linecap="butt"/>
<circle cx="1778.3" cy="765.11" r="4.5" fill="none" stroke="#4f9cf0" stroke-width="2.4"/>
<circle cx="1789.3" cy="771.88" r="4.5" fill="none" stroke="#4f9cf0" stroke-width="2.4"/>
<circle cx="1783.3" cy="780" r="4.5" fill="none" stroke="#4f9cf0" stroke-width="2.4"/>
<circle cx="1778.3" cy="785.42" r="4.5" fill="none" stroke="#4f9cf0" stroke-width="2.4"/>
<circle cx="1788.3" cy="786.77" r="4.5" fill="none" stroke="#4f9cf0" stroke-width="2.4"/>
<circle cx="1783.3" cy="788.12" r="4.5" fill="none" stroke="#4f9cf0" stroke-width="2.4"/>
<line x1="1783.3" y1="771.33" x2="1783.3" y2="788.39" stroke="#4f9cf0" stroke-width="2" stroke-linecap="butt"/>
<line x1="1777.55" y1="771.33" x2="1789.05" y2="771.33" stroke="#4f9cf0" stroke-width="2" stroke-linecap="butt"/>
<line x1="1777.55" y1="788.39" x2="1789.05" y2="788.39" stroke="#4f9cf0" stroke-width="2" stroke-linecap="butt"/>
<circle cx="1811.45" cy="804.37" r="4.5" fill="none" stroke="#4f9cf0" stroke-width="2.4"/>
<circle cx="1817.45" cy="812.5" r="4.5" fill="none" stroke="#4f9cf0" stroke-width="2.4"/>
<circle cx="1807.45" cy="821.97" r="4.5" fill="none" stroke="#4f9cf0" stroke-width="2.4"/>
<circle cx="1819.45" cy="821.97" r="4.5" fill="none" stroke="#4f9cf0" stroke-width="2.4"/>
<circle cx="1813.45" cy="832.81" r="4.5" fill="none" stroke="#4f9cf0" stroke-width="2.4"/>
<circle cx="1813.45" cy="854.47" r="4.5" fill="none" stroke="#4f9cf0" stroke-width="2.4"/>
<line x1="1813.45" y1="808.7" x2="1813.45" y2="842.83" stroke="#4f9cf0" stroke-width="2" stroke-linecap="butt"/>
<line x1="1807.7" y1="808.7" x2="1819.2" y2="808.7" stroke="#4f9cf0" stroke-width="2" stroke-linecap="butt"/>
<line x1="1807.7" y1="842.83" x2="1819.2" y2="842.83" stroke="#4f9cf0" stroke-width="2" stroke-linecap="butt"/>
<circle cx="1838.6" cy="780" r="4.5" fill="none" stroke="#4f9cf0" stroke-width="2.4"/>
<circle cx="1844.6" cy="780" r="4.5" fill="none" stroke="#4f9cf0" stroke-width="2.4"/>
<circle cx="1849.6" cy="784.06" r="4.5" fill="none" stroke="#4f9cf0" stroke-width="2.4"/>
<circle cx="1843.6" cy="786.77" r="4.5" fill="none" stroke="#4f9cf0" stroke-width="2.4"/>
<circle cx="1843.6" cy="792.19" r="4.5" fill="none" stroke="#4f9cf0" stroke-width="2.4"/>
<circle cx="1843.6" cy="817.91" r="4.5" fill="none" stroke="#4f9cf0" stroke-width="2.4"/>
<line x1="1843.6" y1="782.71" x2="1843.6" y2="804.37" stroke="#4f9cf0" stroke-width="2" stroke-linecap="butt"/>
<line x1="1837.85" y1="782.71" x2="1849.35" y2="782.71" stroke="#4f9cf0" stroke-width="2" stroke-linecap="butt"/>
<line x1="1837.85" y1="804.37" x2="1849.35" y2="804.37" stroke="#4f9cf0" stroke-width="2" stroke-linecap="butt"/>
<circle cx="1879.75" cy="786.77" r="4.5" fill="none" stroke="#4f9cf0" stroke-width="2.4"/>
<circle cx="1875.75" cy="790.83" r="4.5" fill="none" stroke="#4f9cf0" stroke-width="2.4"/>
<circle cx="1867.75" cy="794.89" r="4.5" fill="none" stroke="#4f9cf0" stroke-width="2.4"/>
<circle cx="1879.75" cy="798.96" r="4.5" fill="none" stroke="#4f9cf0" stroke-width="2.4"/>
<circle cx="1873.75" cy="803.02" r="4.5" fill="none" stroke="#4f9cf0" stroke-width="2.4"/>
<circle cx="1873.75" cy="813.85" r="4.5" fill="none" stroke="#4f9cf0" stroke-width="2.4"/>
<line x1="1873.75" y1="790.02" x2="1873.75" y2="805.73" stroke="#4f9cf0" stroke-width="2" stroke-linecap="butt"/>
<line x1="1868" y1="790.02" x2="1879.5" y2="790.02" stroke="#4f9cf0" stroke-width="2" stroke-linecap="butt"/>
<line x1="1868" y1="805.73" x2="1879.5" y2="805.73" stroke="#4f9cf0" stroke-width="2" stroke-linecap="butt"/>
<circle cx="1908.9" cy="847.7" r="4.5" fill="none" stroke="#4f9cf0" stroke-width="2.4"/>
<circle cx="1903.9" cy="853.12" r="4.5" fill="none" stroke="#4f9cf0" stroke-width="2.4"/>
<circle cx="1897.9" cy="858.53" r="4.5" fill="none" stroke="#4f9cf0" stroke-width="2.4"/>
<circle cx="1909.9" cy="858.53" r="4.5" fill="none" stroke="#4f9cf0" stroke-width="2.4"/>
<circle cx="1903.9" cy="869.36" r="4.5" fill="none" stroke="#4f9cf0" stroke-width="2.4"/>
<circle cx="1903.9" cy="892.38" r="4.5" fill="none" stroke="#4f9cf0" stroke-width="2.4"/>
<line x1="1903.9" y1="849.6" x2="1903.9" y2="880.2" stroke="#4f9cf0" stroke-width="2" stroke-linecap="butt"/>
<line x1="1898.15" y1="849.6" x2="1909.65" y2="849.6" stroke="#4f9cf0" stroke-width="2" stroke-linecap="butt"/>
<line x1="1898.15" y1="880.2" x2="1909.65" y2="880.2" stroke="#4f9cf0" stroke-width="2" stroke-linecap="butt"/>
<circle cx="1928.05" cy="855.82" r="4.5" fill="none" stroke="#4f9cf0" stroke-width="2.4"/>
<circle cx="1940.05" cy="858.53" r="4.5" fill="none" stroke="#4f9cf0" stroke-width="2.4"/>
<circle cx="1935.05" cy="857.18" r="4.5" fill="none" stroke="#4f9cf0" stroke-width="2.4"/>
<circle cx="1934.05" cy="872.07" r="4.5" fill="none" stroke="#4f9cf0" stroke-width="2.4"/>
<circle cx="1934.05" cy="901.86" r="4.5" fill="none" stroke="#4f9cf0" stroke-width="2.4"/>
<circle cx="1934.05" cy="949.25" r="4.5" fill="none" stroke="#4f9cf0" stroke-width="2.4"/>
<line x1="1934.05" y1="847.97" x2="1934.05" y2="920" stroke="#4f9cf0" stroke-width="2" stroke-linecap="butt"/>
<line x1="1928.3" y1="847.97" x2="1939.8" y2="847.97" stroke="#4f9cf0" stroke-width="2" stroke-linecap="butt"/>
<line x1="1928.3" y1="920" x2="1939.8" y2="920" stroke="#4f9cf0" stroke-width="2" stroke-linecap="butt"/>
<text x="1368" y="647.8" font-size="24.3" font-weight="normal" text-anchor="start" fill="#000">P=5.1x10<tspan font-size="16.04" dy="-9.72">-10</tspan></text>
<line x1="1417.6" y1="660.6" x2="1448.4" y2="660.6" stroke="#000" stroke-width="3.2" stroke-linecap="round"/>
<text x="1331.4" y="677.5" font-size="24.3" font-weight="normal" text-anchor="middle" fill="#000">P=0.999</text>
<line x1="1270.6" y1="690.6" x2="1391.5" y2="690.6" stroke="#000" stroke-width="3.2" stroke-linecap="round"/>
<text x="1455.4" y="676.5" font-size="24.3" font-weight="normal" text-anchor="start" fill="#000">P&lt;1x10<tspan font-size="16.04" dy="-9.72">-15</tspan></text>
<line x1="1448.4" y1="690.6" x2="1571.6" y2="690.6" stroke="#000" stroke-width="3.2" stroke-linecap="round"/>
<text x="1317" y="724" font-size="24.3" font-weight="normal" text-anchor="middle" fill="#000">P=0.9987</text>
<line x1="1241.9" y1="736.3" x2="1392.3" y2="736.3" stroke="#000" stroke-width="3.2" stroke-linecap="round"/>
<text x="1445" y="720.6" font-size="24.3" font-weight="normal" text-anchor="start" fill="#000">P&lt;1x10<tspan font-size="16.04" dy="-9.72">-15</tspan></text>
<line x1="1449.4" y1="733.9" x2="1548.1" y2="733.9" stroke="#000" stroke-width="3.2" stroke-linecap="round"/>
<text x="1674.3" y="721.4" font-size="24.3" font-weight="normal" text-anchor="middle" fill="#000">P=0.7941</text>
<line x1="1599.4" y1="733.4" x2="1750.9" y2="733.4" stroke="#000" stroke-width="3.2" stroke-linecap="round"/>
<text x="1805" y="620" font-size="24.3" font-weight="normal" text-anchor="start" fill="#000">P&lt;1x10<tspan font-size="16.04" dy="-9.72">-15</tspan></text>
<line x1="1780.9" y1="633.7" x2="1937.1" y2="633.7" stroke="#000" stroke-width="3.2" stroke-linecap="round"/>
<text x="1779.4" y="663.4" font-size="24.3" font-weight="normal" text-anchor="start" fill="#000">P=2.3x10<tspan font-size="16.04" dy="-9.72">-12</tspan></text>
<line x1="1782.9" y1="677.1" x2="1905.1" y2="677.1" stroke="#000" stroke-width="3.2" stroke-linecap="round"/>
<text x="1813.7" y="702.9" font-size="24.3" font-weight="normal" text-anchor="start" fill="#000">P=3.8x10<tspan font-size="16.04" dy="-9.72">-7</tspan></text>
<line x1="1810.6" y1="716.3" x2="1936.6" y2="716.3" stroke="#000" stroke-width="3.2" stroke-linecap="round"/>
<text x="1778.6" y="744.3" font-size="24.3" font-weight="normal" text-anchor="start" fill="#000">P=0.0005</text>
<line x1="1785.7" y1="756.6" x2="1816.3" y2="756.6" stroke="#000" stroke-width="3.2" stroke-linecap="round"/>
<text x="1240.6" y="1087.2" font-size="23" font-weight="bold" text-anchor="middle" fill="#000">+</text>
<text x="1272.25" y="1087.2" font-size="23" font-weight="bold" text-anchor="middle" fill="#000">-</text>
<text x="1302.4" y="1087.2" font-size="23" font-weight="bold" text-anchor="middle" fill="#000">-</text>
<text x="1333.05" y="1087.2" font-size="23" font-weight="bold" text-anchor="middle" fill="#000">-</text>
<text x="1363.2" y="1087.2" font-size="23" font-weight="bold" text-anchor="middle" fill="#000">-</text>
<text x="1393.85" y="1087.2" font-size="23" font-weight="bold" text-anchor="middle" fill="#000">-</text>
<text x="1423.5" y="1087.2" font-size="23" font-weight="bold" text-anchor="middle" fill="#000">+</text>
<text x="1454.15" y="1087.2" font-size="23" font-weight="bold" text-anchor="middle" fill="#000">-</text>
<text x="1483.8" y="1087.2" font-size="23" font-weight="bold" text-anchor="middle" fill="#000">-</text>
<text x="1513.95" y="1087.2" font-size="23" font-weight="bold" text-anchor="middle" fill="#000">-</text>
<text x="1542.6" y="1087.2" font-size="23" font-weight="bold" text-anchor="middle" fill="#000">-</text>
<text x="1572.25" y="1087.2" font-size="23" font-weight="bold" text-anchor="middle" fill="#000">-</text>
<text x="1603" y="1087.2" font-size="23" font-weight="bold" text-anchor="middle" fill="#000">+</text>
<text x="1633.15" y="1087.2" font-size="23" font-weight="bold" text-anchor="middle" fill="#000">-</text>
<text x="1663.3" y="1087.2" font-size="23" font-weight="bold" text-anchor="middle" fill="#000">-</text>
<text x="1693.45" y="1087.2" font-size="23" font-weight="bold" text-anchor="middle" fill="#000">-</text>
<text x="1723.6" y="1087.2" font-size="23" font-weight="bold" text-anchor="middle" fill="#000">-</text>
<text x="1753.75" y="1087.2" font-size="23" font-weight="bold" text-anchor="middle" fill="#000">-</text>
<text x="1783.9" y="1087.2" font-size="23" font-weight="bold" text-anchor="middle" fill="#000">+</text>
<text x="1814.05" y="1087.2" font-size="23" font-weight="bold" text-anchor="middle" fill="#000">-</text>
<text x="1844.2" y="1087.2" font-size="23" font-weight="bold" text-anchor="middle" fill="#000">-</text>
<text x="1874.35" y="1087.2" font-size="23" font-weight="bold" text-anchor="middle" fill="#000">-</text>
<text x="1904.5" y="1087.2" font-size="23" font-weight="bold" text-anchor="middle" fill="#000">-</text>
<text x="1934.65" y="1087.2" font-size="23" font-weight="bold" text-anchor="middle" fill="#000">-</text>
<text x="1240.6" y="1120.8" font-size="23" font-weight="bold" text-anchor="middle" fill="#000">-</text>
<text x="1272.25" y="1120.8" font-size="23" font-weight="bold" text-anchor="middle" fill="#000">+</text>
<text x="1302.4" y="1120.8" font-size="23" font-weight="bold" text-anchor="middle" fill="#000">-</text>
<text x="1333.05" y="1120.8" font-size="23" font-weight="bold" text-anchor="middle" fill="#000">-</text>
<text x="1363.2" y="1120.8" font-size="23" font-weight="bold" text-anchor="middle" fill="#000">+</text>
<text x="1393.85" y="1120.8" font-size="23" font-weight="bold" text-anchor="middle" fill="#000">+</text>
<text x="1423.5" y="1120.8" font-size="23" font-weight="bold" text-anchor="middle" fill="#000">-</text>
<text x="1454.15" y="1120.8" font-size="23" font-weight="bold" text-anchor="middle" fill="#000">+</text>
<text x="1483.8" y="1120.8" font-size="23" font-weight="bold" text-anchor="middle" fill="#000">-</text>
<text x="1513.95" y="1120.8" font-size="23" font-weight="bold" text-anchor="middle" fill="#000">-</text>
<text x="1542.6" y="1120.8" font-size="23" font-weight="bold" text-anchor="middle" fill="#000">+</text>
<text x="1572.25" y="1120.8" font-size="23" font-weight="bold" text-anchor="middle" fill="#000">+</text>
<text x="1603" y="1120.8" font-size="23" font-weight="bold" text-anchor="middle" fill="#000">-</text>
<text x="1633.15" y="1120.8" font-size="23" font-weight="bold" text-anchor="middle" fill="#000">+</text>
<text x="1663.3" y="1120.8" font-size="23" font-weight="bold" text-anchor="middle" fill="#000">-</text>
<text x="1693.45" y="1120.8" font-size="23" font-weight="bold" text-anchor="middle" fill="#000">-</text>
<text x="1723.6" y="1120.8" font-size="23" font-weight="bold" text-anchor="middle" fill="#000">+</text>
<text x="1753.75" y="1120.8" font-size="23" font-weight="bold" text-anchor="middle" fill="#000">+</text>
<text x="1783.9" y="1120.8" font-size="23" font-weight="bold" text-anchor="middle" fill="#000">-</text>
<text x="1814.05" y="1120.8" font-size="23" font-weight="bold" text-anchor="middle" fill="#000">+</text>
<text x="1844.2" y="1120.8" font-size="23" font-weight="bold" text-anchor="middle" fill="#000">-</text>
<text x="1874.35" y="1120.8" font-size="23" font-weight="bold" text-anchor="middle" fill="#000">-</text>
<text x="1904.5" y="1120.8" font-size="23" font-weight="bold" text-anchor="middle" fill="#000">+</text>
<text x="1934.65" y="1120.8" font-size="23" font-weight="bold" text-anchor="middle" fill="#000">+</text>
<text x="1240.6" y="1155.2" font-size="23" font-weight="bold" text-anchor="middle" fill="#000">-</text>
<text x="1272.25" y="1155.2" font-size="23" font-weight="bold" text-anchor="middle" fill="#000">-</text>
<text x="1302.4" y="1155.2" font-size="23" font-weight="bold" text-anchor="middle" fill="#000">+</text>
<text x="1333.05" y="1155.2" font-size="23" font-weight="bold" text-anchor="middle" fill="#000">-</text>
<text x="1363.2" y="1155.2" font-size="23" font-weight="bold" text-anchor="middle" fill="#000">+</text>
<text x="1393.85" y="1155.2" font-size="23" font-weight="bold" text-anchor="middle" fill="#000">-</text>
<text x="1423.5" y="1155.2" font-size="23" font-weight="bold" text-anchor="middle" fill="#000">-</text>
<text x="1454.15" y="1155.2" font-size="23" font-weight="bold" text-anchor="middle" fill="#000">-</text>
<text x="1483.8" y="1155.2" font-size="23" font-weight="bold" text-anchor="middle" fill="#000">+</text>
<text x="1513.95" y="1155.2" font-size="23" font-weight="bold" text-anchor="middle" fill="#000">-</text>
<text x="1542.6" y="1155.2" font-size="23" font-weight="bold" text-anchor="middle" fill="#000">+</text>
<text x="1572.25" y="1155.2" font-size="23" font-weight="bold" text-anchor="middle" fill="#000">-</text>
<text x="1603" y="1155.2" font-size="23" font-weight="bold" text-anchor="middle" fill="#000">-</text>
<text x="1633.15" y="1155.2" font-size="23" font-weight="bold" text-anchor="middle" fill="#000">-</text>
<text x="1663.3" y="1155.2" font-size="23" font-weight="bold" text-anchor="middle" fill="#000">+</text>
<text x="1693.45" y="1155.2" font-size="23" font-weight="bold" text-anchor="middle" fill="#000">-</text>
<text x="1723.6" y="1155.2" font-size="23" font-weight="bold" text-anchor="middle" fill="#000">+</text>
<text x="1753.75" y="1155.2" font-size="23" font-weight="bold" text-anchor="middle" fill="#000">-</text>
<text x="1783.9" y="1155.2" font-size="23" font-weight="bold" text-anchor="middle" fill="#000">-</text>
<text x="1814.05" y="1155.2" font-size="23" font-weight="bold" text-anchor="middle" fill="#000">-</text>
<text x="1844.2" y="1155.2" font-size="23" font-weight="bold" text-anchor="middle" fill="#000">+</text>
<text x="1874.35" y="1155.2" font-size="23" font-weight="bold" text-anchor="middle" fill="#000">-</text>
<text x="1904.5" y="1155.2" font-size="23" font-weight="bold" text-anchor="middle" fill="#000">+</text>
<text x="1934.65" y="1155.2" font-size="23" font-weight="bold" text-anchor="middle" fill="#000">-</text>
<text x="1240.6" y="1188" font-size="23" font-weight="bold" text-anchor="middle" fill="#000">-</text>
<text x="1272.25" y="1188" font-size="23" font-weight="bold" text-anchor="middle" fill="#000">-</text>
<text x="1302.4" y="1188" font-size="23" font-weight="bold" text-anchor="middle" fill="#000">-</text>
<text x="1333.05" y="1188" font-size="23" font-weight="bold" text-anchor="middle" fill="#000">+</text>
<text x="1363.2" y="1188" font-size="23" font-weight="bold" text-anchor="middle" fill="#000">-</text>
<text x="1393.85" y="1188" font-size="23" font-weight="bold" text-anchor="middle" fill="#000">+</text>
<text x="1423.5" y="1188" font-size="23" font-weight="bold" text-anchor="middle" fill="#000">-</text>
<text x="1454.15" y="1188" font-size="23" font-weight="bold" text-anchor="middle" fill="#000">-</text>
<text x="1483.8" y="1188" font-size="23" font-weight="bold" text-anchor="middle" fill="#000">-</text>
<text x="1513.95" y="1188" font-size="23" font-weight="bold" text-anchor="middle" fill="#000">+</text>
<text x="1542.6" y="1188" font-size="23" font-weight="bold" text-anchor="middle" fill="#000">-</text>
<text x="1572.25" y="1188" font-size="23" font-weight="bold" text-anchor="middle" fill="#000">+</text>
<text x="1603" y="1188" font-size="23" font-weight="bold" text-anchor="middle" fill="#000">-</text>
<text x="1633.15" y="1188" font-size="23" font-weight="bold" text-anchor="middle" fill="#000">-</text>
<text x="1663.3" y="1188" font-size="23" font-weight="bold" text-anchor="middle" fill="#000">-</text>
<text x="1693.45" y="1188" font-size="23" font-weight="bold" text-anchor="middle" fill="#000">+</text>
<text x="1723.6" y="1188" font-size="23" font-weight="bold" text-anchor="middle" fill="#000">-</text>
<text x="1753.75" y="1188" font-size="23" font-weight="bold" text-anchor="middle" fill="#000">+</text>
<text x="1783.9" y="1188" font-size="23" font-weight="bold" text-anchor="middle" fill="#000">-</text>
<text x="1814.05" y="1188" font-size="23" font-weight="bold" text-anchor="middle" fill="#000">-</text>
<text x="1844.2" y="1188" font-size="23" font-weight="bold" text-anchor="middle" fill="#000">-</text>
<text x="1874.35" y="1188" font-size="23" font-weight="bold" text-anchor="middle" fill="#000">+</text>
<text x="1904.5" y="1188" font-size="23" font-weight="bold" text-anchor="middle" fill="#000">-</text>
<text x="1934.65" y="1188" font-size="23" font-weight="bold" text-anchor="middle" fill="#000">+</text>
<text x="1960.6" y="1086" font-size="21.4" font-weight="bold" text-anchor="start" fill="#000">DMSO</text>
<text x="1963" y="1121" font-size="21.4" font-weight="bold" text-anchor="start" fill="#000">RSL3 0.25 <tspan font-family='"Liberation Serif", serif' font-weight="normal">μ</tspan><tspan font-weight="normal">M</tspan></text>
<text x="1963" y="1155" font-size="21.4" font-weight="bold" text-anchor="start" fill="#000">viFSP1 15 <tspan font-family='"Liberation Serif", serif' font-weight="normal">μ</tspan><tspan font-weight="normal">M</tspan></text>
<text x="1963" y="1188.5" font-size="21.4" font-weight="bold" text-anchor="start" fill="#000">viFSP1 30 <tspan font-family='"Liberation Serif", serif' font-weight="normal">μ</tspan><tspan font-weight="normal">M</tspan></text>
<line x1="1231.9" y1="1203.8" x2="1412.3" y2="1203.8" stroke="#000" stroke-width="3.4" stroke-linecap="round"/>
<line x1="1421.4" y1="1203.8" x2="1589.7" y2="1203.8" stroke="#000" stroke-width="3.4" stroke-linecap="round"/>
<line x1="1603.8" y1="1203.8" x2="1771.1" y2="1203.8" stroke="#000" stroke-width="3.4" stroke-linecap="round"/>
<line x1="1781.7" y1="1203.8" x2="1949" y2="1203.8" stroke="#000" stroke-width="3.4" stroke-linecap="round"/>
<text x="1325.1" y="1229" font-size="21.3" font-weight="bold" text-anchor="middle" fill="#000">B16-F0</text>
<text x="1507" y="1229" font-size="21.3" font-weight="bold" text-anchor="middle" fill="#000">LN7 1134BL</text>
<text x="1693.5" y="1229" font-size="21.3" font-weight="bold" text-anchor="middle" fill="#000">B16-F0</text>
<text x="1860.8" y="1229" font-size="21.3" font-weight="bold" text-anchor="middle" fill="#000">LN7 1134BL</text>
<line x1="1231.9" y1="1243.1" x2="1589.7" y2="1243.1" stroke="#000" stroke-width="3.4" stroke-linecap="round"/>
<line x1="1603.8" y1="1243.1" x2="1949" y2="1243.1" stroke="#000" stroke-width="3.4" stroke-linecap="round"/>
<text x="1402.2" y="1267.8" font-size="21.6" font-weight="bold" text-anchor="middle" fill="#000">21 % O<tspan font-size="15.12" dy="6.7">2</tspan><tspan dy="-6.7"></tspan></text>
<text x="1777.7" y="1267.8" font-size="21.6" font-weight="bold" text-anchor="middle" fill="#000">1 % O<tspan font-size="15.12" dy="6.7">2</tspan><tspan dy="-6.7"></tspan></text>
</g>
<g id="panel_h">
<text x="10" y="1330" font-size="27" font-weight="bold" text-anchor="start" fill="#000">h</text>
<line x1="91.9" y1="1422.5" x2="91.9" y2="1765.7" stroke="#000" stroke-width="2.2" stroke-linecap="butt"/>
<line x1="81.6" y1="1764.6" x2="93" y2="1764.6" stroke="#000" stroke-width="2.2" stroke-linecap="butt"/>
<text x="78.4" y="1772.19" font-size="21.2" font-weight="bold" text-anchor="end" fill="#000">0</text>
<line x1="81.6" y1="1696.4" x2="93" y2="1696.4" stroke="#000" stroke-width="2.2" stroke-linecap="butt"/>
<text x="78.4" y="1703.99" font-size="21.2" font-weight="bold" text-anchor="end" fill="#000">25</text>
<line x1="81.6" y1="1628.2" x2="93" y2="1628.2" stroke="#000" stroke-width="2.2" stroke-linecap="butt"/>
<text x="78.4" y="1635.79" font-size="21.2" font-weight="bold" text-anchor="end" fill="#000">50</text>
<line x1="81.6" y1="1560" x2="93" y2="1560" stroke="#000" stroke-width="2.2" stroke-linecap="butt"/>
<text x="78.4" y="1567.59" font-size="21.2" font-weight="bold" text-anchor="end" fill="#000">75</text>
<line x1="81.6" y1="1491.8" x2="93" y2="1491.8" stroke="#000" stroke-width="2.2" stroke-linecap="butt"/>
<text x="78.4" y="1499.39" font-size="21.2" font-weight="bold" text-anchor="end" fill="#000">100</text>
<line x1="81.6" y1="1423.6" x2="93" y2="1423.6" stroke="#000" stroke-width="2.2" stroke-linecap="butt"/>
<text x="78.4" y="1431.19" font-size="21.2" font-weight="bold" text-anchor="end" fill="#000">125</text>
<text x="29.3" y="1589.8" font-size="28" font-weight="bold" text-anchor="middle" fill="#000" transform="rotate(-90 29.3 1589.8)">Relative viability (%)</text>
<line x1="90.8" y1="1764.6" x2="433.7" y2="1764.6" stroke="#000" stroke-width="2.2" stroke-linecap="butt"/>
<line x1="91.9" y1="1764.6" x2="91.9" y2="1774.9" stroke="#000" stroke-width="2.2" stroke-linecap="butt"/>
<text x="91.9" y="1797.7" font-size="21.2" font-weight="bold" text-anchor="middle" fill="#000">0</text>
<line x1="177.07" y1="1764.6" x2="177.07" y2="1774.9" stroke="#000" stroke-width="2.2" stroke-linecap="butt"/>
<text x="177.07" y="1797.7" font-size="21.2" font-weight="bold" text-anchor="middle" fill="#000">5</text>
<line x1="262.25" y1="1764.6" x2="262.25" y2="1774.9" stroke="#000" stroke-width="2.2" stroke-linecap="butt"/>
<text x="262.25" y="1797.7" font-size="21.2" font-weight="bold" text-anchor="middle" fill="#000">10</text>
<line x1="347.43" y1="1764.6" x2="347.43" y2="1774.9" stroke="#000" stroke-width="2.2" stroke-linecap="butt"/>
<text x="347.43" y="1797.7" font-size="21.2" font-weight="bold" text-anchor="middle" fill="#000">15</text>
<line x1="432.6" y1="1764.6" x2="432.6" y2="1774.9" stroke="#000" stroke-width="2.2" stroke-linecap="butt"/>
<text x="432.6" y="1797.7" font-size="21.2" font-weight="bold" text-anchor="middle" fill="#000">20</text>
<text x="453.8" y="1783.5" font-size="20.5" font-weight="bold" text-anchor="start" fill="#000">viFSP1</text>
<text x="466.6" y="1807.6" font-size="20.5" font-weight="bold" text-anchor="start" fill="#000">(<tspan font-family='"Liberation Serif", serif' font-weight="normal">μ</tspan>M)</text>
<path d="M91.9 1491.8 L92.75 1496.65 L93.61 1500.78 L94.46 1504.3 L95.32 1507.3 L96.17 1509.86 L97.02 1512.03 L97.88 1513.88 L98.73 1515.46 L99.58 1516.81 L100.44 1517.95 L101.29 1518.93 L102.15 1519.76 L103 1520.47 L103.85 1521.07 L104.71 1521.58 L105.56 1522.02 L106.42 1522.39 L107.27 1522.71 L108.12 1522.98 L108.98 1523.21 L109.83 1523.41 L110.69 1523.58 L111.54 1523.72 L112.39 1523.84 L113.25 1523.94 L114.1 1524.03 L114.95 1524.11 L115.81 1524.17 L116.66 1524.22 L117.52 1524.27 L118.37 1524.31 L119.22 1524.34 L120.08 1524.37 L120.93 1524.4 L121.79 1524.42 L122.64 1524.43 L123.49 1524.45 L124.35 1524.46 L125.2 1524.47 L126.06 1524.48 L126.91 1524.49 L127.76 1524.5 L128.62 1524.5 L129.47 1524.51 L130.32 1524.51 L131.18 1524.52 L132.03 1524.52 L132.89 1524.52 L133.74 1524.52 L134.59 1524.53 L135.45 1524.53 L136.3 1524.53 L137.16 1524.53 L138.01 1524.53 L138.86 1524.53 L139.72 1524.53 L140.57 1524.53 L141.43 1524.53 L142.28 1524.53 L143.13 1524.53 L143.99 1524.53 L144.84 1524.53 L145.69 1524.53 L146.55 1524.53 L147.4 1524.54 L148.26 1524.54 L149.11 1524.54 L149.96 1524.54 L150.82 1524.54 L151.67 1524.54 L152.53 1524.54 L153.38 1524.54 L154.23 1524.54 L155.09 1524.54 L155.94 1524.54 L156.8 1524.54 L157.65 1524.54 L158.5 1524.54 L159.36 1524.54 L160.21 1524.54 L161.06 1524.54 L161.92 1524.54 L162.77 1524.54 L163.63 1524.54 L164.48 1524.54 L165.33 1524.54 L166.19 1524.54 L167.04 1524.54 L167.9 1524.54 L168.75 1524.54 L169.6 1524.54 L170.46 1524.54 L171.31 1524.54 L172.17 1524.54 L173.02 1524.54 L173.87 1524.54 L174.73 1524.54 L175.58 1524.54 L176.43 1524.54 L177.29 1524.54 L178.14 1524.54 L179 1524.54 L179.85 1524.54 L180.7 1524.54 L181.56 1524.54 L182.41 1524.54 L183.27 1524.54 L184.12 1524.54 L184.97 1524.54 L185.83 1524.54 L186.68 1524.54 L187.54 1524.54 L188.39 1524.54 L189.24 1524.54 L190.1 1524.54 L190.95 1524.54 L191.8 1524.54 L192.66 1524.54 L193.51 1524.54 L194.37 1524.54 L195.22 1524.54 L196.07 1524.54 L196.93 1524.54 L197.78 1524.54 L198.64 1524.54 L199.49 1524.54 L200.34 1524.54 L201.2 1524.54 L202.05 1524.54 L202.91 1524.54 L203.76 1524.54 L204.61 1524.54 L205.47 1524.54 L206.32 1524.54 L207.17 1524.54 L208.03 1524.54 L208.88 1524.54 L209.74 1524.54 L210.59 1524.54 L211.44 1524.54 L212.3 1524.54 L213.15 1524.54 L214.01 1524.54 L214.86 1524.54 L215.71 1524.54 L216.57 1524.54 L217.42 1524.54 L218.27 1524.54 L219.13 1524.54 L219.98 1524.54 L220.84 1524.54 L221.69 1524.54 L222.54 1524.54 L223.4 1524.54 L224.25 1524.54 L225.11 1524.54 L225.96 1524.54 L226.81 1524.54 L227.67 1524.54 L228.52 1524.54 L229.38 1524.54 L230.23 1524.54 L231.08 1524.54 L231.94 1524.54 L232.79 1524.54 L233.64 1524.54 L234.5 1524.54 L235.35 1524.54 L236.21 1524.54 L237.06 1524.54 L237.91 1524.54 L238.77 1524.54 L239.62 1524.54 L240.48 1524.54 L241.33 1524.54 L242.18 1524.54 L243.04 1524.54 L243.89 1524.54 L244.75 1524.54 L245.6 1524.54 L246.45 1524.54 L247.31 1524.54 L248.16 1524.54 L249.01 1524.54 L249.87 1524.54 L250.72 1524.54 L251.58 1524.54 L252.43 1524.54 L253.28 1524.54 L254.14 1524.54 L254.99 1524.54 L255.85 1524.54 L256.7 1524.54 L257.55 1524.54 L258.41 1524.54 L259.26 1524.54 L260.12 1524.54 L260.97 1524.54 L261.82 1524.54 L262.68 1524.54 L263.53 1524.54 L264.38 1524.54 L265.24 1524.54 L266.09 1524.54 L266.95 1524.54 L267.8 1524.54 L268.65 1524.54 L269.51 1524.54 L270.36 1524.54 L271.22 1524.54 L272.07 1524.54 L272.92 1524.54 L273.78 1524.54 L274.63 1524.54 L275.49 1524.54 L276.34 1524.54 L277.19 1524.54 L278.05 1524.54 L278.9 1524.54 L279.75 1524.54 L280.61 1524.54 L281.46 1524.54 L282.32 1524.54 L283.17 1524.54 L284.02 1524.54 L284.88 1524.54 L285.73 1524.54 L286.59 1524.54 L287.44 1524.54 L288.29 1524.54 L289.15 1524.54 L290 1524.54 L290.86 1524.54 L291.71 1524.54 L292.56 1524.54 L293.42 1524.54 L294.27 1524.54 L295.12 1524.54 L295.98 1524.54 L296.83 1524.54 L297.69 1524.54 L298.54 1524.54 L299.39 1524.54 L300.25 1524.54 L301.1 1524.54 L301.96 1524.54 L302.81 1524.54 L303.66 1524.54 L304.52 1524.54 L305.37 1524.54 L306.23 1524.54 L307.08 1524.54 L307.93 1524.54 L308.79 1524.54 L309.64 1524.54 L310.49 1524.54 L311.35 1524.54 L312.2 1524.54 L313.06 1524.54 L313.91 1524.54 L314.76 1524.54 L315.62 1524.54 L316.47 1524.54 L317.33 1524.54 L318.18 1524.54 L319.03 1524.54 L319.89 1524.54 L320.74 1524.54 L321.59 1524.54 L322.45 1524.54 L323.3 1524.54 L324.16 1524.54 L325.01 1524.54 L325.86 1524.54 L326.72 1524.54 L327.57 1524.54 L328.43 1524.54 L329.28 1524.54 L330.13 1524.54 L330.99 1524.54 L331.84 1524.54 L332.7 1524.54 L333.55 1524.54 L334.4 1524.54 L335.26 1524.54 L336.11 1524.54 L336.96 1524.54 L337.82 1524.54 L338.67 1524.54 L339.53 1524.54 L340.38 1524.54 L341.23 1524.54 L342.09 1524.54 L342.94 1524.54 L343.8 1524.54 L344.65 1524.54 L345.5 1524.54 L346.36 1524.54 L347.21 1524.54 L348.07 1524.54 L348.92 1524.54 L349.77 1524.54 L350.63 1524.54 L351.48 1524.54 L352.33 1524.54 L353.19 1524.54 L354.04 1524.54 L354.9 1524.54 L355.75 1524.54 L356.6 1524.54 L357.46 1524.54 L358.31 1524.54 L359.17 1524.54 L360.02 1524.54 L360.87 1524.54 L361.73 1524.54 L362.58 1524.54 L363.44 1524.54 L364.29 1524.54 L365.14 1524.54 L366 1524.54 L366.85 1524.54 L367.7 1524.54 L368.56 1524.54 L369.41 1524.54 L370.27 1524.54 L371.12 1524.54 L371.97 1524.54 L372.83 1524.54 L373.68 1524.54 L374.54 1524.54 L375.39 1524.54 L376.24 1524.54 L377.1 1524.54 L377.95 1524.54 L378.81 1524.54 L379.66 1524.54 L380.51 1524.54 L381.37 1524.54 L382.22 1524.54 L383.07 1524.54 L383.93 1524.54 L384.78 1524.54 L385.64 1524.54 L386.49 1524.54 L387.34 1524.54 L388.2 1524.54 L389.05 1524.54 L389.91 1524.54 L390.76 1524.54 L391.61 1524.54 L392.47 1524.54 L393.32 1524.54 L394.18 1524.54 L395.03 1524.54 L395.88 1524.54 L396.74 1524.54 L397.59 1524.54 L398.44 1524.54 L399.3 1524.54 L400.15 1524.54 L401.01 1524.54 L401.86 1524.54 L402.71 1524.54 L403.57 1524.54 L404.42 1524.54 L405.28 1524.54 L406.13 1524.54 L406.98 1524.54 L407.84 1524.54 L408.69 1524.54 L409.55 1524.54 L410.4 1524.54 L411.25 1524.54 L412.11 1524.54 L412.96 1524.54 L413.81 1524.54 L414.67 1524.54 L415.52 1524.54 L416.38 1524.54 L417.23 1524.54 L418.08 1524.54 L418.94 1524.54 L419.79 1524.54 L420.65 1524.54 L421.5 1524.54 L422.35 1524.54 L423.21 1524.54 L424.06 1524.54 L424.92 1524.54 L425.77 1524.54 L426.62 1524.54 L427.48 1524.54 L428.33 1524.54 L429.18 1524.54 L430.04 1524.54 L430.89 1524.54 L431.75 1524.54 L432.6 1524.54" fill="none" stroke="#3f9e2f" stroke-width="3.2" stroke-linejoin="round" stroke-linecap="butt"/>
<path d="M91.9 1491.8 L92.75 1498.83 L93.61 1503.31 L94.46 1506.16 L95.32 1507.98 L96.17 1509.14 L97.02 1509.88 L97.88 1510.35 L98.73 1510.64 L99.58 1510.83 L100.44 1510.96 L101.29 1511.03 L102.15 1511.08 L103 1511.11 L103.85 1511.13 L104.71 1511.15 L105.56 1511.15 L106.42 1511.16 L107.27 1511.16 L108.12 1511.17 L108.98 1511.17 L109.83 1511.17 L110.69 1511.17 L111.54 1511.17 L112.39 1511.17 L113.25 1511.17 L114.1 1511.17 L114.95 1511.17 L115.81 1511.17 L116.66 1511.17 L117.52 1511.17 L118.37 1511.17 L119.22 1511.17 L120.08 1511.17 L120.93 1511.17 L121.79 1511.17 L122.64 1511.17 L123.49 1511.17 L124.35 1511.17 L125.2 1511.17 L126.06 1511.17 L126.91 1511.17 L127.76 1511.17 L128.62 1511.17 L129.47 1511.17 L130.32 1511.17 L131.18 1511.17 L132.03 1511.17 L132.89 1511.17 L133.74 1511.17 L134.59 1511.17 L135.45 1511.17 L136.3 1511.17 L137.16 1511.17 L138.01 1511.17 L138.86 1511.17 L139.72 1511.17 L140.57 1511.17 L141.43 1511.17 L142.28 1511.17 L143.13 1511.17 L143.99 1511.17 L144.84 1511.17 L145.69 1511.17 L146.55 1511.17 L147.4 1511.17 L148.26 1511.17 L149.11 1511.17 L149.96 1511.17 L150.82 1511.17 L151.67 1511.17 L152.53 1511.17 L153.38 1511.17 L154.23 1511.17 L155.09 1511.17 L155.94 1511.17 L156.8 1511.17 L157.65 1511.17 L158.5 1511.17 L159.36 1511.17 L160.21 1511.17 L161.06 1511.17 L161.92 1511.17 L162.77 1511.17 L163.63 1511.17 L164.48 1511.17 L165.33 1511.17 L166.19 1511.17 L167.04 1511.17 L167.9 1511.17 L168.75 1511.17 L169.6 1511.17 L170.46 1511.17 L171.31 1511.17 L172.17 1511.17 L173.02 1511.17 L173.87 1511.17 L174.73 1511.17 L175.58 1511.17 L176.43 1511.17 L177.29 1511.17 L178.14 1511.17 L179 1511.17 L179.85 1511.17 L180.7 1511.17 L181.56 1511.17 L182.41 1511.17 L183.27 1511.17 L184.12 1511.17 L184.97 1511.17 L185.83 1511.17 L186.68 1511.17 L187.54 1511.17 L188.39 1511.17 L189.24 1511.17 L190.1 1511.17 L190.95 1511.17 L191.8 1511.17 L192.66 1511.17 L193.51 1511.17 L194.37 1511.17 L195.22 1511.17 L196.07 1511.17 L196.93 1511.17 L197.78 1511.17 L198.64 1511.17 L199.49 1511.17 L200.34 1511.17 L201.2 1511.17 L202.05 1511.17 L202.91 1511.17 L203.76 1511.17 L204.61 1511.17 L205.47 1511.17 L206.32 1511.17 L207.17 1511.17 L208.03 1511.17 L208.88 1511.17 L209.74 1511.17 L210.59 1511.17 L211.44 1511.17 L212.3 1511.17 L213.15 1511.17 L214.01 1511.17 L214.86 1511.17 L215.71 1511.17 L216.57 1511.17 L217.42 1511.17 L218.27 1511.17 L219.13 1511.17 L219.98 1511.17 L220.84 1511.17 L221.69 1511.17 L222.54 1511.17 L223.4 1511.17 L224.25 1511.17 L225.11 1511.17 L225.96 1511.17 L226.81 1511.17 L227.67 1511.17 L228.52 1511.17 L229.38 1511.17 L230.23 1511.17 L231.08 1511.17 L231.94 1511.17 L232.79 1511.17 L233.64 1511.17 L234.5 1511.17 L235.35 1511.17 L236.21 1511.17 L237.06 1511.17 L237.91 1511.17 L238.77 1511.17 L239.62 1511.17 L240.48 1511.17 L241.33 1511.17 L242.18 1511.17 L243.04 1511.17 L243.89 1511.17 L244.75 1511.17 L245.6 1511.17 L246.45 1511.17 L247.31 1511.17 L248.16 1511.17 L249.01 1511.17 L249.87 1511.17 L250.72 1511.17 L251.58 1511.17 L252.43 1511.17 L253.28 1511.17 L254.14 1511.17 L254.99 1511.17 L255.85 1511.17 L256.7 1511.17 L257.55 1511.17 L258.41 1511.17 L259.26 1511.17 L260.12 1511.17 L260.97 1511.17 L261.82 1511.17 L262.68 1511.17 L263.53 1511.17 L264.38 1511.17 L265.24 1511.17 L266.09 1511.17 L266.95 1511.17 L267.8 1511.17 L268.65 1511.17 L269.51 1511.17 L270.36 1511.17 L271.22 1511.17 L272.07 1511.17 L272.92 1511.17 L273.78 1511.17 L274.63 1511.17 L275.49 1511.17 L276.34 1511.17 L277.19 1511.17 L278.05 1511.17 L278.9 1511.17 L279.75 1511.17 L280.61 1511.17 L281.46 1511.17 L282.32 1511.17 L283.17 1511.17 L284.02 1511.17 L284.88 1511.17 L285.73 1511.17 L286.59 1511.17 L287.44 1511.17 L288.29 1511.17 L289.15 1511.17 L290 1511.17 L290.86 1511.17 L291.71 1511.17 L292.56 1511.17 L293.42 1511.17 L294.27 1511.17 L295.12 1511.17 L295.98 1511.17 L296.83 1511.17 L297.69 1511.17 L298.54 1511.17 L299.39 1511.17 L300.25 1511.17 L301.1 1511.17 L301.96 1511.17 L302.81 1511.17 L303.66 1511.17 L304.52 1511.17 L305.37 1511.17 L306.23 1511.17 L307.08 1511.17 L307.93 1511.17 L308.79 1511.17 L309.64 1511.17 L310.49 1511.17 L311.35 1511.17 L312.2 1511.17 L313.06 1511.17 L313.91 1511.17 L314.76 1511.17 L315.62 1511.17 L316.47 1511.17 L317.33 1511.17 L318.18 1511.17 L319.03 1511.17 L319.89 1511.17 L320.74 1511.17 L321.59 1511.17 L322.45 1511.17 L323.3 1511.17 L324.16 1511.17 L325.01 1511.17 L325.86 1511.17 L326.72 1511.17 L327.57 1511.17 L328.43 1511.17 L329.28 1511.17 L330.13 1511.17 L330.99 1511.17 L331.84 1511.17 L332.7 1511.17 L333.55 1511.17 L334.4 1511.17 L335.26 1511.17 L336.11 1511.17 L336.96 1511.17 L337.82 1511.17 L338.67 1511.17 L339.53 1511.17 L340.38 1511.17 L341.23 1511.17 L342.09 1511.17 L342.94 1511.17 L343.8 1511.17 L344.65 1511.17 L345.5 1511.17 L346.36 1511.17 L347.21 1511.17 L348.07 1511.17 L348.92 1511.17 L349.77 1511.17 L350.63 1511.17 L351.48 1511.17 L352.33 1511.17 L353.19 1511.17 L354.04 1511.17 L354.9 1511.17 L355.75 1511.17 L356.6 1511.17 L357.46 1511.17 L358.31 1511.17 L359.17 1511.17 L360.02 1511.17 L360.87 1511.17 L361.73 1511.17 L362.58 1511.17 L363.44 1511.17 L364.29 1511.17 L365.14 1511.17 L366 1511.17 L366.85 1511.17 L367.7 1511.17 L368.56 1511.17 L369.41 1511.17 L370.27 1511.17 L371.12 1511.17 L371.97 1511.17 L372.83 1511.17 L373.68 1511.17 L374.54 1511.17 L375.39 1511.17 L376.24 1511.17 L377.1 1511.17 L377.95 1511.17 L378.81 1511.17 L379.66 1511.17 L380.51 1511.17 L381.37 1511.17 L382.22 1511.17 L383.07 1511.17 L383.93 1511.17 L384.78 1511.17 L385.64 1511.17 L386.49 1511.17 L387.34 1511.17 L388.2 1511.17 L389.05 1511.17 L389.91 1511.17 L390.76 1511.17 L391.61 1511.17 L392.47 1511.17 L393.32 1511.17 L394.18 1511.17 L395.03 1511.17 L395.88 1511.17 L396.74 1511.17 L397.59 1511.17 L398.44 1511.17 L399.3 1511.17 L400.15 1511.17 L401.01 1511.17 L401.86 1511.17 L402.71 1511.17 L403.57 1511.17 L404.42 1511.17 L405.28 1511.17 L406.13 1511.17 L406.98 1511.17 L407.84 1511.17 L408.69 1511.17 L409.55 1511.17 L410.4 1511.17 L411.25 1511.17 L412.11 1511.17 L412.96 1511.17 L413.81 1511.17 L414.67 1511.17 L415.52 1511.17 L416.38 1511.17 L417.23 1511.17 L418.08 1511.17 L418.94 1511.17 L419.79 1511.17 L420.65 1511.17 L421.5 1511.17 L422.35 1511.17 L423.21 1511.17 L424.06 1511.17 L424.92 1511.17 L425.77 1511.17 L426.62 1511.17 L427.48 1511.17 L428.33 1511.17 L429.18 1511.17 L430.04 1511.17 L430.89 1511.17 L431.75 1511.17 L432.6 1511.17" fill="none" stroke="#3f9e2f" stroke-width="3.2" stroke-linejoin="round" stroke-linecap="butt"/>
<path d="M91.9 1493.71 L92.75 1493.71 L93.61 1493.71 L94.46 1493.71 L95.32 1493.71 L96.17 1493.71 L97.02 1493.71 L97.88 1493.71 L98.73 1493.71 L99.58 1493.71 L100.44 1493.71 L101.29 1493.71 L102.15 1493.71 L103 1493.71 L103.85 1493.71 L104.71 1493.71 L105.56 1493.71 L106.42 1493.71 L107.27 1493.71 L108.12 1493.71 L108.98 1493.71 L109.83 1493.71 L110.69 1493.71 L111.54 1493.71 L112.39 1493.71 L113.25 1493.71 L114.1 1493.71 L114.95 1493.71 L115.81 1493.71 L116.66 1493.71 L117.52 1493.71 L118.37 1493.71 L119.22 1493.71 L120.08 1493.71 L120.93 1493.71 L121.79 1493.71 L122.64 1493.71 L123.49 1493.71 L124.35 1493.71 L125.2 1493.71 L126.06 1493.71 L126.91 1493.71 L127.76 1493.71 L128.62 1493.71 L129.47 1493.71 L130.32 1493.71 L131.18 1493.71 L132.03 1493.71 L132.89 1493.71 L133.74 1493.71 L134.59 1493.71 L135.45 1493.71 L136.3 1493.71 L137.16 1493.71 L138.01 1493.71 L138.86 1493.71 L139.72 1493.71 L140.57 1493.71 L141.43 1493.71 L142.28 1493.71 L143.13 1493.71 L143.99 1493.71 L144.84 1493.71 L145.69 1493.71 L146.55 1493.71 L147.4 1493.71 L148.26 1493.71 L149.11 1493.71 L149.96 1493.71 L150.82 1493.71 L151.67 1493.71 L152.53 1493.71 L153.38 1493.71 L154.23 1493.71 L155.09 1493.71 L155.94 1493.71 L156.8 1493.71 L157.65 1493.71 L158.5 1493.71 L159.36 1493.71 L160.21 1493.71 L161.06 1493.71 L161.92 1493.71 L162.77 1493.71 L163.63 1493.71 L164.48 1493.71 L165.33 1493.71 L166.19 1493.71 L167.04 1493.71 L167.9 1493.71 L168.75 1493.71 L169.6 1493.71 L170.46 1493.71 L171.31 1493.71 L172.17 1493.71 L173.02 1493.71 L173.87 1493.71 L174.73 1493.71 L175.58 1493.71 L176.43 1493.71 L177.29 1493.71 L178.14 1493.71 L179 1493.71 L179.85 1493.71 L180.7 1493.71 L181.56 1493.71 L182.41 1493.71 L183.27 1493.71 L184.12 1493.71 L184.97 1493.71 L185.83 1493.71 L186.68 1493.71 L187.54 1493.71 L188.39 1493.71 L189.24 1493.71 L190.1 1493.71 L190.95 1493.71 L191.8 1493.71 L192.66 1493.71 L193.51 1493.71 L194.37 1493.71 L195.22 1493.71 L196.07 1493.71 L196.93 1493.71 L197.78 1493.71 L198.64 1493.71 L199.49 1493.71 L200.34 1493.71 L201.2 1493.71 L202.05 1493.71 L202.91 1493.71 L203.76 1493.71 L204.61 1493.71 L205.47 1493.7 L206.32 1493.69 L207.17 1493.67 L208.03 1493.64 L208.88 1493.57 L209.74 1493.43 L210.59 1493.15 L211.44 1492.63 L212.3 1491.68 L213.15 1490.1 L214.01 1487.86 L214.86 1485.26 L215.71 1482.88 L216.57 1481.11 L217.42 1480 L218.27 1479.38 L219.13 1479.05 L219.98 1478.88 L220.84 1478.79 L221.69 1478.75 L222.54 1478.73 L223.4 1478.72 L224.25 1478.71 L225.11 1478.71 L225.96 1478.71 L226.81 1478.71 L227.67 1478.71 L228.52 1478.71 L229.38 1478.71 L230.23 1478.71 L231.08 1478.71 L231.94 1478.71 L232.79 1478.71 L233.64 1478.71 L234.5 1478.71 L235.35 1478.71 L236.21 1478.71 L237.06 1478.71 L237.91 1478.71 L238.77 1478.71 L239.62 1478.71 L240.48 1478.71 L241.33 1478.71 L242.18 1478.71 L243.04 1478.71 L243.89 1478.71 L244.75 1478.71 L245.6 1478.71 L246.45 1478.71 L247.31 1478.71 L248.16 1478.71 L249.01 1478.71 L249.87 1478.71 L250.72 1478.71 L251.58 1478.71 L252.43 1478.71 L253.28 1478.71 L254.14 1478.71 L254.99 1478.71 L255.85 1478.71 L256.7 1478.71 L257.55 1478.71 L258.41 1478.71 L259.26 1478.71 L260.12 1478.71 L260.97 1478.71 L261.82 1478.71 L262.68 1478.71 L263.53 1478.71 L264.38 1478.71 L265.24 1478.71 L266.09 1478.71 L266.95 1478.71 L267.8 1478.71 L268.65 1478.71 L269.51 1478.71 L270.36 1478.71 L271.22 1478.71 L272.07 1478.71 L272.92 1478.71 L273.78 1478.71 L274.63 1478.71 L275.49 1478.71 L276.34 1478.71 L277.19 1478.71 L278.05 1478.71 L278.9 1478.71 L279.75 1478.71 L280.61 1478.71 L281.46 1478.71 L282.32 1478.71 L283.17 1478.71 L284.02 1478.71 L284.88 1478.71 L285.73 1478.71 L286.59 1478.71 L287.44 1478.71 L288.29 1478.71 L289.15 1478.71 L290 1478.71 L290.86 1478.71 L291.71 1478.71 L292.56 1478.71 L293.42 1478.71 L294.27 1478.71 L295.12 1478.71 L295.98 1478.71 L296.83 1478.71 L297.69 1478.71 L298.54 1478.71 L299.39 1478.71 L300.25 1478.71 L301.1 1478.71 L301.96 1478.71 L302.81 1478.71 L303.66 1478.71 L304.52 1478.71 L305.37 1478.71 L306.23 1478.71 L307.08 1478.71 L307.93 1478.71 L308.79 1478.71 L309.64 1478.71 L310.49 1478.71 L311.35 1478.71 L312.2 1478.71 L313.06 1478.71 L313.91 1478.71 L314.76 1478.71 L315.62 1478.71 L316.47 1478.71 L317.33 1478.71 L318.18 1478.71 L319.03 1478.71 L319.89 1478.71 L320.74 1478.71 L321.59 1478.71 L322.45 1478.71 L323.3 1478.71 L324.16 1478.71 L325.01 1478.71 L325.86 1478.71 L326.72 1478.71 L327.57 1478.71 L328.43 1478.71 L329.28 1478.71 L330.13 1478.71 L330.99 1478.71 L331.84 1478.71 L332.7 1478.71 L333.55 1478.71 L334.4 1478.71 L335.26 1478.71 L336.11 1478.71 L336.96 1478.71 L337.82 1478.71 L338.67 1478.71 L339.53 1478.71 L340.38 1478.71 L341.23 1478.71 L342.09 1478.71 L342.94 1478.71 L343.8 1478.71 L344.65 1478.71 L345.5 1478.71 L346.36 1478.71 L347.21 1478.71 L348.07 1478.71 L348.92 1478.71 L349.77 1478.71 L350.63 1478.71 L351.48 1478.71 L352.33 1478.71 L353.19 1478.71 L354.04 1478.71 L354.9 1478.71 L355.75 1478.71 L356.6 1478.71 L357.46 1478.71 L358.31 1478.71 L359.17 1478.71 L360.02 1478.71 L360.87 1478.71 L361.73 1478.71 L362.58 1478.71 L363.44 1478.71 L364.29 1478.71 L365.14 1478.71 L366 1478.71 L366.85 1478.71 L367.7 1478.71 L368.56 1478.71 L369.41 1478.71 L370.27 1478.71 L371.12 1478.71 L371.97 1478.71 L372.83 1478.71 L373.68 1478.71 L374.54 1478.71 L375.39 1478.71 L376.24 1478.71 L377.1 1478.71 L377.95 1478.71 L378.81 1478.71 L379.66 1478.71 L380.51 1478.71 L381.37 1478.71 L382.22 1478.71 L383.07 1478.71 L383.93 1478.71 L384.78 1478.71 L385.64 1478.71 L386.49 1478.71 L387.34 1478.71 L388.2 1478.71 L389.05 1478.71 L389.91 1478.71 L390.76 1478.71 L391.61 1478.71 L392.47 1478.71 L393.32 1478.71 L394.18 1478.71 L395.03 1478.71 L395.88 1478.71 L396.74 1478.71 L397.59 1478.71 L398.44 1478.71 L399.3 1478.71 L400.15 1478.71 L401.01 1478.71 L401.86 1478.71 L402.71 1478.71 L403.57 1478.71 L404.42 1478.71 L405.28 1478.71 L406.13 1478.71 L406.98 1478.71 L407.84 1478.71 L408.69 1478.71 L409.55 1478.71 L410.4 1478.71 L411.25 1478.71 L412.11 1478.71 L412.96 1478.71 L413.81 1478.71 L414.67 1478.71 L415.52 1478.71 L416.38 1478.71 L417.23 1478.71 L418.08 1478.71 L418.94 1478.71 L419.79 1478.71 L420.65 1478.71 L421.5 1478.71 L422.35 1478.71 L423.21 1478.71 L424.06 1478.71 L424.92 1478.71 L425.77 1478.71 L426.62 1478.71 L427.48 1478.71 L428.33 1478.71 L429.18 1478.71 L430.04 1478.71 L430.89 1478.71 L431.75 1478.71 L432.6 1478.71" fill="none" stroke="#3f9e2f" stroke-width="3.2" stroke-linejoin="round" stroke-linecap="butt"/>
<line x1="91.9" y1="1471.89" x2="91.9" y2="1511.71" stroke="#8fd08a" stroke-width="2" stroke-linecap="butt"/>
<line x1="84.4" y1="1471.89" x2="99.4" y2="1471.89" stroke="#8fd08a" stroke-width="2" stroke-linecap="butt"/>
<line x1="84.4" y1="1511.71" x2="99.4" y2="1511.71" stroke="#8fd08a" stroke-width="2" stroke-linecap="butt"/>
<polygon points="85.05,1484.95 98.75,1484.95 98.75,1498.65 85.05,1498.65" fill="#8fd08a" stroke="none" stroke-width="0" stroke-linejoin="miter" fill-opacity="0.92"/>
<polygon points="170.22,1490.41 183.92,1490.41 183.92,1504.11 170.22,1504.11" fill="#8fd08a" stroke="none" stroke-width="0" stroke-linejoin="miter" fill-opacity="0.92"/>
<line x1="262.25" y1="1468.07" x2="262.25" y2="1485.53" stroke="#8fd08a" stroke-width="2" stroke-linecap="butt"/>
<line x1="254.75" y1="1468.07" x2="269.75" y2="1468.07" stroke="#8fd08a" stroke-width="2" stroke-linecap="butt"/>
<line x1="254.75" y1="1485.53" x2="269.75" y2="1485.53" stroke="#8fd08a" stroke-width="2" stroke-linecap="butt"/>
<polygon points="255.4,1469.95 269.1,1469.95 269.1,1483.65 255.4,1483.65" fill="#8fd08a" stroke="none" stroke-width="0" stroke-linejoin="miter" fill-opacity="0.92"/>
<polygon points="340.57,1465.85 354.28,1465.85 354.28,1479.55 340.57,1479.55" fill="#8fd08a" stroke="none" stroke-width="0" stroke-linejoin="miter" fill-opacity="0.92"/>
<polygon points="425.75,1480.86 439.45,1480.86 439.45,1494.56 425.75,1494.56" fill="#8fd08a" stroke="none" stroke-width="0" stroke-linejoin="miter" fill-opacity="0.92"/>
<polygon points="91.9,1484.9 99.4,1498.7 84.4,1498.7" fill="#8fd08a" stroke="none" stroke-width="0" stroke-linejoin="miter" fill-opacity="0.92"/>
<polygon points="177.07,1506.72 184.57,1520.52 169.57,1520.52" fill="#8fd08a" stroke="none" stroke-width="0" stroke-linejoin="miter" fill-opacity="0.92"/>
<line x1="262.25" y1="1504.08" x2="262.25" y2="1517.72" stroke="#8fd08a" stroke-width="2" stroke-linecap="butt"/>
<line x1="254.75" y1="1504.08" x2="269.75" y2="1504.08" stroke="#8fd08a" stroke-width="2" stroke-linecap="butt"/>
<line x1="254.75" y1="1517.72" x2="269.75" y2="1517.72" stroke="#8fd08a" stroke-width="2" stroke-linecap="butt"/>
<polygon points="262.25,1504 269.75,1517.8 254.75,1517.8" fill="#8fd08a" stroke="none" stroke-width="0" stroke-linejoin="miter" fill-opacity="0.92"/>
<polygon points="347.43,1501.27 354.93,1515.07 339.93,1515.07" fill="#8fd08a" stroke="none" stroke-width="0" stroke-linejoin="miter" fill-opacity="0.92"/>
<polygon points="432.6,1527.18 440.1,1540.98 425.1,1540.98" fill="#8fd08a" stroke="none" stroke-width="0" stroke-linejoin="miter" fill-opacity="0.92"/>
<polygon points="91.9,1498.7 99.4,1484.9 84.4,1484.9" fill="#8fd08a" stroke="none" stroke-width="0" stroke-linejoin="miter" fill-opacity="0.92"/>
<polygon points="177.07,1534.16 184.57,1520.36 169.57,1520.36" fill="#8fd08a" stroke="none" stroke-width="0" stroke-linejoin="miter" fill-opacity="0.92"/>
<polygon points="262.25,1520.52 269.75,1506.72 254.75,1506.72" fill="#8fd08a" stroke="none" stroke-width="0" stroke-linejoin="miter" fill-opacity="0.92"/>
<polygon points="347.43,1534.16 354.93,1520.36 339.93,1520.36" fill="#8fd08a" stroke="none" stroke-width="0" stroke-linejoin="miter" fill-opacity="0.92"/>
<polygon points="432.6,1531.44 440.1,1517.64 425.1,1517.64" fill="#8fd08a" stroke="none" stroke-width="0" stroke-linejoin="miter" fill-opacity="0.92"/>
<path d="M91.9 1493.44 L92.75 1493.44 L93.61 1493.44 L94.46 1493.44 L95.32 1493.44 L96.17 1493.44 L97.02 1493.44 L97.88 1493.44 L98.73 1493.44 L99.58 1493.44 L100.44 1493.44 L101.29 1493.44 L102.15 1493.44 L103 1493.44 L103.85 1493.44 L104.71 1493.44 L105.56 1493.44 L106.42 1493.44 L107.27 1493.44 L108.12 1493.44 L108.98 1493.44 L109.83 1493.44 L110.69 1493.44 L111.54 1493.44 L112.39 1493.44 L113.25 1493.44 L114.1 1493.44 L114.95 1493.44 L115.81 1493.44 L116.66 1493.44 L117.52 1493.44 L118.37 1493.44 L119.22 1493.44 L120.08 1493.44 L120.93 1493.44 L121.79 1493.44 L122.64 1493.44 L123.49 1493.44 L124.35 1493.44 L125.2 1493.44 L126.06 1493.44 L126.91 1493.44 L127.76 1493.44 L128.62 1493.44 L129.47 1493.44 L130.32 1493.44 L131.18 1493.44 L132.03 1493.44 L132.89 1493.44 L133.74 1493.44 L134.59 1493.44 L135.45 1493.44 L136.3 1493.44 L137.16 1493.44 L138.01 1493.44 L138.86 1493.44 L139.72 1493.44 L140.57 1493.44 L141.43 1493.44 L142.28 1493.44 L143.13 1493.44 L143.99 1493.44 L144.84 1493.44 L145.69 1493.44 L146.55 1493.44 L147.4 1493.44 L148.26 1493.44 L149.11 1493.44 L149.96 1493.44 L150.82 1493.44 L151.67 1493.44 L152.53 1493.44 L153.38 1493.44 L154.23 1493.44 L155.09 1493.44 L155.94 1493.44 L156.8 1493.44 L157.65 1493.44 L158.5 1493.44 L159.36 1493.44 L160.21 1493.44 L161.06 1493.44 L161.92 1493.44 L162.77 1493.44 L163.63 1493.44 L164.48 1493.44 L165.33 1493.44 L166.19 1493.44 L167.04 1493.44 L167.9 1493.44 L168.75 1493.44 L169.6 1493.44 L170.46 1493.44 L171.31 1493.44 L172.17 1493.44 L173.02 1493.44 L173.87 1493.44 L174.73 1493.44 L175.58 1493.44 L176.43 1493.44 L177.29 1493.44 L178.14 1493.44 L179 1493.44 L179.85 1493.44 L180.7 1493.44 L181.56 1493.44 L182.41 1493.44 L183.27 1493.44 L184.12 1493.44 L184.97 1493.44 L185.83 1493.44 L186.68 1493.44 L187.54 1493.44 L188.39 1493.44 L189.24 1493.44 L190.1 1493.44 L190.95 1493.44 L191.8 1493.44 L192.66 1493.44 L193.51 1493.44 L194.37 1493.44 L195.22 1493.44 L196.07 1493.44 L196.93 1493.44 L197.78 1493.44 L198.64 1493.44 L199.49 1493.44 L200.34 1493.44 L201.2 1493.44 L202.05 1493.44 L202.91 1493.44 L203.76 1493.44 L204.61 1493.44 L205.47 1493.44 L206.32 1493.44 L207.17 1493.44 L208.03 1493.44 L208.88 1493.44 L209.74 1493.44 L210.59 1493.44 L211.44 1493.44 L212.3 1493.44 L213.15 1493.44 L214.01 1493.44 L214.86 1493.44 L215.71 1493.44 L216.57 1493.44 L217.42 1493.44 L218.27 1493.44 L219.13 1493.44 L219.98 1493.44 L220.84 1493.44 L221.69 1493.44 L222.54 1493.44 L223.4 1493.44 L224.25 1493.44 L225.11 1493.44 L225.96 1493.44 L226.81 1493.44 L227.67 1493.44 L228.52 1493.44 L229.38 1493.44 L230.23 1493.44 L231.08 1493.44 L231.94 1493.44 L232.79 1493.44 L233.64 1493.44 L234.5 1493.44 L235.35 1493.44 L236.21 1493.44 L237.06 1493.44 L237.91 1493.44 L238.77 1493.44 L239.62 1493.44 L240.48 1493.44 L241.33 1493.44 L242.18 1493.44 L243.04 1493.44 L243.89 1493.44 L244.75 1493.44 L245.6 1493.44 L246.45 1493.44 L247.31 1493.44 L248.16 1493.44 L249.01 1493.44 L249.87 1493.44 L250.72 1493.44 L251.58 1493.44 L252.43 1493.44 L253.28 1493.44 L254.14 1493.44 L254.99 1493.44 L255.85 1493.44 L256.7 1493.44 L257.55 1493.44 L258.41 1493.44 L259.26 1493.44 L260.12 1493.44 L260.97 1493.44 L261.82 1493.44 L262.68 1493.44 L263.53 1493.44 L264.38 1493.44 L265.24 1493.44 L266.09 1493.44 L266.95 1493.44 L267.8 1493.44 L268.65 1493.44 L269.51 1493.44 L270.36 1493.44 L271.22 1493.44 L272.07 1493.44 L272.92 1493.44 L273.78 1493.44 L274.63 1493.44 L275.49 1493.44 L276.34 1493.44 L277.19 1493.44 L278.05 1493.44 L278.9 1493.44 L279.75 1493.44 L280.61 1493.44 L281.46 1493.44 L282.32 1493.44 L283.17 1493.44 L284.02 1493.44 L284.88 1493.44 L285.73 1493.44 L286.59 1493.44 L287.44 1493.44 L288.29 1493.44 L289.15 1493.44 L290 1493.44 L290.86 1493.44 L291.71 1493.44 L292.56 1493.44 L293.42 1493.44 L294.27 1493.44 L295.12 1493.44 L295.98 1493.44 L296.83 1493.44 L297.69 1493.44 L298.54 1493.44 L299.39 1493.44 L300.25 1493.44 L301.1 1493.44 L301.96 1493.44 L302.81 1493.44 L303.66 1493.44 L304.52 1493.44 L305.37 1493.44 L306.23 1493.44 L307.08 1493.44 L307.93 1493.44 L308.79 1493.44 L309.64 1493.44 L310.49 1493.44 L311.35 1493.44 L312.2 1493.44 L313.06 1493.44 L313.91 1493.44 L314.76 1493.44 L315.62 1493.44 L316.47 1493.44 L317.33 1493.44 L318.18 1493.44 L319.03 1493.44 L319.89 1493.44 L320.74 1493.44 L321.59 1493.44 L322.45 1493.44 L323.3 1493.44 L324.16 1493.44 L325.01 1493.44 L325.86 1493.44 L326.72 1493.44 L327.57 1493.44 L328.43 1493.44 L329.28 1493.44 L330.13 1493.44 L330.99 1493.44 L331.84 1493.44 L332.7 1493.44 L333.55 1493.44 L334.4 1493.44 L335.26 1493.44 L336.11 1493.44 L336.96 1493.44 L337.82 1493.44 L338.67 1493.44 L339.53 1493.44 L340.38 1493.44 L341.23 1493.44 L342.09 1493.44 L342.94 1493.44 L343.8 1493.44 L344.65 1493.44 L345.5 1493.44 L346.36 1493.44 L347.21 1493.44 L348.07 1493.44 L348.92 1493.44 L349.77 1493.44 L350.63 1493.44 L351.48 1493.44 L352.33 1493.44 L353.19 1493.44 L354.04 1493.44 L354.9 1493.44 L355.75 1493.44 L356.6 1493.44 L357.46 1493.44 L358.31 1493.44 L359.17 1493.44 L360.02 1493.44 L360.87 1493.44 L361.73 1493.44 L362.58 1493.44 L363.44 1493.44 L364.29 1493.44 L365.14 1493.44 L366 1493.44 L366.85 1493.44 L367.7 1493.44 L368.56 1493.44 L369.41 1493.44 L370.27 1493.44 L371.12 1493.44 L371.97 1493.44 L372.83 1493.44 L373.68 1493.44 L374.54 1493.44 L375.39 1493.44 L376.24 1493.44 L377.1 1493.44 L377.95 1493.44 L378.81 1493.44 L379.66 1493.44 L380.51 1493.44 L381.37 1493.44 L382.22 1493.44 L383.07 1493.44 L383.93 1493.44 L384.78 1493.44 L385.64 1493.45 L386.49 1493.45 L387.34 1493.45 L388.2 1493.45 L389.05 1493.46 L389.91 1493.46 L390.76 1493.47 L391.61 1493.47 L392.47 1493.48 L393.32 1493.49 L394.18 1493.51 L395.03 1493.52 L395.88 1493.54 L396.74 1493.56 L397.59 1493.59 L398.44 1493.62 L399.3 1493.67 L400.15 1493.72 L401.01 1493.78 L401.86 1493.85 L402.71 1493.94 L403.57 1494.05 L404.42 1494.18 L405.28 1494.33 L406.13 1494.52 L406.98 1494.73 L407.84 1494.99 L408.69 1495.3 L409.55 1495.66 L410.4 1496.07 L411.25 1496.54 L412.11 1497.07 L412.96 1497.66 L413.81 1498.3 L414.67 1499.01 L415.52 1499.75 L416.38 1500.52 L417.23 1501.31 L418.08 1502.1 L418.94 1502.88 L419.79 1503.63 L420.65 1504.33 L421.5 1504.98 L422.35 1505.58 L423.21 1506.12 L424.06 1506.59 L424.92 1507.01 L425.77 1507.37 L426.62 1507.68 L427.48 1507.94 L428.33 1508.16 L429.18 1508.35 L430.04 1508.51 L430.89 1508.64 L431.75 1508.75 L432.6 1508.84" fill="none" stroke="#000" stroke-width="3.2" stroke-linejoin="round" stroke-linecap="butt"/>
<line x1="91.9" y1="1480.89" x2="91.9" y2="1502.71" stroke="#000" stroke-width="2" stroke-linecap="butt"/>
<line x1="84.4" y1="1480.89" x2="99.4" y2="1480.89" stroke="#000" stroke-width="2" stroke-linecap="butt"/>
<line x1="84.4" y1="1502.71" x2="99.4" y2="1502.71" stroke="#000" stroke-width="2" stroke-linecap="butt"/>
<circle cx="91.9" cy="1491.8" r="7" fill="#000" stroke="none" stroke-width="0"/>
<line x1="177.07" y1="1471.34" x2="177.07" y2="1564.91" stroke="#000" stroke-width="2" stroke-linecap="butt"/>
<line x1="169.57" y1="1471.34" x2="184.57" y2="1471.34" stroke="#000" stroke-width="2" stroke-linecap="butt"/>
<line x1="169.57" y1="1564.91" x2="184.57" y2="1564.91" stroke="#000" stroke-width="2" stroke-linecap="butt"/>
<circle cx="177.07" cy="1493.16" r="7" fill="#000" stroke="none" stroke-width="0"/>
<line x1="262.25" y1="1468.34" x2="262.25" y2="1526.72" stroke="#000" stroke-width="2" stroke-linecap="butt"/>
<line x1="254.75" y1="1468.34" x2="269.75" y2="1468.34" stroke="#000" stroke-width="2" stroke-linecap="butt"/>
<line x1="254.75" y1="1526.72" x2="269.75" y2="1526.72" stroke="#000" stroke-width="2" stroke-linecap="butt"/>
<circle cx="262.25" cy="1497.26" r="7" fill="#000" stroke="none" stroke-width="0"/>
<line x1="347.43" y1="1453.06" x2="347.43" y2="1568.18" stroke="#000" stroke-width="2" stroke-linecap="butt"/>
<line x1="339.93" y1="1453.06" x2="354.93" y2="1453.06" stroke="#000" stroke-width="2" stroke-linecap="butt"/>
<line x1="339.93" y1="1568.18" x2="354.93" y2="1568.18" stroke="#000" stroke-width="2" stroke-linecap="butt"/>
<circle cx="347.43" cy="1493.16" r="7" fill="#000" stroke="none" stroke-width="0"/>
<line x1="432.6" y1="1460.16" x2="432.6" y2="1557" stroke="#000" stroke-width="2" stroke-linecap="butt"/>
<line x1="425.1" y1="1460.16" x2="440.1" y2="1460.16" stroke="#000" stroke-width="2" stroke-linecap="butt"/>
<line x1="425.1" y1="1557" x2="440.1" y2="1557" stroke="#000" stroke-width="2" stroke-linecap="butt"/>
<circle cx="432.6" cy="1506.8" r="7" fill="#000" stroke="none" stroke-width="0"/>
<line x1="177.07" y1="1474.34" x2="177.07" y2="1508.71" stroke="#000" stroke-width="2" stroke-linecap="butt"/>
<line x1="169.57" y1="1474.34" x2="184.57" y2="1474.34" stroke="#000" stroke-width="2" stroke-linecap="butt"/>
<line x1="169.57" y1="1508.71" x2="184.57" y2="1508.71" stroke="#000" stroke-width="2" stroke-linecap="butt"/>
<line x1="177.07" y1="1499.98" x2="177.07" y2="1519.63" stroke="#000" stroke-width="2" stroke-linecap="butt"/>
<line x1="169.57" y1="1499.98" x2="184.57" y2="1499.98" stroke="#000" stroke-width="2" stroke-linecap="butt"/>
<line x1="169.57" y1="1519.63" x2="184.57" y2="1519.63" stroke="#000" stroke-width="2" stroke-linecap="butt"/>
<line x1="262.25" y1="1484.98" x2="262.25" y2="1506.8" stroke="#000" stroke-width="2" stroke-linecap="butt"/>
<line x1="254.75" y1="1484.98" x2="269.75" y2="1484.98" stroke="#000" stroke-width="2" stroke-linecap="butt"/>
<line x1="254.75" y1="1506.8" x2="269.75" y2="1506.8" stroke="#000" stroke-width="2" stroke-linecap="butt"/>
<line x1="432.6" y1="1499.17" x2="432.6" y2="1516.08" stroke="#000" stroke-width="2" stroke-linecap="butt"/>
<line x1="425.1" y1="1499.17" x2="440.1" y2="1499.17" stroke="#000" stroke-width="2" stroke-linecap="butt"/>
<line x1="425.1" y1="1516.08" x2="440.1" y2="1516.08" stroke="#000" stroke-width="2" stroke-linecap="butt"/>
<circle cx="91.9" cy="1491.8" r="7" fill="#000" stroke="none" stroke-width="0"/>
<circle cx="177.07" cy="1493.16" r="7" fill="#000" stroke="none" stroke-width="0"/>
<circle cx="262.25" cy="1497.26" r="7" fill="#000" stroke="none" stroke-width="0"/>
<circle cx="347.43" cy="1493.16" r="7" fill="#000" stroke="none" stroke-width="0"/>
<circle cx="432.6" cy="1506.8" r="7" fill="#000" stroke="none" stroke-width="0"/>
<line x1="116.9" y1="1643" x2="140.5" y2="1643" stroke="#000" stroke-width="3.6" stroke-linecap="round"/>
<circle cx="128.7" cy="1643" r="6.5" fill="#000" stroke="none" stroke-width="0"/>
<text x="155" y="1648.39" font-size="18.4" font-weight="bold" text-anchor="start" fill="#000">B16-F0</text>
<polygon points="122.1,1668.6 135.3,1668.6 135.3,1681.8 122.1,1681.8" fill="#8fd08a" stroke="none" stroke-width="0" stroke-linejoin="miter"/>
<line x1="116.9" y1="1675.2" x2="140.5" y2="1675.2" stroke="#3f9e2f" stroke-width="3.4" stroke-linecap="round"/>
<text x="155" y="1680.59" font-size="18.4" font-weight="bold" text-anchor="start" fill="#000">LN7 1134BL</text>
<polygon points="128.7,1702.13 135.3,1714.27 122.1,1714.27" fill="#8fd08a" stroke="none" stroke-width="0" stroke-linejoin="miter"/>
<line x1="116.9" y1="1707.2" x2="140.5" y2="1707.2" stroke="#3f9e2f" stroke-width="3.4" stroke-linecap="round"/>
<text x="155" y="1712.59" font-size="18.4" font-weight="bold" text-anchor="start" fill="#000">LN8 1194BR</text>
<polygon points="128.7,1743.87 135.3,1731.73 122.1,1731.73" fill="#8fd08a" stroke="none" stroke-width="0" stroke-linejoin="miter"/>
<line x1="116.9" y1="1738.3" x2="140.5" y2="1738.3" stroke="#3f9e2f" stroke-width="3.4" stroke-linecap="round"/>
<text x="155" y="1743.69" font-size="18.4" font-weight="bold" text-anchor="start" fill="#000">LN9 1315BL</text>
</g>
<g id="panel_i">
<text x="544" y="1330" font-size="27" font-weight="bold" text-anchor="start" fill="#000">i</text>
<line x1="637" y1="1417.1" x2="637" y2="1764.55" stroke="#000" stroke-width="3.5" stroke-linecap="butt"/>
<line x1="625.2" y1="1762.8" x2="638.75" y2="1762.8" stroke="#000" stroke-width="3.4" stroke-linecap="butt"/>
<text x="621.7" y="1770.68" font-size="22" font-weight="bold" text-anchor="end" fill="#000">0</text>
<line x1="625.2" y1="1694" x2="638.75" y2="1694" stroke="#000" stroke-width="3.4" stroke-linecap="butt"/>
<text x="621.7" y="1701.88" font-size="22" font-weight="bold" text-anchor="end" fill="#000">25</text>
<line x1="625.2" y1="1625.2" x2="638.75" y2="1625.2" stroke="#000" stroke-width="3.4" stroke-linecap="butt"/>
<text x="621.7" y="1633.08" font-size="22" font-weight="bold" text-anchor="end" fill="#000">50</text>
<line x1="625.2" y1="1556.4" x2="638.75" y2="1556.4" stroke="#000" stroke-width="3.4" stroke-linecap="butt"/>
<text x="621.7" y="1564.28" font-size="22" font-weight="bold" text-anchor="end" fill="#000">75</text>
<line x1="625.2" y1="1487.6" x2="638.75" y2="1487.6" stroke="#000" stroke-width="3.4" stroke-linecap="butt"/>
<text x="621.7" y="1495.48" font-size="22" font-weight="bold" text-anchor="end" fill="#000">100</text>
<line x1="625.2" y1="1418.8" x2="638.75" y2="1418.8" stroke="#000" stroke-width="3.4" stroke-linecap="butt"/>
<text x="621.7" y="1426.68" font-size="22" font-weight="bold" text-anchor="end" fill="#000">125</text>
<text x="573" y="1586" font-size="31.2" font-weight="bold" text-anchor="middle" fill="#000" transform="rotate(-90 573 1586)">Relative viability (%)</text>
<line x1="635.25" y1="1762.8" x2="1136.6" y2="1762.8" stroke="#000" stroke-width="3.4" stroke-linecap="butt"/>
<line x1="657.3" y1="1762.8" x2="657.3" y2="1774.5" stroke="#000" stroke-width="3" stroke-linecap="butt"/>
<line x1="687.73" y1="1762.8" x2="687.73" y2="1774.5" stroke="#000" stroke-width="3" stroke-linecap="butt"/>
<line x1="718.16" y1="1762.8" x2="718.16" y2="1774.5" stroke="#000" stroke-width="3" stroke-linecap="butt"/>
<line x1="748.59" y1="1762.8" x2="748.59" y2="1774.5" stroke="#000" stroke-width="3" stroke-linecap="butt"/>
<line x1="779.02" y1="1762.8" x2="779.02" y2="1774.5" stroke="#000" stroke-width="3" stroke-linecap="butt"/>
<line x1="809.45" y1="1762.8" x2="809.45" y2="1774.5" stroke="#000" stroke-width="3" stroke-linecap="butt"/>
<line x1="839.88" y1="1762.8" x2="839.88" y2="1774.5" stroke="#000" stroke-width="3" stroke-linecap="butt"/>
<line x1="870.31" y1="1762.8" x2="870.31" y2="1774.5" stroke="#000" stroke-width="3" stroke-linecap="butt"/>
<line x1="900.74" y1="1762.8" x2="900.74" y2="1774.5" stroke="#000" stroke-width="3" stroke-linecap="butt"/>
<line x1="931.17" y1="1762.8" x2="931.17" y2="1774.5" stroke="#000" stroke-width="3" stroke-linecap="butt"/>
<line x1="961.6" y1="1762.8" x2="961.6" y2="1774.5" stroke="#000" stroke-width="3" stroke-linecap="butt"/>
<line x1="992.03" y1="1762.8" x2="992.03" y2="1774.5" stroke="#000" stroke-width="3" stroke-linecap="butt"/>
<line x1="1022.46" y1="1762.8" x2="1022.46" y2="1774.5" stroke="#000" stroke-width="3" stroke-linecap="butt"/>
<line x1="1052.89" y1="1762.8" x2="1052.89" y2="1774.5" stroke="#000" stroke-width="3" stroke-linecap="butt"/>
<line x1="1083.32" y1="1762.8" x2="1083.32" y2="1774.5" stroke="#000" stroke-width="3" stroke-linecap="butt"/>
<line x1="1113.75" y1="1762.8" x2="1113.75" y2="1774.5" stroke="#000" stroke-width="3" stroke-linecap="butt"/>
<rect x="649.1" y="1489.9" width="16.4" height="272.9" fill="#fff" stroke="#000" stroke-width="3.5"/>
<rect x="679.53" y="1480.54" width="16.4" height="282.26" fill="#fff" stroke="#000" stroke-width="3.5"/>
<rect x="709.96" y="1489.9" width="16.4" height="272.9" fill="#fff" stroke="#000" stroke-width="3.5"/>
<rect x="740.39" y="1494.85" width="16.4" height="267.95" fill="#fff" stroke="#000" stroke-width="3.5"/>
<rect x="770.82" y="1489.9" width="16.4" height="272.9" fill="#c9a878" stroke="#000" stroke-width="3.5"/>
<rect x="801.25" y="1476.14" width="16.4" height="286.66" fill="#c9a878" stroke="#000" stroke-width="3.5"/>
<rect x="831.68" y="1489.9" width="16.4" height="272.9" fill="#c9a878" stroke="#000" stroke-width="3.5"/>
<rect x="862.11" y="1480.54" width="16.4" height="282.26" fill="#c9a878" stroke="#000" stroke-width="3.5"/>
<rect x="892.54" y="1489.9" width="16.4" height="272.9" fill="#5fbba9" stroke="#000" stroke-width="3.5"/>
<rect x="922.97" y="1494.85" width="16.4" height="267.95" fill="#5fbba9" stroke="#000" stroke-width="3.5"/>
<rect x="953.4" y="1489.9" width="16.4" height="272.9" fill="#5fbba9" stroke="#000" stroke-width="3.5"/>
<rect x="983.83" y="1520.17" width="16.4" height="242.63" fill="#5fbba9" stroke="#000" stroke-width="3.5"/>
<rect x="1014.26" y="1489.9" width="16.4" height="272.9" fill="#8ed2fc" stroke="#000" stroke-width="3.5"/>
<rect x="1044.69" y="1551.27" width="16.4" height="211.53" fill="#8ed2fc" stroke="#000" stroke-width="3.5"/>
<rect x="1075.12" y="1489.9" width="16.4" height="272.9" fill="#8ed2fc" stroke="#000" stroke-width="3.5"/>
<rect x="1105.55" y="1576.59" width="16.4" height="186.21" fill="#8ed2fc" stroke="#000" stroke-width="3.5"/>
<circle cx="657.3" cy="1439.44" r="4.5" fill="#fff" stroke="#000" stroke-width="2.5"/>
<circle cx="664.3" cy="1506.86" r="4.5" fill="#fff" stroke="#000" stroke-width="2.5"/>
<circle cx="650.3" cy="1516.5" r="4.5" fill="#fff" stroke="#000" stroke-width="2.5"/>
<line x1="657.3" y1="1445.22" x2="657.3" y2="1529.43" stroke="#000" stroke-width="2.2" stroke-linecap="butt"/>
<line x1="651.3" y1="1445.22" x2="663.3" y2="1445.22" stroke="#000" stroke-width="2.2" stroke-linecap="butt"/>
<line x1="651.3" y1="1529.43" x2="663.3" y2="1529.43" stroke="#000" stroke-width="2.2" stroke-linecap="butt"/>
<circle cx="687.73" cy="1449.07" r="4.5" fill="#fff" stroke="#000" stroke-width="2.5"/>
<circle cx="687.73" cy="1476.59" r="4.5" fill="#fff" stroke="#000" stroke-width="2.5"/>
<circle cx="687.73" cy="1508.24" r="4.5" fill="#fff" stroke="#000" stroke-width="2.5"/>
<line x1="687.73" y1="1450.17" x2="687.73" y2="1506.59" stroke="#000" stroke-width="2.2" stroke-linecap="butt"/>
<line x1="681.73" y1="1450.17" x2="693.73" y2="1450.17" stroke="#000" stroke-width="2.2" stroke-linecap="butt"/>
<line x1="681.73" y1="1506.59" x2="693.73" y2="1506.59" stroke="#000" stroke-width="2.2" stroke-linecap="butt"/>
<circle cx="712.16" cy="1468.34" r="4.5" fill="#fff" stroke="#000" stroke-width="2.5"/>
<circle cx="724.16" cy="1476.59" r="4.5" fill="#fff" stroke="#000" stroke-width="2.5"/>
<circle cx="718.16" cy="1515.12" r="4.5" fill="#fff" stroke="#000" stroke-width="2.5"/>
<line x1="718.16" y1="1462.83" x2="718.16" y2="1511.82" stroke="#000" stroke-width="2.2" stroke-linecap="butt"/>
<line x1="712.16" y1="1462.83" x2="724.16" y2="1462.83" stroke="#000" stroke-width="2.2" stroke-linecap="butt"/>
<line x1="712.16" y1="1511.82" x2="724.16" y2="1511.82" stroke="#000" stroke-width="2.2" stroke-linecap="butt"/>
<circle cx="748.59" cy="1483.47" r="4.5" fill="#fff" stroke="#000" stroke-width="2.5"/>
<circle cx="742.59" cy="1493.1" r="4.5" fill="#fff" stroke="#000" stroke-width="2.5"/>
<circle cx="754.59" cy="1493.1" r="4.5" fill="#fff" stroke="#000" stroke-width="2.5"/>
<line x1="748.59" y1="1486.22" x2="748.59" y2="1497.78" stroke="#000" stroke-width="2.2" stroke-linecap="butt"/>
<line x1="742.59" y1="1486.22" x2="754.59" y2="1486.22" stroke="#000" stroke-width="2.2" stroke-linecap="butt"/>
<line x1="742.59" y1="1497.78" x2="754.59" y2="1497.78" stroke="#000" stroke-width="2.2" stroke-linecap="butt"/>
<circle cx="779.02" cy="1458.7" r="4.5" fill="none" stroke="#b5651d" stroke-width="2.5"/>
<circle cx="772.02" cy="1501.36" r="4.5" fill="none" stroke="#b5651d" stroke-width="2.5"/>
<circle cx="786.02" cy="1499.98" r="4.5" fill="none" stroke="#b5651d" stroke-width="2.5"/>
<line x1="779.02" y1="1463.66" x2="779.02" y2="1511.54" stroke="#000" stroke-width="2.2" stroke-linecap="butt"/>
<line x1="773.02" y1="1463.66" x2="785.02" y2="1463.66" stroke="#000" stroke-width="2.2" stroke-linecap="butt"/>
<line x1="773.02" y1="1511.54" x2="785.02" y2="1511.54" stroke="#000" stroke-width="2.2" stroke-linecap="butt"/>
<circle cx="809.45" cy="1455.95" r="4.5" fill="none" stroke="#b5651d" stroke-width="2.5"/>
<circle cx="809.45" cy="1472.46" r="4.5" fill="none" stroke="#b5651d" stroke-width="2.5"/>
<circle cx="809.45" cy="1493.1" r="4.5" fill="none" stroke="#b5651d" stroke-width="2.5"/>
<line x1="809.45" y1="1456.23" x2="809.45" y2="1495.86" stroke="#000" stroke-width="2.2" stroke-linecap="butt"/>
<line x1="803.45" y1="1456.23" x2="815.45" y2="1456.23" stroke="#000" stroke-width="2.2" stroke-linecap="butt"/>
<line x1="803.45" y1="1495.86" x2="815.45" y2="1495.86" stroke="#000" stroke-width="2.2" stroke-linecap="butt"/>
<circle cx="834.88" cy="1473.84" r="4.5" fill="none" stroke="#b5651d" stroke-width="2.5"/>
<circle cx="845.88" cy="1477.97" r="4.5" fill="none" stroke="#b5651d" stroke-width="2.5"/>
<circle cx="839.88" cy="1510.99" r="4.5" fill="none" stroke="#b5651d" stroke-width="2.5"/>
<line x1="839.88" y1="1468.06" x2="839.88" y2="1506.59" stroke="#000" stroke-width="2.2" stroke-linecap="butt"/>
<line x1="833.88" y1="1468.06" x2="845.88" y2="1468.06" stroke="#000" stroke-width="2.2" stroke-linecap="butt"/>
<line x1="833.88" y1="1506.59" x2="845.88" y2="1506.59" stroke="#000" stroke-width="2.2" stroke-linecap="butt"/>
<circle cx="870.31" cy="1458.7" r="4.5" fill="none" stroke="#b5651d" stroke-width="2.5"/>
<circle cx="870.31" cy="1475.22" r="4.5" fill="none" stroke="#b5651d" stroke-width="2.5"/>
<circle cx="870.31" cy="1499.98" r="4.5" fill="none" stroke="#b5651d" stroke-width="2.5"/>
<line x1="870.31" y1="1457.88" x2="870.31" y2="1498.06" stroke="#000" stroke-width="2.2" stroke-linecap="butt"/>
<line x1="864.31" y1="1457.88" x2="876.31" y2="1457.88" stroke="#000" stroke-width="2.2" stroke-linecap="butt"/>
<line x1="864.31" y1="1498.06" x2="876.31" y2="1498.06" stroke="#000" stroke-width="2.2" stroke-linecap="butt"/>
<circle cx="894.74" cy="1482.1" r="4.5" fill="none" stroke="#2f9e87" stroke-width="2.5"/>
<circle cx="906.74" cy="1482.1" r="4.5" fill="none" stroke="#2f9e87" stroke-width="2.5"/>
<circle cx="900.74" cy="1498.61" r="4.5" fill="none" stroke="#2f9e87" stroke-width="2.5"/>
<line x1="900.74" y1="1477.69" x2="900.74" y2="1497.51" stroke="#000" stroke-width="2.2" stroke-linecap="butt"/>
<line x1="894.74" y1="1477.69" x2="906.74" y2="1477.69" stroke="#000" stroke-width="2.2" stroke-linecap="butt"/>
<line x1="894.74" y1="1497.51" x2="906.74" y2="1497.51" stroke="#000" stroke-width="2.2" stroke-linecap="butt"/>
<circle cx="925.17" cy="1486.22" r="4.5" fill="none" stroke="#2f9e87" stroke-width="2.5"/>
<circle cx="937.17" cy="1488.98" r="4.5" fill="none" stroke="#2f9e87" stroke-width="2.5"/>
<circle cx="931.17" cy="1498.61" r="4.5" fill="none" stroke="#2f9e87" stroke-width="2.5"/>
<line x1="931.17" y1="1484.85" x2="931.17" y2="1499.16" stroke="#000" stroke-width="2.2" stroke-linecap="butt"/>
<line x1="925.17" y1="1484.85" x2="937.17" y2="1484.85" stroke="#000" stroke-width="2.2" stroke-linecap="butt"/>
<line x1="925.17" y1="1499.16" x2="937.17" y2="1499.16" stroke="#000" stroke-width="2.2" stroke-linecap="butt"/>
<circle cx="961.6" cy="1465.58" r="4.5" fill="none" stroke="#2f9e87" stroke-width="2.5"/>
<circle cx="968.6" cy="1494.48" r="4.5" fill="none" stroke="#2f9e87" stroke-width="2.5"/>
<circle cx="955.6" cy="1501.36" r="4.5" fill="none" stroke="#2f9e87" stroke-width="2.5"/>
<line x1="961.6" y1="1469.44" x2="961.6" y2="1505.76" stroke="#000" stroke-width="2.2" stroke-linecap="butt"/>
<line x1="955.6" y1="1469.44" x2="967.6" y2="1469.44" stroke="#000" stroke-width="2.2" stroke-linecap="butt"/>
<line x1="955.6" y1="1505.76" x2="967.6" y2="1505.76" stroke="#000" stroke-width="2.2" stroke-linecap="butt"/>
<circle cx="992.03" cy="1504.11" r="4.5" fill="none" stroke="#2f9e87" stroke-width="2.5"/>
<circle cx="992.03" cy="1515.12" r="4.5" fill="none" stroke="#2f9e87" stroke-width="2.5"/>
<circle cx="992.03" cy="1533.01" r="4.5" fill="none" stroke="#2f9e87" stroke-width="2.5"/>
<line x1="992.03" y1="1502.46" x2="992.03" y2="1532.18" stroke="#000" stroke-width="2.2" stroke-linecap="butt"/>
<line x1="986.03" y1="1502.46" x2="998.03" y2="1502.46" stroke="#000" stroke-width="2.2" stroke-linecap="butt"/>
<line x1="986.03" y1="1532.18" x2="998.03" y2="1532.18" stroke="#000" stroke-width="2.2" stroke-linecap="butt"/>
<circle cx="1022.46" cy="1483.47" r="4.5" fill="none" stroke="#3f8fe8" stroke-width="2.5"/>
<circle cx="1016.46" cy="1490.35" r="4.5" fill="none" stroke="#3f8fe8" stroke-width="2.5"/>
<circle cx="1028.46" cy="1488.98" r="4.5" fill="none" stroke="#3f8fe8" stroke-width="2.5"/>
<line x1="1022.46" y1="1483.75" x2="1022.46" y2="1492.28" stroke="#000" stroke-width="2.2" stroke-linecap="butt"/>
<line x1="1016.46" y1="1483.75" x2="1028.46" y2="1483.75" stroke="#000" stroke-width="2.2" stroke-linecap="butt"/>
<line x1="1016.46" y1="1492.28" x2="1028.46" y2="1492.28" stroke="#000" stroke-width="2.2" stroke-linecap="butt"/>
<circle cx="1052.89" cy="1544.02" r="4.5" fill="none" stroke="#3f8fe8" stroke-width="2.5"/>
<circle cx="1046.89" cy="1550.9" r="4.5" fill="none" stroke="#3f8fe8" stroke-width="2.5"/>
<circle cx="1058.89" cy="1548.14" r="4.5" fill="none" stroke="#3f8fe8" stroke-width="2.5"/>
<line x1="1052.89" y1="1543.47" x2="1052.89" y2="1551.45" stroke="#000" stroke-width="2.2" stroke-linecap="butt"/>
<line x1="1046.89" y1="1543.47" x2="1058.89" y2="1543.47" stroke="#000" stroke-width="2.2" stroke-linecap="butt"/>
<line x1="1046.89" y1="1551.45" x2="1058.89" y2="1551.45" stroke="#000" stroke-width="2.2" stroke-linecap="butt"/>
<circle cx="1077.32" cy="1475.22" r="4.5" fill="none" stroke="#3f8fe8" stroke-width="2.5"/>
<circle cx="1089.32" cy="1477.97" r="4.5" fill="none" stroke="#3f8fe8" stroke-width="2.5"/>
<circle cx="1083.32" cy="1508.24" r="4.5" fill="none" stroke="#3f8fe8" stroke-width="2.5"/>
<line x1="1083.32" y1="1470.54" x2="1083.32" y2="1504.94" stroke="#000" stroke-width="2.2" stroke-linecap="butt"/>
<line x1="1077.32" y1="1470.54" x2="1089.32" y2="1470.54" stroke="#000" stroke-width="2.2" stroke-linecap="butt"/>
<line x1="1077.32" y1="1504.94" x2="1089.32" y2="1504.94" stroke="#000" stroke-width="2.2" stroke-linecap="butt"/>
<circle cx="1113.75" cy="1560.53" r="4.5" fill="none" stroke="#3f8fe8" stroke-width="2.5"/>
<circle cx="1107.75" cy="1581.17" r="4.5" fill="none" stroke="#3f8fe8" stroke-width="2.5"/>
<circle cx="1119.75" cy="1581.17" r="4.5" fill="none" stroke="#3f8fe8" stroke-width="2.5"/>
<line x1="1113.75" y1="1561.35" x2="1113.75" y2="1587.5" stroke="#000" stroke-width="2.2" stroke-linecap="butt"/>
<line x1="1107.75" y1="1561.35" x2="1119.75" y2="1561.35" stroke="#000" stroke-width="2.2" stroke-linecap="butt"/>
<line x1="1107.75" y1="1587.5" x2="1119.75" y2="1587.5" stroke="#000" stroke-width="2.2" stroke-linecap="butt"/>
<text x="703.2" y="1407.9" font-size="24.7" font-weight="normal" text-anchor="middle" fill="#000">P&gt;0.999</text>
<line x1="656.6" y1="1420.4" x2="749.4" y2="1420.4" stroke="#000" stroke-width="3.2" stroke-linecap="round"/>
<text x="825.9" y="1407.9" font-size="24.7" font-weight="normal" text-anchor="middle" fill="#000">P=0.9966</text>
<line x1="779" y1="1420" x2="872.5" y2="1420" stroke="#000" stroke-width="3.2" stroke-linecap="round"/>
<text x="946.7" y="1407.9" font-size="24.7" font-weight="normal" text-anchor="middle" fill="#000">P=0.4083</text>
<line x1="898.8" y1="1420" x2="993.9" y2="1420" stroke="#000" stroke-width="3.2" stroke-linecap="round"/>
<text x="1037.8" y="1407.9" font-size="24.7" font-weight="normal" text-anchor="start" fill="#000">P=3.8x10<tspan font-size="16.3" dy="-9.88">-5</tspan></text>
<line x1="1084" y1="1420" x2="1113" y2="1420" stroke="#000" stroke-width="3.2" stroke-linecap="round"/>
<text x="992.2" y="1366.4" font-size="24.7" font-weight="normal" text-anchor="middle" fill="#000">P=0.0105</text>
<line x1="934.9" y1="1380.3" x2="1048.9" y2="1380.3" stroke="#000" stroke-width="3.2" stroke-linecap="round"/>
<text x="1056.3" y="1329.7" font-size="24.7" font-weight="normal" text-anchor="middle" fill="#000">P=0.0078</text>
<line x1="998.3" y1="1342.5" x2="1113" y2="1342.5" stroke="#000" stroke-width="3.2" stroke-linecap="round"/>
<text x="1039.4" y="1450.1" font-size="24.7" font-weight="normal" text-anchor="middle" fill="#000">P=0.0051</text>
<line x1="1022.6" y1="1462.9" x2="1058" y2="1462.9" stroke="#000" stroke-width="3.2" stroke-linecap="round"/>
<text x="657.3" y="1795" font-size="23" font-weight="bold" text-anchor="middle" fill="#000">-</text>
<text x="687.73" y="1795" font-size="23" font-weight="bold" text-anchor="middle" fill="#000">+</text>
<text x="718.16" y="1795" font-size="23" font-weight="bold" text-anchor="middle" fill="#000">-</text>
<text x="748.59" y="1795" font-size="23" font-weight="bold" text-anchor="middle" fill="#000">-</text>
<text x="779.02" y="1795" font-size="23" font-weight="bold" text-anchor="middle" fill="#000">-</text>
<text x="809.45" y="1795" font-size="23" font-weight="bold" text-anchor="middle" fill="#000">+</text>
<text x="839.88" y="1795" font-size="23" font-weight="bold" text-anchor="middle" fill="#000">-</text>
<text x="870.31" y="1795" font-size="23" font-weight="bold" text-anchor="middle" fill="#000">-</text>
<text x="900.74" y="1795" font-size="23" font-weight="bold" text-anchor="middle" fill="#000">-</text>
<text x="931.17" y="1795" font-size="23" font-weight="bold" text-anchor="middle" fill="#000">+</text>
<text x="961.6" y="1795" font-size="23" font-weight="bold" text-anchor="middle" fill="#000">-</text>
<text x="992.03" y="1795" font-size="23" font-weight="bold" text-anchor="middle" fill="#000">-</text>
<text x="1022.46" y="1795" font-size="23" font-weight="bold" text-anchor="middle" fill="#000">-</text>
<text x="1052.89" y="1795" font-size="23" font-weight="bold" text-anchor="middle" fill="#000">+</text>
<text x="1083.32" y="1795" font-size="23" font-weight="bold" text-anchor="middle" fill="#000">-</text>
<text x="1113.75" y="1795" font-size="23" font-weight="bold" text-anchor="middle" fill="#000">-</text>
<text x="657.3" y="1823.3" font-size="23" font-weight="bold" text-anchor="middle" fill="#000">-</text>
<text x="687.73" y="1823.3" font-size="23" font-weight="bold" text-anchor="middle" fill="#000">-</text>
<text x="718.16" y="1823.3" font-size="23" font-weight="bold" text-anchor="middle" fill="#000">-</text>
<text x="748.59" y="1823.3" font-size="23" font-weight="bold" text-anchor="middle" fill="#000">+</text>
<text x="779.02" y="1823.3" font-size="23" font-weight="bold" text-anchor="middle" fill="#000">-</text>
<text x="809.45" y="1823.3" font-size="23" font-weight="bold" text-anchor="middle" fill="#000">-</text>
<text x="839.88" y="1823.3" font-size="23" font-weight="bold" text-anchor="middle" fill="#000">-</text>
<text x="870.31" y="1823.3" font-size="23" font-weight="bold" text-anchor="middle" fill="#000">+</text>
<text x="900.74" y="1823.3" font-size="23" font-weight="bold" text-anchor="middle" fill="#000">-</text>
<text x="931.17" y="1823.3" font-size="23" font-weight="bold" text-anchor="middle" fill="#000">-</text>
<text x="961.6" y="1823.3" font-size="23" font-weight="bold" text-anchor="middle" fill="#000">-</text>
<text x="992.03" y="1823.3" font-size="23" font-weight="bold" text-anchor="middle" fill="#000">+</text>
<text x="1022.46" y="1823.3" font-size="23" font-weight="bold" text-anchor="middle" fill="#000">-</text>
<text x="1052.89" y="1823.3" font-size="23" font-weight="bold" text-anchor="middle" fill="#000">-</text>
<text x="1083.32" y="1823.3" font-size="23" font-weight="bold" text-anchor="middle" fill="#000">-</text>
<text x="1113.75" y="1823.3" font-size="23" font-weight="bold" text-anchor="middle" fill="#000">+</text>
<text x="1141" y="1794" font-size="21.4" font-weight="bold" text-anchor="start" fill="#000">L-BSO 1 mM</text>
<text x="1141" y="1822.5" font-size="21.4" font-weight="bold" text-anchor="start" fill="#000">L-BSO 3 mM</text>
<line x1="635.3" y1="1839.8" x2="750.2" y2="1839.8" stroke="#000" stroke-width="3.4" stroke-linecap="round"/>
<line x1="758" y1="1839.8" x2="872.9" y2="1839.8" stroke="#000" stroke-width="3.4" stroke-linecap="round"/>
<line x1="879.8" y1="1839.8" x2="1003.6" y2="1839.8" stroke="#000" stroke-width="3.4" stroke-linecap="round"/>
<line x1="1012.1" y1="1839.8" x2="1127.4" y2="1839.8" stroke="#000" stroke-width="3.4" stroke-linecap="round"/>
<text x="694.1" y="1870.8" font-size="21.6" font-weight="bold" text-anchor="middle" fill="#000">B16-F0 WT</text>
<text x="816" y="1870.8" font-size="21.6" font-weight="bold" text-anchor="middle" fill="#000">B16-F0</text>
<text x="816" y="1896.7" font-size="21.6" font-weight="bold" text-anchor="middle" fill="#000">FSP1 KO</text>
<text x="939.8" y="1870.8" font-size="21.6" font-weight="bold" text-anchor="middle" fill="#000">LN7 1134BL</text>
<text x="941" y="1896.7" font-size="21.6" font-weight="bold" text-anchor="middle" fill="#000">WT</text>
<text x="1075.2" y="1870.8" font-size="21.6" font-weight="bold" text-anchor="middle" fill="#000">LN7 1134BL</text>
<text x="1075.2" y="1896.7" font-size="21.6" font-weight="bold" text-anchor="middle" fill="#000">FSP1 KO</text>
<line x1="641.9" y1="1907.1" x2="1133.2" y2="1907.1" stroke="#000" stroke-width="3.4" stroke-linecap="round"/>
<text x="876" y="1938" font-size="22" font-weight="bold" text-anchor="middle" fill="#000">1% O<tspan font-size="15.4" dy="6.82">2</tspan><tspan dy="-6.82"></tspan></text>
</g>
<g id="panel_j">
<text x="1276" y="1330" font-size="27" font-weight="bold" text-anchor="start" fill="#000">j</text>
<line x1="1354.5" y1="1418.1" x2="1354.5" y2="1764.15" stroke="#000" stroke-width="2.3" stroke-linecap="butt"/>
<line x1="1345.1" y1="1763" x2="1355.65" y2="1763" stroke="#000" stroke-width="2.3" stroke-linecap="butt"/>
<text x="1340.6" y="1770.88" font-size="22" font-weight="bold" text-anchor="end" fill="#000">0</text>
<line x1="1345.1" y1="1694.25" x2="1355.65" y2="1694.25" stroke="#000" stroke-width="2.3" stroke-linecap="butt"/>
<text x="1340.6" y="1702.13" font-size="22" font-weight="bold" text-anchor="end" fill="#000">25</text>
<line x1="1345.1" y1="1625.5" x2="1355.65" y2="1625.5" stroke="#000" stroke-width="2.3" stroke-linecap="butt"/>
<text x="1340.6" y="1633.38" font-size="22" font-weight="bold" text-anchor="end" fill="#000">50</text>
<line x1="1345.1" y1="1556.75" x2="1355.65" y2="1556.75" stroke="#000" stroke-width="2.3" stroke-linecap="butt"/>
<text x="1340.6" y="1564.63" font-size="22" font-weight="bold" text-anchor="end" fill="#000">75</text>
<line x1="1345.1" y1="1488" x2="1355.65" y2="1488" stroke="#000" stroke-width="2.3" stroke-linecap="butt"/>
<text x="1340.6" y="1495.88" font-size="22" font-weight="bold" text-anchor="end" fill="#000">100</text>
<line x1="1345.1" y1="1419.25" x2="1355.65" y2="1419.25" stroke="#000" stroke-width="2.3" stroke-linecap="butt"/>
<text x="1340.6" y="1427.13" font-size="22" font-weight="bold" text-anchor="end" fill="#000">125</text>
<text x="1290" y="1587" font-size="31.3" font-weight="bold" text-anchor="middle" fill="#000" transform="rotate(-90 1290 1587)">Relative viability (%)</text>
<line x1="1352.75" y1="1763" x2="1545.3" y2="1763" stroke="#000" stroke-width="2.3" stroke-linecap="butt"/>
<line x1="1383.8" y1="1763" x2="1383.8" y2="1774.15" stroke="#000" stroke-width="2.3" stroke-linecap="butt"/>
<line x1="1428.1" y1="1763" x2="1428.1" y2="1774.15" stroke="#000" stroke-width="2.3" stroke-linecap="butt"/>
<line x1="1472.4" y1="1763" x2="1472.4" y2="1774.15" stroke="#000" stroke-width="2.3" stroke-linecap="butt"/>
<line x1="1516.7" y1="1763" x2="1516.7" y2="1774.15" stroke="#000" stroke-width="2.3" stroke-linecap="butt"/>
<rect x="1371.1" y="1489.85" width="25.4" height="273.15" fill="#ba7dcb" stroke="#000" stroke-width="3.7"/>
<rect x="1415.4" y="1603.7" width="25.4" height="159.3" fill="#ba7dcb" stroke="#000" stroke-width="3.7"/>
<rect x="1459.7" y="1569.88" width="25.4" height="193.12" fill="#ba7dcb" stroke="#000" stroke-width="3.7"/>
<rect x="1504" y="1650.45" width="25.4" height="112.55" fill="#ba7dcb" stroke="#000" stroke-width="3.7"/>
<circle cx="1374.8" cy="1490.75" r="4.7" fill="none" stroke="#9a2fb5" stroke-width="2.4"/>
<circle cx="1383.8" cy="1484.7" r="4.7" fill="none" stroke="#9a2fb5" stroke-width="2.4"/>
<circle cx="1393.8" cy="1486.62" r="4.7" fill="none" stroke="#9a2fb5" stroke-width="2.4"/>
<line x1="1383.8" y1="1485.25" x2="1383.8" y2="1490.75" stroke="#9a2fb5" stroke-width="2" stroke-linecap="butt"/>
<line x1="1376.8" y1="1485.25" x2="1390.8" y2="1485.25" stroke="#9a2fb5" stroke-width="2" stroke-linecap="butt"/>
<line x1="1376.8" y1="1490.75" x2="1390.8" y2="1490.75" stroke="#9a2fb5" stroke-width="2" stroke-linecap="butt"/>
<circle cx="1419.1" cy="1595.25" r="4.7" fill="none" stroke="#9a2fb5" stroke-width="2.4"/>
<circle cx="1438.1" cy="1602.12" r="4.7" fill="none" stroke="#9a2fb5" stroke-width="2.4"/>
<circle cx="1419.1" cy="1609" r="4.7" fill="none" stroke="#9a2fb5" stroke-width="2.4"/>
<line x1="1428.1" y1="1594.97" x2="1428.1" y2="1607.62" stroke="#9a2fb5" stroke-width="2" stroke-linecap="butt"/>
<line x1="1421.1" y1="1594.97" x2="1435.1" y2="1594.97" stroke="#9a2fb5" stroke-width="2" stroke-linecap="butt"/>
<line x1="1421.1" y1="1607.62" x2="1435.1" y2="1607.62" stroke="#9a2fb5" stroke-width="2" stroke-linecap="butt"/>
<circle cx="1463.4" cy="1559.5" r="4.7" fill="none" stroke="#9a2fb5" stroke-width="2.4"/>
<circle cx="1482.4" cy="1567.75" r="4.7" fill="none" stroke="#9a2fb5" stroke-width="2.4"/>
<circle cx="1463.4" cy="1576" r="4.7" fill="none" stroke="#9a2fb5" stroke-width="2.4"/>
<line x1="1472.4" y1="1558.67" x2="1472.4" y2="1574.35" stroke="#9a2fb5" stroke-width="2" stroke-linecap="butt"/>
<line x1="1465.4" y1="1558.67" x2="1479.4" y2="1558.67" stroke="#9a2fb5" stroke-width="2" stroke-linecap="butt"/>
<line x1="1465.4" y1="1574.35" x2="1479.4" y2="1574.35" stroke="#9a2fb5" stroke-width="2" stroke-linecap="butt"/>
<circle cx="1507.7" cy="1650.25" r="4.7" fill="none" stroke="#9a2fb5" stroke-width="2.4"/>
<circle cx="1516.7" cy="1645.85" r="4.7" fill="none" stroke="#9a2fb5" stroke-width="2.4"/>
<circle cx="1526.7" cy="1647.5" r="4.7" fill="none" stroke="#9a2fb5" stroke-width="2.4"/>
<line x1="1516.7" y1="1646.12" x2="1516.7" y2="1650.8" stroke="#9a2fb5" stroke-width="2" stroke-linecap="butt"/>
<line x1="1509.7" y1="1646.12" x2="1523.7" y2="1646.12" stroke="#9a2fb5" stroke-width="2" stroke-linecap="butt"/>
<line x1="1509.7" y1="1650.8" x2="1523.7" y2="1650.8" stroke="#9a2fb5" stroke-width="2" stroke-linecap="butt"/>
<text x="1433" y="1370" font-size="24.5" font-weight="normal" text-anchor="start" fill="#000">P=6.9x10<tspan font-size="16.17" dy="-9.8">-7</tspan></text>
<line x1="1472.7" y1="1383" x2="1515" y2="1383" stroke="#000" stroke-width="3.2" stroke-linecap="round"/>
<text x="1408.7" y="1412" font-size="24.5" font-weight="normal" text-anchor="start" fill="#000">P=4.8x10<tspan font-size="16.17" dy="-9.8">-5</tspan></text>
<line x1="1423.9" y1="1424.6" x2="1515" y2="1424.6" stroke="#000" stroke-width="3.2" stroke-linecap="round"/>
<text x="1389.8" y="1454.5" font-size="24.5" font-weight="normal" text-anchor="start" fill="#000">P=3.1x10<tspan font-size="16.17" dy="-9.8">-9</tspan></text>
<line x1="1385.7" y1="1467.2" x2="1515" y2="1467.2" stroke="#000" stroke-width="3.2" stroke-linecap="round"/>
<text x="1383.8" y="1801.5" font-size="27" font-weight="bold" text-anchor="middle" fill="#000">-</text>
<text x="1428" y="1801.5" font-size="27" font-weight="bold" text-anchor="middle" fill="#000">+</text>
<text x="1475" y="1801.5" font-size="27" font-weight="bold" text-anchor="middle" fill="#000">-</text>
<text x="1518.5" y="1801.5" font-size="27" font-weight="bold" text-anchor="middle" fill="#000">+</text>
<text x="1383.8" y="1841" font-size="27" font-weight="bold" text-anchor="middle" fill="#000">-</text>
<text x="1426" y="1841" font-size="27" font-weight="bold" text-anchor="middle" fill="#000">-</text>
<text x="1477" y="1841" font-size="27" font-weight="bold" text-anchor="middle" fill="#000">+</text>
<text x="1519" y="1841" font-size="27" font-weight="bold" text-anchor="middle" fill="#000">+</text>
<text x="1553.8" y="1801.5" font-size="25" font-weight="bold" text-anchor="start" fill="#000">iFSP1 (10 <tspan font-family='"Liberation Serif", serif' font-weight="normal">μ</tspan>M)</text>
<text x="1553.8" y="1840.2" font-size="24.8" font-weight="bold" text-anchor="start" fill="#000">BSO (1 <tspan font-weight="normal">m</tspan>M)</text>
</g>
<g id="panel_k">
<text x="1698" y="1330" font-size="27" font-weight="bold" text-anchor="start" fill="#000">k</text>
<line x1="1760.7" y1="1417.22" x2="1760.7" y2="1765.15" stroke="#000" stroke-width="2.3" stroke-linecap="butt"/>
<line x1="1751.3" y1="1764" x2="1761.85" y2="1764" stroke="#000" stroke-width="2.3" stroke-linecap="butt"/>
<text x="1746.8" y="1771.88" font-size="22" font-weight="bold" text-anchor="end" fill="#000">0</text>
<line x1="1751.3" y1="1694.88" x2="1761.85" y2="1694.88" stroke="#000" stroke-width="2.3" stroke-linecap="butt"/>
<text x="1746.8" y="1702.75" font-size="22" font-weight="bold" text-anchor="end" fill="#000">25</text>
<line x1="1751.3" y1="1625.75" x2="1761.85" y2="1625.75" stroke="#000" stroke-width="2.3" stroke-linecap="butt"/>
<text x="1746.8" y="1633.63" font-size="22" font-weight="bold" text-anchor="end" fill="#000">50</text>
<line x1="1751.3" y1="1556.62" x2="1761.85" y2="1556.62" stroke="#000" stroke-width="2.3" stroke-linecap="butt"/>
<text x="1746.8" y="1564.5" font-size="22" font-weight="bold" text-anchor="end" fill="#000">75</text>
<line x1="1751.3" y1="1487.5" x2="1761.85" y2="1487.5" stroke="#000" stroke-width="2.3" stroke-linecap="butt"/>
<text x="1746.8" y="1495.38" font-size="22" font-weight="bold" text-anchor="end" fill="#000">100</text>
<line x1="1751.3" y1="1418.38" x2="1761.85" y2="1418.38" stroke="#000" stroke-width="2.3" stroke-linecap="butt"/>
<text x="1746.8" y="1426.25" font-size="22" font-weight="bold" text-anchor="end" fill="#000">125</text>
<text x="1696" y="1587" font-size="31.3" font-weight="bold" text-anchor="middle" fill="#000" transform="rotate(-90 1696 1587)">Relative viability (%)</text>
<line x1="1758.95" y1="1764" x2="1946.8" y2="1764" stroke="#000" stroke-width="2.3" stroke-linecap="butt"/>
<line x1="1789.4" y1="1764" x2="1789.4" y2="1775.15" stroke="#000" stroke-width="2.3" stroke-linecap="butt"/>
<line x1="1832.3" y1="1764" x2="1832.3" y2="1775.15" stroke="#000" stroke-width="2.3" stroke-linecap="butt"/>
<line x1="1875.2" y1="1764" x2="1875.2" y2="1775.15" stroke="#000" stroke-width="2.3" stroke-linecap="butt"/>
<line x1="1918.1" y1="1764" x2="1918.1" y2="1775.15" stroke="#000" stroke-width="2.3" stroke-linecap="butt"/>
<rect x="1776.9" y="1490.18" width="25" height="273.82" fill="#ba7dcb" stroke="#000" stroke-width="3.7"/>
<rect x="1819.8" y="1614.33" width="25" height="149.67" fill="#ba7dcb" stroke="#000" stroke-width="3.7"/>
<rect x="1862.7" y="1562.07" width="25" height="201.93" fill="#ba7dcb" stroke="#000" stroke-width="3.7"/>
<rect x="1905.6" y="1661.61" width="25" height="102.39" fill="#ba7dcb" stroke="#000" stroke-width="3.7"/>
<circle cx="1789.4" cy="1472.29" r="4.7" fill="none" stroke="#9a2fb5" stroke-width="2.4"/>
<circle cx="1780.4" cy="1495.8" r="4.7" fill="none" stroke="#9a2fb5" stroke-width="2.4"/>
<circle cx="1799.4" cy="1494.41" r="4.7" fill="none" stroke="#9a2fb5" stroke-width="2.4"/>
<line x1="1789.4" y1="1473.12" x2="1789.4" y2="1500.5" stroke="#9a2fb5" stroke-width="2" stroke-linecap="butt"/>
<line x1="1782.4" y1="1473.12" x2="1796.4" y2="1473.12" stroke="#9a2fb5" stroke-width="2" stroke-linecap="butt"/>
<line x1="1782.4" y1="1500.5" x2="1796.4" y2="1500.5" stroke="#9a2fb5" stroke-width="2" stroke-linecap="butt"/>
<circle cx="1823.3" cy="1603.63" r="4.7" fill="none" stroke="#9a2fb5" stroke-width="2.4"/>
<circle cx="1842.3" cy="1611.92" r="4.7" fill="none" stroke="#9a2fb5" stroke-width="2.4"/>
<circle cx="1823.3" cy="1620.22" r="4.7" fill="none" stroke="#9a2fb5" stroke-width="2.4"/>
<line x1="1832.3" y1="1602.25" x2="1832.3" y2="1620.22" stroke="#9a2fb5" stroke-width="2" stroke-linecap="butt"/>
<line x1="1825.3" y1="1602.25" x2="1839.3" y2="1602.25" stroke="#9a2fb5" stroke-width="2" stroke-linecap="butt"/>
<line x1="1825.3" y1="1620.22" x2="1839.3" y2="1620.22" stroke="#9a2fb5" stroke-width="2" stroke-linecap="butt"/>
<circle cx="1866.2" cy="1553.86" r="4.7" fill="none" stroke="#9a2fb5" stroke-width="2.4"/>
<circle cx="1885.2" cy="1559.39" r="4.7" fill="none" stroke="#9a2fb5" stroke-width="2.4"/>
<circle cx="1866.2" cy="1566.3" r="4.7" fill="none" stroke="#9a2fb5" stroke-width="2.4"/>
<line x1="1875.2" y1="1552.48" x2="1875.2" y2="1566.58" stroke="#9a2fb5" stroke-width="2" stroke-linecap="butt"/>
<line x1="1868.2" y1="1552.48" x2="1882.2" y2="1552.48" stroke="#9a2fb5" stroke-width="2" stroke-linecap="butt"/>
<line x1="1868.2" y1="1566.58" x2="1882.2" y2="1566.58" stroke="#9a2fb5" stroke-width="2" stroke-linecap="butt"/>
<circle cx="1909.1" cy="1653.4" r="4.7" fill="none" stroke="#9a2fb5" stroke-width="2.4"/>
<circle cx="1918.1" cy="1658.93" r="4.7" fill="none" stroke="#9a2fb5" stroke-width="2.4"/>
<circle cx="1928.1" cy="1660.31" r="4.7" fill="none" stroke="#9a2fb5" stroke-width="2.4"/>
<line x1="1918.1" y1="1653.95" x2="1918.1" y2="1663.08" stroke="#9a2fb5" stroke-width="2" stroke-linecap="butt"/>
<line x1="1911.1" y1="1653.95" x2="1925.1" y2="1653.95" stroke="#9a2fb5" stroke-width="2" stroke-linecap="butt"/>
<line x1="1911.1" y1="1663.08" x2="1925.1" y2="1663.08" stroke="#9a2fb5" stroke-width="2" stroke-linecap="butt"/>
<text x="1835.1" y="1362.4" font-size="24.5" font-weight="normal" text-anchor="start" fill="#000">P=5.4x10<tspan font-size="16.17" dy="-9.8">-6</tspan></text>
<line x1="1872.7" y1="1375" x2="1917.8" y2="1375" stroke="#000" stroke-width="3.2" stroke-linecap="round"/>
<text x="1873.9" y="1402.5" font-size="24.5" font-weight="normal" text-anchor="middle" fill="#000">P=0.0011</text>
<line x1="1830.4" y1="1414.5" x2="1918.4" y2="1414.5" stroke="#000" stroke-width="3.2" stroke-linecap="round"/>
<text x="1794.1" y="1443.5" font-size="24.5" font-weight="normal" text-anchor="start" fill="#000">P=7.5x10<tspan font-size="16.17" dy="-9.8">-8</tspan></text>
<line x1="1790" y1="1456.1" x2="1918.4" y2="1456.1" stroke="#000" stroke-width="3.2" stroke-linecap="round"/>
<text x="1790.7" y="1801" font-size="27" font-weight="bold" text-anchor="middle" fill="#000">-</text>
<text x="1834.2" y="1801" font-size="27" font-weight="bold" text-anchor="middle" fill="#000">+</text>
<text x="1880.5" y="1801" font-size="27" font-weight="bold" text-anchor="middle" fill="#000">-</text>
<text x="1925.7" y="1801" font-size="27" font-weight="bold" text-anchor="middle" fill="#000">+</text>
<text x="1791.6" y="1841" font-size="27" font-weight="bold" text-anchor="middle" fill="#000">-</text>
<text x="1833.6" y="1841" font-size="27" font-weight="bold" text-anchor="middle" fill="#000">-</text>
<text x="1885.6" y="1841" font-size="27" font-weight="bold" text-anchor="middle" fill="#000">+</text>
<text x="1926.6" y="1841" font-size="27" font-weight="bold" text-anchor="middle" fill="#000">+</text>
<text x="1961.3" y="1801.5" font-size="24.6" font-weight="bold" text-anchor="start" fill="#000">FSEN1 (10 <tspan font-family='"Liberation Serif", serif' font-weight="normal">μ</tspan>M)</text>
<text x="1962" y="1840.2" font-size="24.8" font-weight="bold" text-anchor="start" fill="#000">BSO (1 <tspan font-weight="normal">m</tspan>M)</text>
</g>
</svg>
</body></html>
